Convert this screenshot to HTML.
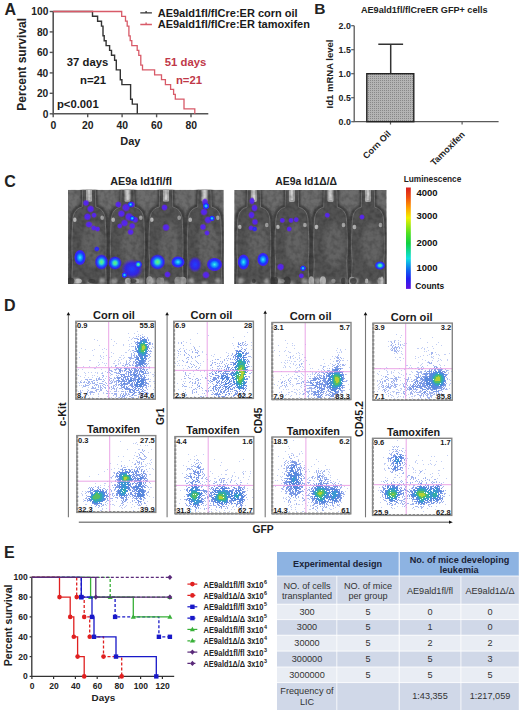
<!DOCTYPE html>
<html><head><meta charset="utf-8"><style>
html,body{margin:0;padding:0;background:#fff;width:520px;height:711px;overflow:hidden}
svg{display:block}
text{font-family:"Liberation Sans", sans-serif}
</style></head><body>
<svg width="520" height="711" viewBox="0 0 520 711">
<text x="4.40" y="14.80" font-size="16" fill="#222" text-anchor="start" style="font-weight:bold;" >A</text>
<path d="M53.2 11.46V113.8H208.3" stroke="#555" stroke-width="1.6" fill="none"/>
<path d="M49.7 113.8H53.2" stroke="#555" stroke-width="1.4"/>
<text x="48.30" y="117.50" font-size="10.2" fill="#222" text-anchor="end" style="font-weight:bold;" >0</text>
<path d="M49.7 93.3H53.2" stroke="#555" stroke-width="1.4"/>
<text x="48.30" y="97.03" font-size="10.2" fill="#222" text-anchor="end" style="font-weight:bold;" >20</text>
<path d="M49.7 72.9H53.2" stroke="#555" stroke-width="1.4"/>
<text x="48.30" y="76.56" font-size="10.2" fill="#222" text-anchor="end" style="font-weight:bold;" >40</text>
<path d="M49.7 52.4H53.2" stroke="#555" stroke-width="1.4"/>
<text x="48.30" y="56.10" font-size="10.2" fill="#222" text-anchor="end" style="font-weight:bold;" >60</text>
<path d="M49.7 31.9H53.2" stroke="#555" stroke-width="1.4"/>
<text x="48.30" y="35.63" font-size="10.2" fill="#222" text-anchor="end" style="font-weight:bold;" >80</text>
<path d="M49.7 11.5H53.2" stroke="#555" stroke-width="1.4"/>
<text x="48.30" y="15.16" font-size="10.2" fill="#222" text-anchor="end" style="font-weight:bold;" >100</text>
<path d="M53.2 113.8V117.3" stroke="#555" stroke-width="1.4"/>
<text x="53.40" y="128.50" font-size="10.4" fill="#222" text-anchor="middle" style="font-weight:bold;" >0</text>
<path d="M87.7 113.8V117.3" stroke="#555" stroke-width="1.4"/>
<text x="87.86" y="128.50" font-size="10.4" fill="#222" text-anchor="middle" style="font-weight:bold;" >20</text>
<path d="M122.1 113.8V117.3" stroke="#555" stroke-width="1.4"/>
<text x="122.32" y="128.50" font-size="10.4" fill="#222" text-anchor="middle" style="font-weight:bold;" >40</text>
<path d="M156.6 113.8V117.3" stroke="#555" stroke-width="1.4"/>
<text x="156.78" y="128.50" font-size="10.4" fill="#222" text-anchor="middle" style="font-weight:bold;" >60</text>
<path d="M191.0 113.8V117.3" stroke="#555" stroke-width="1.4"/>
<text x="191.24" y="128.50" font-size="10.4" fill="#222" text-anchor="middle" style="font-weight:bold;" >80</text>
<text x="130.30" y="145.20" font-size="11" fill="#222" text-anchor="middle" style="font-weight:bold;" >Day</text>
<text transform="translate(26.3 64.3) rotate(-90)" font-size="12" text-anchor="middle" style="font-weight:bold" fill="#222">Percent survival</text>
<path d="M53.2 11.5H92.5V16.3H97.6V21.2H101.5V26.1H103.0V35.8H104.2V40.7H106.1V45.6H109.6V50.4H111.5V55.3H114.6V60.2H116.3V69.9H120.3V79.7H121.9V84.6H130.6V99.2H132.3V104.1H137.3V113.8" stroke="#333" stroke-width="1.4" fill="none"/>
<path d="M53.2 11.5H121.7V16.3H125.5V21.2H127.2V26.1H128.9V35.8H130.2V40.7H131.8V45.6H137.2V50.4H138.8V55.3H140.8V65.1H142.5V69.9H154.6V74.8H161.5V79.7H165.4V84.6H170.6V89.4H173.6V94.3H175.3V99.2H184.0V108.9H194.8V113.8" stroke="#d85a68" stroke-width="1.3" fill="none"/>
<text x="66.80" y="66.00" font-size="11.3" fill="#1a1a1a" text-anchor="start" style="font-weight:bold;" >37 days</text>
<text x="80.00" y="84.00" font-size="11.3" fill="#1a1a1a" text-anchor="start" style="font-weight:bold;" >n=21</text>
<text x="56.90" y="108.40" font-size="11.3" fill="#1a1a1a" text-anchor="start" style="font-weight:bold;" >p&lt;0.001</text>
<text x="164.80" y="66.00" font-size="11.3" fill="#c03848" text-anchor="start" style="font-weight:bold;" >51 days</text>
<text x="175.90" y="84.00" font-size="11.3" fill="#c03848" text-anchor="start" style="font-weight:bold;" >n=21</text>
<path d="M140.3 12.9H151.9M146.1 10.9V12.9" stroke="#333" stroke-width="1.3"/>
<path d="M140.3 24.5H151.9M146.1 22.5V24.5" stroke="#d85a68" stroke-width="1.3"/>
<text x="157.70" y="17.00" font-size="11" fill="#1a1a1a" text-anchor="start" style="font-weight:bold;" >AE9ald1fl/flCre:ER corn oil</text>
<text x="157.70" y="28.40" font-size="11" fill="#1a1a1a" text-anchor="start" style="font-weight:bold;" >AE9ald1fl/flCre:ER tamoxifen</text>
<text x="314.30" y="13.90" font-size="15.5" fill="#222" text-anchor="start" style="font-weight:bold;" >B</text>
<text x="424.30" y="12.50" font-size="9.1" fill="#222" text-anchor="middle" style="font-weight:bold;" >AE9ald1fl/flCreER GFP+ cells</text>
<defs><pattern id="dots" width="2" height="2" patternUnits="userSpaceOnUse"><rect width="2" height="2" fill="#b4b4b4"/><rect width="1" height="1" fill="#888"/></pattern></defs>
<path d="M354.2 25.7V121.7H498.6" stroke="#5a5a5a" stroke-width="1.3" fill="none"/>
<path d="M351.2 121.7H354.2" stroke="#5a5a5a" stroke-width="1.2"/>
<text x="350.80" y="124.90" font-size="8.8" fill="#222" text-anchor="end" style="font-weight:bold;" >0.0</text>
<path d="M351.2 97.7H354.2" stroke="#5a5a5a" stroke-width="1.2"/>
<text x="350.80" y="100.90" font-size="8.8" fill="#222" text-anchor="end" style="font-weight:bold;" >0.5</text>
<path d="M351.2 73.7H354.2" stroke="#5a5a5a" stroke-width="1.2"/>
<text x="350.80" y="76.90" font-size="8.8" fill="#222" text-anchor="end" style="font-weight:bold;" >1.0</text>
<path d="M351.2 49.7H354.2" stroke="#5a5a5a" stroke-width="1.2"/>
<text x="350.80" y="52.90" font-size="8.8" fill="#222" text-anchor="end" style="font-weight:bold;" >1.5</text>
<path d="M351.2 25.7H354.2" stroke="#5a5a5a" stroke-width="1.2"/>
<text x="350.80" y="28.90" font-size="8.8" fill="#222" text-anchor="end" style="font-weight:bold;" >2.0</text>
<path d="M390.5 121.7V124.5" stroke="#5a5a5a" stroke-width="1.2"/>
<path d="M462.1 121.7V124.5" stroke="#5a5a5a" stroke-width="1.2"/>
<path d="M390.7 73.7V44.2M378.3 44.2H403.1" stroke="#333" stroke-width="1.5"/>
<rect x="366.8" y="73.7" width="47" height="48.0" fill="url(#dots)" stroke="#222" stroke-width="1.4"/>
<text transform="translate(333 74) rotate(-90)" font-size="9.5" text-anchor="middle" style="font-weight:bold" fill="#222">Id1 mRNA level</text>
<text transform="translate(391.5 134.5) rotate(-45)" font-size="9" text-anchor="end" style="font-weight:bold" fill="#222">Corn Oil</text>
<text transform="translate(465.5 135) rotate(-45)" font-size="9" text-anchor="end" style="font-weight:bold" fill="#222">Tamoxifen</text>
<defs><filter id="bl03" x="-5%" y="-5%" width="110%" height="110%"><feGaussianBlur stdDeviation="0.45"/></filter></defs>
<text x="4.30" y="186.80" font-size="16" fill="#222" text-anchor="start" style="font-weight:bold;" >C</text>
<text x="141.10" y="185.00" font-size="10.8" fill="#222" text-anchor="middle" style="font-weight:bold;" >AE9a Id1fl/fl</text>
<text x="306.20" y="185.00" font-size="10.4" fill="#222" text-anchor="middle" style="font-weight:bold;" >AE9a Id1&#916;/&#916;</text>
<defs>
<filter id="bl1" x="-50%" y="-50%" width="200%" height="200%"><feGaussianBlur stdDeviation="1.2"/></filter>
<filter id="bl2" x="-50%" y="-50%" width="200%" height="200%"><feGaussianBlur stdDeviation="2.2"/></filter>
<filter id="bl05" x="-50%" y="-50%" width="200%" height="200%"><feGaussianBlur stdDeviation="0.6"/></filter>
<filter id="noise" x="0" y="0" width="100%" height="100%"><feTurbulence type="fractalNoise" baseFrequency="0.22" numOctaves="2" seed="3"/><feColorMatrix type="matrix" values="0 0 0 0 0  0 0 0 0 0  0 0 0 0 0  1.2 0 0 0 -0.45"/></filter>
<clipPath id="cp1"><rect x="68" y="189.8" width="155.8" height="94.2"/></clipPath>
<clipPath id="cp2"><rect x="234.2" y="190" width="152.5" height="94"/></clipPath>
<linearGradient id="cbar" x1="0" y1="0" x2="0" y2="1">
<stop offset="0" stop-color="#d81e1e"/><stop offset="0.1" stop-color="#f05010"/><stop offset="0.2" stop-color="#ffa000"/>
<stop offset="0.3" stop-color="#f0f000"/><stop offset="0.45" stop-color="#50e020"/><stop offset="0.55" stop-color="#10d040"/>
<stop offset="0.7" stop-color="#10e0e0"/><stop offset="0.82" stop-color="#1060f0"/><stop offset="0.9" stop-color="#2020f0"/><stop offset="1" stop-color="#6010e0"/>
</linearGradient>
<radialGradient id="gb"><stop offset="0" stop-color="#70f070"/><stop offset="0.28" stop-color="#30e0c0"/><stop offset="0.5" stop-color="#1870ff"/><stop offset="0.78" stop-color="#3020f0"/><stop offset="1" stop-color="#5020e0" stop-opacity="0"/></radialGradient>
<radialGradient id="gc"><stop offset="0" stop-color="#40f0f0"/><stop offset="0.3" stop-color="#10a0f8"/><stop offset="0.6" stop-color="#1838ff"/><stop offset="0.85" stop-color="#4020f0"/><stop offset="1" stop-color="#5020e0" stop-opacity="0"/></radialGradient>
<radialGradient id="gp"><stop offset="0" stop-color="#4c28f8"/><stop offset="0.6" stop-color="#5a22ee" stop-opacity="0.9"/><stop offset="1" stop-color="#6020e0" stop-opacity="0"/></radialGradient>
<radialGradient id="gbl"><stop offset="0" stop-color="#2040ff"/><stop offset="0.6" stop-color="#3020f0" stop-opacity="0.9"/><stop offset="1" stop-color="#5020e0" stop-opacity="0"/></radialGradient>
</defs>
<g clip-path="url(#cp1)">
<rect x="68" y="189.8" width="155.8" height="94.2" fill="#6c6c6c"/>
<path d="M82.0 187.8 L96.0 187.8 L96.5 205.8 C105.2 207.8 107.2 213.8 107.2 223.8 C108.2 239.8 108.2 251.8 107.2 261.8 L108.2 286.0 L69.8 286.0 L70.8 261.8 C69.8 251.8 69.8 239.8 70.8 223.8 C70.8 213.8 72.8 207.8 81.5 205.8Z" fill="#525252" stroke="#303030" stroke-width="1.8" filter="url(#bl1)"/>
<path d="M82.0 187.8 L96.0 187.8 L96.5 205.8 C105.2 207.8 107.2 213.8 107.2 223.8 C108.2 239.8 108.2 251.8 107.2 261.8 L108.2 286.0 L69.8 286.0 L70.8 261.8 C69.8 251.8 69.8 239.8 70.8 223.8 C70.8 213.8 72.8 207.8 81.5 205.8Z" fill="none" stroke="#8a8a8a" stroke-width="0.8" transform="translate(89.0 236.9) scale(0.9 0.96) translate(-89.0 -236.9)" filter="url(#bl05)" opacity="0.8"/>
<ellipse cx="93.0" cy="244.8" rx="10.6" ry="22" fill="#636363" filter="url(#bl2)"/>
<ellipse cx="74.8" cy="219.8" rx="1.8" ry="2.3" fill="#b8b8b8" filter="url(#bl05)"/>
<ellipse cx="102.2" cy="217.8" rx="1.8" ry="2.2" fill="#a8a8a8" filter="url(#bl05)"/>
<rect x="86.0" y="187.8" width="6" height="14" rx="1.5" fill="#a8a8a8" filter="url(#bl05)"/>
<rect x="87.8" y="187.8" width="2.4" height="12" fill="#d0d0d0" filter="url(#bl05)"/>
<ellipse cx="75.8" cy="281.0" rx="3" ry="3" fill="#9a9a9a" filter="url(#bl1)"/>
<ellipse cx="102.2" cy="281.0" rx="3" ry="3" fill="#9a9a9a" filter="url(#bl1)"/>
<ellipse cx="89.0" cy="283.0" rx="3" ry="2" fill="#8a8a8a" filter="url(#bl1)"/>
<path d="M120.5 187.8 L134.5 187.8 L135.0 205.8 C143.8 207.8 145.8 213.8 145.8 223.8 C146.8 239.8 146.8 251.8 145.8 261.8 L146.8 286.0 L108.2 286.0 L109.2 261.8 C108.2 251.8 108.2 239.8 109.2 223.8 C109.2 213.8 111.2 207.8 120.0 205.8Z" fill="#525252" stroke="#303030" stroke-width="1.8" filter="url(#bl1)"/>
<path d="M120.5 187.8 L134.5 187.8 L135.0 205.8 C143.8 207.8 145.8 213.8 145.8 223.8 C146.8 239.8 146.8 251.8 145.8 261.8 L146.8 286.0 L108.2 286.0 L109.2 261.8 C108.2 251.8 108.2 239.8 109.2 223.8 C109.2 213.8 111.2 207.8 120.0 205.8Z" fill="none" stroke="#8a8a8a" stroke-width="0.8" transform="translate(127.5 236.9) scale(0.9 0.96) translate(-127.5 -236.9)" filter="url(#bl05)" opacity="0.8"/>
<ellipse cx="131.5" cy="244.8" rx="10.6" ry="22" fill="#636363" filter="url(#bl2)"/>
<ellipse cx="113.2" cy="219.8" rx="1.8" ry="2.3" fill="#b8b8b8" filter="url(#bl05)"/>
<ellipse cx="140.8" cy="217.8" rx="1.8" ry="2.2" fill="#a8a8a8" filter="url(#bl05)"/>
<rect x="124.5" y="187.8" width="6" height="14" rx="1.5" fill="#a8a8a8" filter="url(#bl05)"/>
<rect x="126.3" y="187.8" width="2.4" height="12" fill="#d0d0d0" filter="url(#bl05)"/>
<ellipse cx="114.2" cy="281.0" rx="3" ry="3" fill="#9a9a9a" filter="url(#bl1)"/>
<ellipse cx="140.8" cy="281.0" rx="3" ry="3" fill="#9a9a9a" filter="url(#bl1)"/>
<ellipse cx="127.5" cy="283.0" rx="3" ry="2" fill="#8a8a8a" filter="url(#bl1)"/>
<path d="M159.0 187.8 L173.0 187.8 L173.5 205.8 C182.2 207.8 184.2 213.8 184.2 223.8 C185.2 239.8 185.2 251.8 184.2 261.8 L185.2 286.0 L146.8 286.0 L147.8 261.8 C146.8 251.8 146.8 239.8 147.8 223.8 C147.8 213.8 149.8 207.8 158.5 205.8Z" fill="#525252" stroke="#303030" stroke-width="1.8" filter="url(#bl1)"/>
<path d="M159.0 187.8 L173.0 187.8 L173.5 205.8 C182.2 207.8 184.2 213.8 184.2 223.8 C185.2 239.8 185.2 251.8 184.2 261.8 L185.2 286.0 L146.8 286.0 L147.8 261.8 C146.8 251.8 146.8 239.8 147.8 223.8 C147.8 213.8 149.8 207.8 158.5 205.8Z" fill="none" stroke="#8a8a8a" stroke-width="0.8" transform="translate(166.0 236.9) scale(0.9 0.96) translate(-166.0 -236.9)" filter="url(#bl05)" opacity="0.8"/>
<ellipse cx="170.0" cy="244.8" rx="10.6" ry="22" fill="#636363" filter="url(#bl2)"/>
<ellipse cx="151.8" cy="219.8" rx="1.8" ry="2.3" fill="#b8b8b8" filter="url(#bl05)"/>
<ellipse cx="179.2" cy="217.8" rx="1.8" ry="2.2" fill="#a8a8a8" filter="url(#bl05)"/>
<rect x="163.0" y="187.8" width="6" height="14" rx="1.5" fill="#a8a8a8" filter="url(#bl05)"/>
<rect x="164.8" y="187.8" width="2.4" height="12" fill="#d0d0d0" filter="url(#bl05)"/>
<ellipse cx="152.8" cy="281.0" rx="3" ry="3" fill="#9a9a9a" filter="url(#bl1)"/>
<ellipse cx="179.2" cy="281.0" rx="3" ry="3" fill="#9a9a9a" filter="url(#bl1)"/>
<ellipse cx="166.0" cy="283.0" rx="3" ry="2" fill="#8a8a8a" filter="url(#bl1)"/>
<path d="M197.5 187.8 L211.5 187.8 L212.0 205.8 C220.8 207.8 222.8 213.8 222.8 223.8 C223.8 239.8 223.8 251.8 222.8 261.8 L223.8 286.0 L185.2 286.0 L186.2 261.8 C185.2 251.8 185.2 239.8 186.2 223.8 C186.2 213.8 188.2 207.8 197.0 205.8Z" fill="#525252" stroke="#303030" stroke-width="1.8" filter="url(#bl1)"/>
<path d="M197.5 187.8 L211.5 187.8 L212.0 205.8 C220.8 207.8 222.8 213.8 222.8 223.8 C223.8 239.8 223.8 251.8 222.8 261.8 L223.8 286.0 L185.2 286.0 L186.2 261.8 C185.2 251.8 185.2 239.8 186.2 223.8 C186.2 213.8 188.2 207.8 197.0 205.8Z" fill="none" stroke="#8a8a8a" stroke-width="0.8" transform="translate(204.5 236.9) scale(0.9 0.96) translate(-204.5 -236.9)" filter="url(#bl05)" opacity="0.8"/>
<ellipse cx="208.5" cy="244.8" rx="10.6" ry="22" fill="#636363" filter="url(#bl2)"/>
<ellipse cx="190.2" cy="219.8" rx="1.8" ry="2.3" fill="#b8b8b8" filter="url(#bl05)"/>
<ellipse cx="217.8" cy="217.8" rx="1.8" ry="2.2" fill="#a8a8a8" filter="url(#bl05)"/>
<rect x="201.5" y="187.8" width="6" height="14" rx="1.5" fill="#a8a8a8" filter="url(#bl05)"/>
<rect x="203.3" y="187.8" width="2.4" height="12" fill="#d0d0d0" filter="url(#bl05)"/>
<ellipse cx="191.2" cy="281.0" rx="3" ry="3" fill="#9a9a9a" filter="url(#bl1)"/>
<ellipse cx="217.8" cy="281.0" rx="3" ry="3" fill="#9a9a9a" filter="url(#bl1)"/>
<ellipse cx="204.5" cy="283.0" rx="3" ry="2" fill="#8a8a8a" filter="url(#bl1)"/>
<ellipse cx="182.6" cy="281.0" rx="3.9" ry="4.2" fill="#b0b0b0" filter="url(#bl05)" opacity="0.8"/>
<ellipse cx="162.1" cy="281.0" rx="2.1" ry="3.4" fill="#9a9a9a" filter="url(#bl05)" opacity="0.8"/>
<ellipse cx="136.5" cy="281.0" rx="2.9" ry="2.5" fill="#b0b0b0" filter="url(#bl05)" opacity="0.8"/>
<ellipse cx="76.3" cy="281.0" rx="3.3" ry="2.3" fill="#9a9a9a" filter="url(#bl05)" opacity="0.8"/>
<ellipse cx="78.4" cy="281.0" rx="3.5" ry="2.5" fill="#c8c8c8" filter="url(#bl05)" opacity="0.8"/>
<ellipse cx="70.7" cy="281.0" rx="3.6" ry="3.3" fill="#3a3a3a" filter="url(#bl05)" opacity="0.8"/>
<ellipse cx="149.5" cy="281.0" rx="3.3" ry="4.7" fill="#b0b0b0" filter="url(#bl05)" opacity="0.8"/>
<ellipse cx="159.5" cy="281.0" rx="3.1" ry="3.8" fill="#9a9a9a" filter="url(#bl05)" opacity="0.8"/>
<ellipse cx="91.8" cy="281.0" rx="3.6" ry="2.0" fill="#3a3a3a" filter="url(#bl05)" opacity="0.8"/>
<ellipse cx="127.9" cy="281.0" rx="3.0" ry="2.9" fill="#c8c8c8" filter="url(#bl05)" opacity="0.8"/>
<ellipse cx="134.2" cy="281.0" rx="2.5" ry="2.4" fill="#9a9a9a" filter="url(#bl05)" opacity="0.8"/>
<ellipse cx="133.3" cy="281.0" rx="3.2" ry="2.1" fill="#3a3a3a" filter="url(#bl05)" opacity="0.8"/>
<ellipse cx="128.5" cy="281.0" rx="1.9" ry="2.7" fill="#9a9a9a" filter="url(#bl05)" opacity="0.8"/>
<ellipse cx="177.9" cy="281.0" rx="3.5" ry="4.3" fill="#9a9a9a" filter="url(#bl05)" opacity="0.8"/>
<rect x="68" y="189.8" width="155.8" height="94.2" filter="url(#noise)" opacity="0.35"/>
<ellipse cx="86" cy="203" rx="3.5" ry="3.5" fill="url(#gp)" filter="url(#bl05)"/>
<ellipse cx="90.6" cy="209" rx="4" ry="4" fill="url(#gp)" filter="url(#bl05)"/>
<ellipse cx="87.5" cy="216.8" rx="4" ry="4" fill="url(#gp)" filter="url(#bl05)"/>
<ellipse cx="94" cy="215.2" rx="3" ry="3" fill="url(#gp)" filter="url(#bl05)"/>
<ellipse cx="89" cy="224.5" rx="4" ry="3.5" fill="url(#gp)" filter="url(#bl05)"/>
<ellipse cx="93.7" cy="228" rx="3" ry="3" fill="url(#gp)" filter="url(#bl05)"/>
<ellipse cx="97.5" cy="229" rx="3" ry="3" fill="url(#gp)" filter="url(#bl05)"/>
<ellipse cx="96.8" cy="249" rx="3" ry="3" fill="url(#gbl)" filter="url(#bl05)"/>
<ellipse cx="80" cy="257.5" rx="6" ry="8" fill="url(#gc)" filter="url(#bl05)"/>
<ellipse cx="101.5" cy="262" rx="7" ry="8" fill="url(#gb)" filter="url(#bl05)"/>
<ellipse cx="118.3" cy="204.5" rx="3.5" ry="3.5" fill="url(#gp)" filter="url(#bl05)"/>
<ellipse cx="126" cy="207.5" rx="4.5" ry="4.5" fill="url(#gp)" filter="url(#bl05)"/>
<ellipse cx="132" cy="204.5" rx="3.5" ry="3.5" fill="url(#gp)" filter="url(#bl05)"/>
<ellipse cx="121.4" cy="213.7" rx="4" ry="4" fill="url(#gp)" filter="url(#bl05)"/>
<ellipse cx="129" cy="216.8" rx="4.5" ry="4.5" fill="url(#gp)" filter="url(#bl05)"/>
<ellipse cx="135.2" cy="219.8" rx="3.5" ry="3.5" fill="url(#gp)" filter="url(#bl05)"/>
<ellipse cx="124.5" cy="223" rx="4" ry="4" fill="url(#gp)" filter="url(#bl05)"/>
<ellipse cx="132.2" cy="226" rx="3.5" ry="3.5" fill="url(#gp)" filter="url(#bl05)"/>
<ellipse cx="119.8" cy="226" rx="3" ry="3" fill="url(#gp)" filter="url(#bl05)"/>
<ellipse cx="130.6" cy="204.5" rx="3" ry="3" fill="url(#gc)" filter="url(#bl05)"/>
<ellipse cx="132.2" cy="218.3" rx="3" ry="3" fill="url(#gc)" filter="url(#bl05)"/>
<ellipse cx="130.6" cy="232" rx="3.5" ry="3.5" fill="url(#gp)" filter="url(#bl05)"/>
<ellipse cx="115" cy="263" rx="7" ry="7" fill="url(#gb)" filter="url(#bl05)"/>
<ellipse cx="132" cy="269" rx="11" ry="10" fill="url(#gbl)" filter="url(#bl05)"/>
<ellipse cx="124.5" cy="275" rx="3" ry="3" fill="url(#gc)" filter="url(#bl05)"/>
<ellipse cx="138.3" cy="264.5" rx="4" ry="4" fill="url(#gb)" filter="url(#bl05)"/>
<ellipse cx="164.5" cy="207.5" rx="3.5" ry="3.5" fill="url(#gp)" filter="url(#bl05)"/>
<ellipse cx="166" cy="227.5" rx="4" ry="4" fill="url(#gp)" filter="url(#bl05)"/>
<ellipse cx="157.5" cy="262" rx="8" ry="8" fill="url(#gb)" filter="url(#bl05)"/>
<ellipse cx="178" cy="262" rx="7" ry="6" fill="url(#gc)" filter="url(#bl05)"/>
<ellipse cx="167.5" cy="274.5" rx="3.5" ry="3.5" fill="url(#gp)" filter="url(#bl05)"/>
<ellipse cx="205" cy="202" rx="3.5" ry="4" fill="url(#gp)" filter="url(#bl05)"/>
<ellipse cx="204" cy="212" rx="4" ry="4" fill="url(#gp)" filter="url(#bl05)"/>
<ellipse cx="208" cy="220" rx="4" ry="4" fill="url(#gp)" filter="url(#bl05)"/>
<ellipse cx="203" cy="227" rx="3.5" ry="3.5" fill="url(#gp)" filter="url(#bl05)"/>
<ellipse cx="207" cy="233" rx="3" ry="3" fill="url(#gp)" filter="url(#bl05)"/>
<ellipse cx="206" cy="206" rx="3.5" ry="3.5" fill="url(#gc)" filter="url(#bl05)"/>
<ellipse cx="212" cy="218.3" rx="3" ry="3" fill="url(#gc)" filter="url(#bl05)"/>
<ellipse cx="195" cy="264.5" rx="7" ry="8" fill="url(#gbl)" filter="url(#bl05)"/>
<ellipse cx="214.5" cy="264.5" rx="8" ry="7" fill="url(#gc)" filter="url(#bl05)"/>
<ellipse cx="206" cy="275" rx="4" ry="4" fill="url(#gp)" filter="url(#bl05)"/>
</g>
<g clip-path="url(#cp2)">
<rect x="234.2" y="190" width="152.5" height="94" fill="#6c6c6c"/>
<path d="M246.8 188 L260.8 188 L261.3 206 C269.8 208 271.8 214 271.8 224 C272.8 240 272.8 252 271.8 262 L272.8 286 L234.8 286 L235.8 262 C234.8 252 234.8 240 235.8 224 C235.8 214 237.8 208 246.3 206Z" fill="#525252" stroke="#303030" stroke-width="1.8" filter="url(#bl1)"/>
<path d="M246.8 188 L260.8 188 L261.3 206 C269.8 208 271.8 214 271.8 224 C272.8 240 272.8 252 271.8 262 L272.8 286 L234.8 286 L235.8 262 C234.8 252 234.8 240 235.8 224 C235.8 214 237.8 208 246.3 206Z" fill="none" stroke="#8a8a8a" stroke-width="0.8" transform="translate(253.8 237.0) scale(0.9 0.96) translate(-253.8 -237.0)" filter="url(#bl05)" opacity="0.8"/>
<ellipse cx="257.8" cy="245" rx="10.5" ry="22" fill="#636363" filter="url(#bl2)"/>
<ellipse cx="239.8" cy="227" rx="1.8" ry="2.3" fill="#b8b8b8" filter="url(#bl05)"/>
<ellipse cx="266.8" cy="225" rx="1.8" ry="2.2" fill="#a8a8a8" filter="url(#bl05)"/>
<rect x="250.8" y="188" width="6" height="14" rx="1.5" fill="#a8a8a8" filter="url(#bl05)"/>
<rect x="252.6" y="188" width="2.4" height="12" fill="#d0d0d0" filter="url(#bl05)"/>
<ellipse cx="240.8" cy="281" rx="3" ry="3" fill="#9a9a9a" filter="url(#bl1)"/>
<ellipse cx="266.8" cy="281" rx="3" ry="3" fill="#9a9a9a" filter="url(#bl1)"/>
<ellipse cx="253.8" cy="283" rx="3" ry="2" fill="#8a8a8a" filter="url(#bl1)"/>
<path d="M284.9 188 L298.9 188 L299.4 206 C307.9 208 309.9 214 309.9 224 C310.9 240 310.9 252 309.9 262 L310.9 286 L272.9 286 L273.9 262 C272.9 252 272.9 240 273.9 224 C273.9 214 275.9 208 284.4 206Z" fill="#525252" stroke="#303030" stroke-width="1.8" filter="url(#bl1)"/>
<path d="M284.9 188 L298.9 188 L299.4 206 C307.9 208 309.9 214 309.9 224 C310.9 240 310.9 252 309.9 262 L310.9 286 L272.9 286 L273.9 262 C272.9 252 272.9 240 273.9 224 C273.9 214 275.9 208 284.4 206Z" fill="none" stroke="#8a8a8a" stroke-width="0.8" transform="translate(291.9 237.0) scale(0.9 0.96) translate(-291.9 -237.0)" filter="url(#bl05)" opacity="0.8"/>
<ellipse cx="295.9" cy="245" rx="10.5" ry="22" fill="#636363" filter="url(#bl2)"/>
<ellipse cx="277.9" cy="227" rx="1.8" ry="2.3" fill="#b8b8b8" filter="url(#bl05)"/>
<ellipse cx="304.9" cy="225" rx="1.8" ry="2.2" fill="#a8a8a8" filter="url(#bl05)"/>
<rect x="288.9" y="188" width="6" height="14" rx="1.5" fill="#a8a8a8" filter="url(#bl05)"/>
<rect x="290.7" y="188" width="2.4" height="12" fill="#d0d0d0" filter="url(#bl05)"/>
<ellipse cx="278.9" cy="281" rx="3" ry="3" fill="#9a9a9a" filter="url(#bl1)"/>
<ellipse cx="304.9" cy="281" rx="3" ry="3" fill="#9a9a9a" filter="url(#bl1)"/>
<ellipse cx="291.9" cy="283" rx="3" ry="2" fill="#8a8a8a" filter="url(#bl1)"/>
<path d="M323.5 188 L337.5 188 L338.0 206 C346.5 208 348.5 214 348.5 224 C349.5 240 349.5 252 348.5 262 L349.5 286 L311.5 286 L312.5 262 C311.5 252 311.5 240 312.5 224 C312.5 214 314.5 208 323.0 206Z" fill="#525252" stroke="#303030" stroke-width="1.8" filter="url(#bl1)"/>
<path d="M323.5 188 L337.5 188 L338.0 206 C346.5 208 348.5 214 348.5 224 C349.5 240 349.5 252 348.5 262 L349.5 286 L311.5 286 L312.5 262 C311.5 252 311.5 240 312.5 224 C312.5 214 314.5 208 323.0 206Z" fill="none" stroke="#8a8a8a" stroke-width="0.8" transform="translate(330.5 237.0) scale(0.9 0.96) translate(-330.5 -237.0)" filter="url(#bl05)" opacity="0.8"/>
<ellipse cx="334.5" cy="245" rx="10.5" ry="22" fill="#636363" filter="url(#bl2)"/>
<ellipse cx="316.5" cy="227" rx="1.8" ry="2.3" fill="#b8b8b8" filter="url(#bl05)"/>
<ellipse cx="343.5" cy="225" rx="1.8" ry="2.2" fill="#a8a8a8" filter="url(#bl05)"/>
<rect x="327.5" y="188" width="6" height="14" rx="1.5" fill="#a8a8a8" filter="url(#bl05)"/>
<rect x="329.3" y="188" width="2.4" height="12" fill="#d0d0d0" filter="url(#bl05)"/>
<ellipse cx="317.5" cy="281" rx="3" ry="3" fill="#9a9a9a" filter="url(#bl1)"/>
<ellipse cx="343.5" cy="281" rx="3" ry="3" fill="#9a9a9a" filter="url(#bl1)"/>
<ellipse cx="330.5" cy="283" rx="3" ry="2" fill="#8a8a8a" filter="url(#bl1)"/>
<path d="M361.0 188 L375.0 188 L375.5 206 C383.5 208 385.5 214 385.5 224 C386.5 240 386.5 252 385.5 262 L386.5 286 L349.5 286 L350.5 262 C349.5 252 349.5 240 350.5 224 C350.5 214 352.5 208 360.5 206Z" fill="#525252" stroke="#303030" stroke-width="1.8" filter="url(#bl1)"/>
<path d="M361.0 188 L375.0 188 L375.5 206 C383.5 208 385.5 214 385.5 224 C386.5 240 386.5 252 385.5 262 L386.5 286 L349.5 286 L350.5 262 C349.5 252 349.5 240 350.5 224 C350.5 214 352.5 208 360.5 206Z" fill="none" stroke="#8a8a8a" stroke-width="0.8" transform="translate(368.0 237.0) scale(0.9 0.96) translate(-368.0 -237.0)" filter="url(#bl05)" opacity="0.8"/>
<ellipse cx="372.0" cy="245" rx="10.2" ry="22" fill="#636363" filter="url(#bl2)"/>
<ellipse cx="354.5" cy="227" rx="1.8" ry="2.3" fill="#b8b8b8" filter="url(#bl05)"/>
<ellipse cx="380.5" cy="225" rx="1.8" ry="2.2" fill="#a8a8a8" filter="url(#bl05)"/>
<rect x="365.0" y="188" width="6" height="14" rx="1.5" fill="#a8a8a8" filter="url(#bl05)"/>
<rect x="366.8" y="188" width="2.4" height="12" fill="#d0d0d0" filter="url(#bl05)"/>
<ellipse cx="355.5" cy="281" rx="3" ry="3" fill="#9a9a9a" filter="url(#bl1)"/>
<ellipse cx="380.5" cy="281" rx="3" ry="3" fill="#9a9a9a" filter="url(#bl1)"/>
<ellipse cx="368.0" cy="283" rx="3" ry="2" fill="#8a8a8a" filter="url(#bl1)"/>
<ellipse cx="287.0" cy="281.0" rx="3.7" ry="4.6" fill="#3a3a3a" filter="url(#bl05)" opacity="0.8"/>
<ellipse cx="311.3" cy="281.0" rx="2.7" ry="4.7" fill="#c8c8c8" filter="url(#bl05)" opacity="0.8"/>
<ellipse cx="380.0" cy="281.0" rx="2.4" ry="3.5" fill="#b0b0b0" filter="url(#bl05)" opacity="0.8"/>
<ellipse cx="275.5" cy="281.0" rx="2.5" ry="4.1" fill="#3a3a3a" filter="url(#bl05)" opacity="0.8"/>
<ellipse cx="351.8" cy="281.0" rx="3.2" ry="4.2" fill="#b0b0b0" filter="url(#bl05)" opacity="0.8"/>
<ellipse cx="333.4" cy="281.0" rx="2.2" ry="2.3" fill="#9a9a9a" filter="url(#bl05)" opacity="0.8"/>
<ellipse cx="272.6" cy="281.0" rx="2.1" ry="4.6" fill="#3a3a3a" filter="url(#bl05)" opacity="0.8"/>
<ellipse cx="382.0" cy="281.0" rx="1.5" ry="4.5" fill="#c8c8c8" filter="url(#bl05)" opacity="0.8"/>
<ellipse cx="322.9" cy="281.0" rx="3.1" ry="4.7" fill="#c8c8c8" filter="url(#bl05)" opacity="0.8"/>
<ellipse cx="281.7" cy="281.0" rx="3.0" ry="2.0" fill="#9a9a9a" filter="url(#bl05)" opacity="0.8"/>
<ellipse cx="366.6" cy="281.0" rx="1.7" ry="2.4" fill="#c8c8c8" filter="url(#bl05)" opacity="0.8"/>
<ellipse cx="343.3" cy="281.0" rx="2.3" ry="3.5" fill="#3a3a3a" filter="url(#bl05)" opacity="0.8"/>
<ellipse cx="253.8" cy="281.0" rx="1.9" ry="2.2" fill="#3a3a3a" filter="url(#bl05)" opacity="0.8"/>
<ellipse cx="353.4" cy="281.0" rx="3.4" ry="3.1" fill="#3a3a3a" filter="url(#bl05)" opacity="0.8"/>
<rect x="234.2" y="190" width="152.5" height="94" filter="url(#noise)" opacity="0.35"/>
<ellipse cx="252" cy="201" rx="3" ry="4" fill="url(#gp)" filter="url(#bl05)"/>
<ellipse cx="254.5" cy="208" rx="3.5" ry="4" fill="url(#gp)" filter="url(#bl05)"/>
<ellipse cx="251.5" cy="215" rx="3.5" ry="4" fill="url(#gp)" filter="url(#bl05)"/>
<ellipse cx="255" cy="222" rx="3.5" ry="3.5" fill="url(#gp)" filter="url(#bl05)"/>
<ellipse cx="251" cy="228" rx="3" ry="3" fill="url(#gp)" filter="url(#bl05)"/>
<ellipse cx="254.6" cy="229" rx="3" ry="3" fill="url(#gbl)" filter="url(#bl05)"/>
<ellipse cx="243.5" cy="262" rx="6" ry="8" fill="url(#gc)" filter="url(#bl05)"/>
<ellipse cx="263" cy="259.5" rx="6" ry="7" fill="url(#gc)" filter="url(#bl05)"/>
<ellipse cx="282.3" cy="220.4" rx="3" ry="3" fill="url(#gp)" filter="url(#bl05)"/>
<ellipse cx="291" cy="220.4" rx="3" ry="3" fill="url(#gp)" filter="url(#bl05)"/>
<ellipse cx="296.2" cy="219.7" rx="3" ry="3" fill="url(#gp)" filter="url(#bl05)"/>
<ellipse cx="289.2" cy="229" rx="3" ry="3" fill="url(#gp)" filter="url(#bl05)"/>
<ellipse cx="303" cy="268.2" rx="3" ry="3" fill="url(#gc)" filter="url(#bl05)"/>
<ellipse cx="280.6" cy="267" rx="4" ry="4" fill="url(#gp)" filter="url(#bl05)"/>
<ellipse cx="301.3" cy="275.8" rx="3" ry="3" fill="url(#gp)" filter="url(#bl05)"/>
<ellipse cx="327.3" cy="215.2" rx="3" ry="3" fill="url(#gp)" filter="url(#bl05)"/>
<ellipse cx="362" cy="217" rx="3" ry="3" fill="url(#gp)" filter="url(#bl05)"/>
<ellipse cx="380" cy="265.5" rx="5.5" ry="4.5" fill="url(#gb)" filter="url(#bl05)"/>
</g>
<rect x="406" y="187.5" width="4.8" height="101.4" fill="url(#cbar)"/>
<text x="432.50" y="182.00" font-size="8.3" fill="#222" text-anchor="middle" style="font-weight:bold;" >Luminescence</text>
<text x="416.50" y="196.30" font-size="9.5" fill="#111" text-anchor="start" style="font-weight:bold;" >4000</text>
<text x="416.50" y="219.10" font-size="9.5" fill="#111" text-anchor="start" style="font-weight:bold;" >3000</text>
<text x="416.50" y="245.90" font-size="9.5" fill="#111" text-anchor="start" style="font-weight:bold;" >2000</text>
<text x="416.50" y="271.30" font-size="9.5" fill="#111" text-anchor="start" style="font-weight:bold;" >1000</text>
<text x="415.30" y="288.90" font-size="8.4" fill="#111" text-anchor="start" style="font-weight:bold;" >Counts</text>
<text x="4.00" y="311.30" font-size="16" fill="#222" text-anchor="start" style="font-weight:bold;" >D</text>
<g filter="url(#bl03)">
<path d="M78.5 369.5h0M78.5 375.5h0M78.5 382.5h0M78.5 391.5h0M79.5 352.5h0M79.5 357.5h0M79.5 383.5h0M79.5 385.5h0M79.5 396.5h0M80.5 376.5h0M80.5 396.5h0M81.5 348.5h0M81.5 380.5h0M81.5 385.5h0M81.5 396.5h0M82.5 369.5h0M82.5 387.5h0M82.5 390.5h0M83.5 366.5h0M83.5 396.5h0M84.5 372.5h0M84.5 377.5h0M84.5 394.5h0M85.5 349.5h0M85.5 373.5h0M85.5 375.5h0M86.5 393.5h0M87.5 389.5h0M87.5 394.5h0M87.5 398.5h0M88.5 372.5h0M88.5 377.5h0M88.5 387.5h0M88.5 395.5h0M88.5 398.5h0M89.5 360.5h0M89.5 366.5h0M89.5 397.5h0M90.5 360.5h0M91.5 372.5h0M92.5 350.5h0M92.5 375.5h0M92.5 377.5h0M92.5 397.5h0M93.5 355.5h0M93.5 394.5h0M94.5 339.5h0M94.5 349.5h0M94.5 368.5h0M94.5 375.5h0M95.5 368.5h0M95.5 372.5h0M96.5 366.5h0M97.5 340.5h0M97.5 372.5h0M97.5 373.5h0M97.5 376.5h0M98.5 362.5h0M98.5 365.5h0M98.5 393.5h0M98.5 394.5h0M98.5 396.5h0M98.5 398.5h0M99.5 345.5h0M99.5 364.5h0M100.5 355.5h0M100.5 356.5h0M100.5 359.5h0M101.5 357.5h0M101.5 369.5h0M101.5 373.5h0M101.5 398.5h0M102.5 349.5h0M102.5 362.5h0M102.5 372.5h0M103.5 352.5h0M103.5 356.5h0M103.5 358.5h0M103.5 392.5h0M103.5 393.5h0M104.5 348.5h0M104.5 363.5h0M105.5 365.5h0M105.5 371.5h0M105.5 378.5h0M106.5 349.5h0M106.5 355.5h0M106.5 363.5h0M106.5 376.5h0M107.5 396.5h0M108.5 359.5h0M108.5 376.5h0M108.5 395.5h0M109.5 357.5h0M109.5 393.5h0M109.5 397.5h0M110.5 375.5h0M110.5 391.5h0M111.5 339.5h0M111.5 352.5h0M111.5 356.5h0M111.5 366.5h0M111.5 393.5h0M111.5 397.5h0M112.5 374.5h0M113.5 345.5h0M113.5 353.5h0M113.5 363.5h0M114.5 341.5h0M114.5 361.5h0M114.5 363.5h0M115.5 360.5h0M115.5 397.5h0M116.5 343.5h0M118.5 359.5h0M118.5 361.5h0M118.5 363.5h0M118.5 364.5h0M118.5 391.5h0M118.5 397.5h0M119.5 357.5h0M119.5 360.5h0M120.5 357.5h0M120.5 362.5h0M120.5 363.5h0M121.5 355.5h0M121.5 359.5h0M123.5 344.5h0M123.5 345.5h0M123.5 355.5h0M123.5 358.5h0M123.5 363.5h0M124.5 357.5h0M125.5 352.5h0M126.5 352.5h0M126.5 360.5h0M128.5 333.5h0M128.5 340.5h0M128.5 350.5h0M129.5 337.5h0M129.5 344.5h0M129.5 346.5h0M129.5 349.5h0M130.5 351.5h0M130.5 398.5h0M131.5 339.5h0M131.5 343.5h0M131.5 346.5h0M132.5 338.5h0M132.5 346.5h0M133.5 337.5h0M134.5 333.5h0M137.5 331.5h0M138.5 334.5h0M142.5 334.5h0M148.5 375.5h0M148.5 397.5h0M149.5 360.5h0M149.5 366.5h0M149.5 368.5h0M150.5 360.5h0M150.5 372.5h0M150.5 379.5h0M150.5 381.5h0M150.5 385.5h0M150.5 386.5h0M152.5 346.5h0M152.5 374.5h0M152.5 393.5h0M152.5 395.5h0M152.5 396.5h0M153.5 347.5h0M153.5 374.5h0M153.5 376.5h0M153.5 381.5h0M153.5 389.5h0M154.5 372.5h0M154.5 375.5h0M154.5 381.5h0M154.5 383.5h0M154.5 387.5h0" stroke="#c2cef4" stroke-width="1" stroke-linecap="square"/>
<path d="M80.5 381.5h0M80.5 382.5h0M80.5 390.5h0M80.5 391.5h0M80.5 392.5h0M81.5 382.5h0M81.5 392.5h0M83.5 382.5h0M83.5 385.5h0M83.5 386.5h0M84.5 381.5h0M84.5 382.5h0M84.5 386.5h0M85.5 379.5h0M85.5 384.5h0M85.5 385.5h0M85.5 386.5h0M86.5 379.5h0M86.5 382.5h0M86.5 385.5h0M87.5 379.5h0M87.5 380.5h0M87.5 383.5h0M87.5 385.5h0M87.5 391.5h0M87.5 392.5h0M88.5 381.5h0M88.5 382.5h0M88.5 383.5h0M88.5 385.5h0M88.5 390.5h0M89.5 379.5h0M89.5 381.5h0M89.5 382.5h0M89.5 384.5h0M89.5 392.5h0M90.5 379.5h0M90.5 383.5h0M90.5 391.5h0M90.5 392.5h0M90.5 393.5h0M90.5 394.5h0M91.5 379.5h0M91.5 381.5h0M91.5 388.5h0M91.5 391.5h0M91.5 392.5h0M92.5 381.5h0M92.5 382.5h0M92.5 383.5h0M92.5 386.5h0M92.5 387.5h0M92.5 388.5h0M92.5 391.5h0M92.5 392.5h0M93.5 380.5h0M93.5 383.5h0M93.5 387.5h0M93.5 388.5h0M93.5 392.5h0M94.5 380.5h0M94.5 382.5h0M94.5 383.5h0M94.5 385.5h0M94.5 388.5h0M94.5 392.5h0M95.5 384.5h0M95.5 387.5h0M95.5 388.5h0M95.5 390.5h0M96.5 378.5h0M96.5 379.5h0M96.5 380.5h0M96.5 384.5h0M96.5 385.5h0M96.5 389.5h0M96.5 390.5h0M96.5 391.5h0M97.5 380.5h0M97.5 382.5h0M97.5 384.5h0M97.5 389.5h0M98.5 378.5h0M98.5 379.5h0M98.5 385.5h0M98.5 386.5h0M98.5 387.5h0M98.5 389.5h0M99.5 377.5h0M99.5 378.5h0M99.5 379.5h0M99.5 383.5h0M99.5 391.5h0M100.5 379.5h0M100.5 383.5h0M100.5 385.5h0M100.5 386.5h0M100.5 387.5h0M100.5 388.5h0M100.5 389.5h0M100.5 390.5h0M101.5 379.5h0M101.5 383.5h0M101.5 387.5h0M101.5 389.5h0M101.5 390.5h0M102.5 373.5h0M102.5 375.5h0M102.5 377.5h0M102.5 381.5h0M102.5 383.5h0M102.5 385.5h0M102.5 388.5h0M103.5 375.5h0M103.5 376.5h0M103.5 379.5h0M103.5 381.5h0M103.5 384.5h0M103.5 386.5h0M104.5 380.5h0M104.5 384.5h0M104.5 387.5h0M105.5 382.5h0M105.5 385.5h0M105.5 387.5h0M105.5 388.5h0M106.5 383.5h0M106.5 390.5h0M106.5 393.5h0M107.5 372.5h0M107.5 385.5h0M107.5 391.5h0M107.5 393.5h0M108.5 371.5h0M108.5 381.5h0M108.5 382.5h0M108.5 386.5h0M108.5 391.5h0M109.5 368.5h0M109.5 369.5h0M109.5 370.5h0M109.5 372.5h0M109.5 377.5h0M109.5 379.5h0M109.5 380.5h0M109.5 383.5h0M109.5 387.5h0M109.5 388.5h0M110.5 370.5h0M110.5 373.5h0M110.5 378.5h0M110.5 381.5h0M110.5 383.5h0M111.5 370.5h0M111.5 371.5h0M111.5 374.5h0M111.5 378.5h0M111.5 380.5h0M111.5 382.5h0M111.5 383.5h0M111.5 386.5h0M111.5 387.5h0M111.5 389.5h0M112.5 371.5h0M112.5 381.5h0M112.5 382.5h0M112.5 388.5h0M112.5 393.5h0M113.5 379.5h0M113.5 380.5h0M113.5 385.5h0M113.5 386.5h0M113.5 387.5h0M113.5 388.5h0M113.5 395.5h0M114.5 369.5h0M114.5 372.5h0M114.5 377.5h0M114.5 378.5h0M114.5 381.5h0M114.5 382.5h0M114.5 385.5h0M114.5 388.5h0M114.5 389.5h0M114.5 391.5h0M114.5 393.5h0M114.5 394.5h0M115.5 365.5h0M115.5 366.5h0M115.5 369.5h0M115.5 370.5h0M115.5 372.5h0M115.5 378.5h0M115.5 381.5h0M115.5 384.5h0M115.5 386.5h0M115.5 391.5h0M115.5 393.5h0M115.5 394.5h0M116.5 365.5h0M116.5 367.5h0M116.5 368.5h0M116.5 369.5h0M116.5 372.5h0M116.5 373.5h0M116.5 375.5h0M116.5 377.5h0M116.5 380.5h0M116.5 381.5h0M116.5 382.5h0M116.5 383.5h0M116.5 384.5h0M116.5 385.5h0M116.5 388.5h0M116.5 389.5h0M116.5 390.5h0M116.5 391.5h0M116.5 393.5h0M116.5 394.5h0M116.5 395.5h0M116.5 396.5h0M117.5 367.5h0M117.5 368.5h0M117.5 373.5h0M117.5 376.5h0M117.5 387.5h0M118.5 368.5h0M118.5 369.5h0M118.5 372.5h0M118.5 373.5h0M118.5 375.5h0M118.5 384.5h0M118.5 385.5h0M119.5 367.5h0M119.5 388.5h0M119.5 397.5h0M120.5 368.5h0M120.5 388.5h0M120.5 394.5h0M120.5 395.5h0M120.5 396.5h0M121.5 368.5h0M121.5 370.5h0M121.5 387.5h0M121.5 388.5h0M121.5 391.5h0M121.5 393.5h0M121.5 397.5h0M122.5 365.5h0M122.5 370.5h0M122.5 371.5h0M122.5 389.5h0M122.5 391.5h0M122.5 396.5h0M122.5 397.5h0M123.5 365.5h0M123.5 391.5h0M123.5 393.5h0M123.5 398.5h0M124.5 366.5h0M124.5 371.5h0M124.5 396.5h0M124.5 397.5h0M125.5 364.5h0M125.5 365.5h0M125.5 373.5h0M125.5 391.5h0M125.5 392.5h0M125.5 393.5h0M125.5 394.5h0M125.5 395.5h0M126.5 361.5h0M126.5 362.5h0M126.5 363.5h0M126.5 364.5h0M126.5 371.5h0M126.5 372.5h0M126.5 373.5h0M126.5 374.5h0M126.5 393.5h0M126.5 394.5h0M126.5 397.5h0M127.5 364.5h0M127.5 366.5h0M127.5 368.5h0M127.5 371.5h0M127.5 391.5h0M127.5 395.5h0M128.5 357.5h0M128.5 363.5h0M128.5 368.5h0M128.5 369.5h0M128.5 386.5h0M128.5 393.5h0M128.5 394.5h0M129.5 357.5h0M129.5 358.5h0M129.5 360.5h0M129.5 362.5h0M129.5 364.5h0M129.5 365.5h0M129.5 368.5h0M129.5 385.5h0M129.5 392.5h0M129.5 394.5h0M129.5 396.5h0M130.5 357.5h0M130.5 358.5h0M130.5 359.5h0M130.5 361.5h0M130.5 365.5h0M130.5 396.5h0M131.5 353.5h0M131.5 354.5h0M131.5 355.5h0M131.5 356.5h0M131.5 357.5h0M131.5 358.5h0M131.5 368.5h0M131.5 395.5h0M131.5 397.5h0M132.5 350.5h0M132.5 358.5h0M132.5 364.5h0M132.5 365.5h0M132.5 368.5h0M132.5 397.5h0M133.5 346.5h0M133.5 350.5h0M133.5 352.5h0M133.5 355.5h0M133.5 358.5h0M133.5 361.5h0M133.5 362.5h0M133.5 363.5h0M133.5 365.5h0M133.5 367.5h0M133.5 397.5h0M134.5 338.5h0M134.5 341.5h0M134.5 351.5h0M134.5 353.5h0M134.5 354.5h0M134.5 355.5h0M134.5 356.5h0M134.5 357.5h0M134.5 361.5h0M134.5 395.5h0M135.5 338.5h0M135.5 342.5h0M135.5 343.5h0M135.5 395.5h0M136.5 336.5h0M136.5 338.5h0M136.5 392.5h0M136.5 395.5h0M137.5 338.5h0M137.5 339.5h0M138.5 336.5h0M138.5 394.5h0M138.5 396.5h0M138.5 397.5h0M139.5 394.5h0M140.5 335.5h0M140.5 337.5h0M140.5 395.5h0M140.5 396.5h0M140.5 397.5h0M141.5 395.5h0M141.5 396.5h0M142.5 336.5h0M142.5 395.5h0M144.5 336.5h0M144.5 390.5h0M144.5 394.5h0M145.5 387.5h0M145.5 390.5h0M145.5 392.5h0M146.5 366.5h0M146.5 369.5h0M146.5 370.5h0M146.5 373.5h0M146.5 375.5h0M146.5 386.5h0M146.5 387.5h0M146.5 388.5h0M146.5 392.5h0M146.5 393.5h0M146.5 394.5h0M147.5 337.5h0M147.5 338.5h0M147.5 364.5h0M147.5 369.5h0M147.5 371.5h0M147.5 373.5h0M147.5 379.5h0M147.5 389.5h0M147.5 392.5h0M147.5 393.5h0M147.5 394.5h0M148.5 339.5h0M148.5 358.5h0M148.5 361.5h0M148.5 363.5h0M148.5 367.5h0M148.5 372.5h0M148.5 373.5h0M148.5 378.5h0M148.5 379.5h0M148.5 383.5h0M148.5 384.5h0M148.5 386.5h0M148.5 393.5h0M149.5 351.5h0M149.5 354.5h0M149.5 355.5h0M149.5 357.5h0M149.5 367.5h0M149.5 381.5h0M150.5 342.5h0M150.5 343.5h0M150.5 344.5h0M150.5 350.5h0M150.5 351.5h0M150.5 353.5h0M150.5 356.5h0M151.5 348.5h0M151.5 351.5h0M152.5 343.5h0M152.5 344.5h0" stroke="#a2b4ee" stroke-width="1" stroke-linecap="square"/>
<path d="M117.5 377.5h0M117.5 378.5h0M117.5 380.5h0M118.5 377.5h0M118.5 378.5h0M118.5 379.5h0M118.5 380.5h0M118.5 381.5h0M118.5 382.5h0M119.5 369.5h0M119.5 370.5h0M119.5 371.5h0M119.5 373.5h0M119.5 377.5h0M119.5 378.5h0M119.5 380.5h0M119.5 381.5h0M119.5 384.5h0M120.5 369.5h0M120.5 370.5h0M120.5 371.5h0M120.5 372.5h0M120.5 374.5h0M120.5 377.5h0M120.5 381.5h0M120.5 383.5h0M120.5 385.5h0M121.5 374.5h0M121.5 375.5h0M121.5 376.5h0M121.5 378.5h0M121.5 379.5h0M121.5 381.5h0M121.5 382.5h0M121.5 383.5h0M121.5 384.5h0M121.5 385.5h0M121.5 386.5h0M122.5 374.5h0M122.5 376.5h0M122.5 379.5h0M122.5 380.5h0M122.5 381.5h0M122.5 384.5h0M122.5 385.5h0M122.5 387.5h0M122.5 395.5h0M123.5 374.5h0M123.5 375.5h0M123.5 377.5h0M123.5 378.5h0M123.5 379.5h0M123.5 380.5h0M123.5 381.5h0M123.5 384.5h0M123.5 386.5h0M123.5 387.5h0M123.5 394.5h0M123.5 396.5h0M124.5 368.5h0M124.5 370.5h0M124.5 374.5h0M124.5 375.5h0M124.5 376.5h0M124.5 377.5h0M124.5 380.5h0M124.5 381.5h0M124.5 382.5h0M124.5 384.5h0M124.5 385.5h0M124.5 386.5h0M124.5 387.5h0M124.5 388.5h0M124.5 395.5h0M125.5 368.5h0M125.5 369.5h0M125.5 370.5h0M125.5 376.5h0M125.5 377.5h0M125.5 378.5h0M125.5 379.5h0M125.5 381.5h0M125.5 383.5h0M125.5 384.5h0M125.5 388.5h0M125.5 389.5h0M126.5 368.5h0M126.5 369.5h0M126.5 376.5h0M126.5 379.5h0M126.5 380.5h0M126.5 381.5h0M126.5 383.5h0M126.5 384.5h0M126.5 386.5h0M126.5 387.5h0M126.5 388.5h0M126.5 389.5h0M127.5 376.5h0M127.5 377.5h0M127.5 378.5h0M127.5 379.5h0M127.5 382.5h0M127.5 383.5h0M127.5 384.5h0M127.5 387.5h0M127.5 388.5h0M127.5 389.5h0M128.5 371.5h0M128.5 372.5h0M128.5 373.5h0M128.5 374.5h0M128.5 375.5h0M128.5 376.5h0M128.5 378.5h0M128.5 379.5h0M128.5 380.5h0M128.5 381.5h0M128.5 382.5h0M128.5 383.5h0M128.5 388.5h0M128.5 389.5h0M129.5 369.5h0M129.5 370.5h0M129.5 372.5h0M129.5 376.5h0M129.5 382.5h0M129.5 383.5h0M129.5 388.5h0M129.5 389.5h0M129.5 390.5h0M129.5 391.5h0M130.5 370.5h0M130.5 371.5h0M130.5 372.5h0M130.5 373.5h0M130.5 374.5h0M130.5 375.5h0M130.5 377.5h0M130.5 378.5h0M130.5 384.5h0M130.5 385.5h0M130.5 389.5h0M130.5 390.5h0M130.5 391.5h0M130.5 392.5h0M131.5 369.5h0M131.5 371.5h0M131.5 372.5h0M131.5 374.5h0M131.5 375.5h0M131.5 377.5h0M131.5 378.5h0M131.5 383.5h0M131.5 384.5h0M131.5 385.5h0M131.5 386.5h0M131.5 389.5h0M131.5 392.5h0M132.5 370.5h0M132.5 374.5h0M132.5 376.5h0M132.5 378.5h0M132.5 382.5h0M132.5 383.5h0M132.5 384.5h0M132.5 385.5h0M132.5 386.5h0M132.5 387.5h0M132.5 389.5h0M132.5 390.5h0M132.5 392.5h0M132.5 394.5h0M132.5 395.5h0M133.5 368.5h0M133.5 372.5h0M133.5 373.5h0M133.5 374.5h0M133.5 375.5h0M133.5 378.5h0M133.5 379.5h0M133.5 380.5h0M133.5 381.5h0M133.5 386.5h0M133.5 388.5h0M133.5 390.5h0M133.5 391.5h0M133.5 393.5h0M133.5 394.5h0M134.5 368.5h0M134.5 369.5h0M134.5 370.5h0M134.5 371.5h0M134.5 372.5h0M134.5 373.5h0M134.5 376.5h0M134.5 377.5h0M134.5 378.5h0M134.5 379.5h0M134.5 380.5h0M134.5 382.5h0M134.5 383.5h0M134.5 384.5h0M134.5 385.5h0M134.5 387.5h0M134.5 389.5h0M134.5 390.5h0M134.5 391.5h0M134.5 392.5h0M134.5 393.5h0M135.5 346.5h0M135.5 347.5h0M135.5 348.5h0M135.5 349.5h0M135.5 351.5h0M135.5 357.5h0M135.5 359.5h0M135.5 360.5h0M135.5 362.5h0M135.5 363.5h0M135.5 365.5h0M135.5 366.5h0M135.5 368.5h0M135.5 369.5h0M135.5 370.5h0M135.5 371.5h0M135.5 372.5h0M135.5 376.5h0M135.5 377.5h0M135.5 378.5h0M135.5 379.5h0M135.5 380.5h0M135.5 381.5h0M135.5 386.5h0M135.5 387.5h0M135.5 388.5h0M135.5 389.5h0M135.5 392.5h0M136.5 342.5h0M136.5 344.5h0M136.5 348.5h0M136.5 349.5h0M136.5 350.5h0M136.5 351.5h0M136.5 355.5h0M136.5 356.5h0M136.5 357.5h0M136.5 358.5h0M136.5 359.5h0M136.5 361.5h0M136.5 362.5h0M136.5 363.5h0M136.5 364.5h0M136.5 365.5h0M136.5 366.5h0M136.5 367.5h0M136.5 369.5h0M136.5 370.5h0M136.5 371.5h0M136.5 373.5h0M136.5 374.5h0M136.5 375.5h0M136.5 376.5h0M136.5 377.5h0M136.5 379.5h0M136.5 388.5h0M136.5 390.5h0M137.5 341.5h0M137.5 342.5h0M137.5 343.5h0M137.5 344.5h0M137.5 345.5h0M137.5 356.5h0M137.5 357.5h0M137.5 361.5h0M137.5 362.5h0M137.5 364.5h0M137.5 365.5h0M137.5 366.5h0M137.5 367.5h0M137.5 368.5h0M137.5 370.5h0M137.5 371.5h0M137.5 372.5h0M137.5 373.5h0M137.5 375.5h0M137.5 376.5h0M137.5 387.5h0M137.5 390.5h0M138.5 339.5h0M138.5 342.5h0M138.5 355.5h0M138.5 362.5h0M138.5 363.5h0M138.5 364.5h0M138.5 365.5h0M138.5 369.5h0M138.5 370.5h0M138.5 374.5h0M138.5 375.5h0M138.5 376.5h0M138.5 377.5h0M138.5 388.5h0M138.5 389.5h0M138.5 390.5h0M138.5 392.5h0M139.5 365.5h0M139.5 367.5h0M139.5 368.5h0M139.5 371.5h0M139.5 372.5h0M139.5 373.5h0M139.5 374.5h0M139.5 377.5h0M139.5 388.5h0M139.5 391.5h0M139.5 392.5h0M139.5 393.5h0M140.5 338.5h0M140.5 339.5h0M140.5 340.5h0M140.5 366.5h0M140.5 367.5h0M140.5 368.5h0M140.5 369.5h0M140.5 370.5h0M140.5 371.5h0M140.5 374.5h0M140.5 375.5h0M140.5 376.5h0M140.5 378.5h0M140.5 387.5h0M140.5 389.5h0M140.5 392.5h0M141.5 338.5h0M141.5 366.5h0M141.5 367.5h0M141.5 368.5h0M141.5 370.5h0M141.5 371.5h0M141.5 372.5h0M141.5 375.5h0M141.5 376.5h0M141.5 377.5h0M141.5 378.5h0M141.5 389.5h0M141.5 391.5h0M141.5 393.5h0M141.5 394.5h0M142.5 337.5h0M142.5 365.5h0M142.5 367.5h0M142.5 369.5h0M142.5 372.5h0M142.5 374.5h0M142.5 376.5h0M142.5 378.5h0M142.5 386.5h0M142.5 387.5h0M142.5 388.5h0M142.5 390.5h0M142.5 391.5h0M142.5 393.5h0M143.5 337.5h0M143.5 365.5h0M143.5 366.5h0M143.5 367.5h0M143.5 368.5h0M143.5 369.5h0M143.5 371.5h0M143.5 372.5h0M143.5 373.5h0M143.5 374.5h0M143.5 377.5h0M143.5 378.5h0M143.5 384.5h0M143.5 385.5h0M143.5 386.5h0M143.5 389.5h0M143.5 391.5h0M143.5 393.5h0M144.5 338.5h0M144.5 361.5h0M144.5 362.5h0M144.5 363.5h0M144.5 364.5h0M144.5 366.5h0M144.5 367.5h0M144.5 369.5h0M144.5 370.5h0M144.5 373.5h0M144.5 375.5h0M144.5 376.5h0M144.5 377.5h0M144.5 378.5h0M144.5 379.5h0M144.5 380.5h0M144.5 382.5h0M144.5 384.5h0M144.5 385.5h0M144.5 392.5h0M145.5 358.5h0M145.5 359.5h0M145.5 360.5h0M145.5 361.5h0M145.5 363.5h0M145.5 364.5h0M145.5 367.5h0M145.5 371.5h0M145.5 372.5h0M145.5 373.5h0M145.5 377.5h0M145.5 379.5h0M145.5 380.5h0M145.5 381.5h0M145.5 382.5h0M145.5 383.5h0M145.5 384.5h0M145.5 385.5h0M146.5 339.5h0M146.5 356.5h0M146.5 358.5h0M146.5 359.5h0M146.5 363.5h0M146.5 365.5h0M146.5 379.5h0M146.5 382.5h0M146.5 383.5h0M146.5 385.5h0M147.5 353.5h0M147.5 355.5h0M147.5 356.5h0M147.5 383.5h0M148.5 340.5h0M148.5 343.5h0M148.5 345.5h0M148.5 346.5h0M148.5 347.5h0M148.5 350.5h0M148.5 354.5h0M149.5 342.5h0M149.5 343.5h0M149.5 344.5h0M149.5 348.5h0" stroke="#7c9ae6" stroke-width="1" stroke-linecap="square"/>
<path d="M123.5 383.5h0M124.5 383.5h0M129.5 380.5h0M129.5 381.5h0M130.5 379.5h0M130.5 380.5h0M130.5 381.5h0M131.5 379.5h0M131.5 380.5h0M131.5 381.5h0M132.5 380.5h0M134.5 374.5h0M134.5 375.5h0M135.5 374.5h0M135.5 375.5h0M135.5 384.5h0M135.5 385.5h0M136.5 382.5h0M136.5 383.5h0M136.5 384.5h0M136.5 385.5h0M136.5 386.5h0M137.5 346.5h0M137.5 347.5h0M137.5 350.5h0M137.5 351.5h0M137.5 352.5h0M137.5 358.5h0M137.5 359.5h0M137.5 379.5h0M137.5 380.5h0M137.5 381.5h0M137.5 382.5h0M137.5 383.5h0M137.5 384.5h0M137.5 385.5h0M137.5 386.5h0M138.5 343.5h0M138.5 345.5h0M138.5 346.5h0M138.5 352.5h0M138.5 353.5h0M138.5 354.5h0M138.5 357.5h0M138.5 358.5h0M138.5 359.5h0M138.5 360.5h0M138.5 378.5h0M138.5 379.5h0M138.5 380.5h0M138.5 381.5h0M138.5 382.5h0M138.5 384.5h0M138.5 386.5h0M139.5 342.5h0M139.5 354.5h0M139.5 355.5h0M139.5 356.5h0M139.5 360.5h0M139.5 361.5h0M139.5 362.5h0M139.5 363.5h0M139.5 364.5h0M139.5 378.5h0M139.5 379.5h0M139.5 381.5h0M139.5 382.5h0M139.5 384.5h0M139.5 385.5h0M139.5 386.5h0M140.5 341.5h0M140.5 354.5h0M140.5 355.5h0M140.5 356.5h0M140.5 357.5h0M140.5 358.5h0M140.5 360.5h0M140.5 361.5h0M140.5 362.5h0M140.5 363.5h0M140.5 364.5h0M140.5 365.5h0M140.5 380.5h0M140.5 381.5h0M140.5 383.5h0M140.5 384.5h0M140.5 385.5h0M140.5 386.5h0M141.5 340.5h0M141.5 355.5h0M141.5 356.5h0M141.5 357.5h0M141.5 359.5h0M141.5 360.5h0M141.5 361.5h0M141.5 362.5h0M141.5 363.5h0M141.5 364.5h0M141.5 379.5h0M141.5 380.5h0M141.5 381.5h0M141.5 382.5h0M141.5 383.5h0M141.5 384.5h0M141.5 385.5h0M141.5 386.5h0M142.5 339.5h0M142.5 340.5h0M142.5 356.5h0M142.5 360.5h0M142.5 361.5h0M142.5 362.5h0M142.5 363.5h0M142.5 364.5h0M142.5 371.5h0M142.5 379.5h0M142.5 380.5h0M142.5 381.5h0M142.5 382.5h0M142.5 383.5h0M142.5 384.5h0M143.5 339.5h0M143.5 358.5h0M143.5 359.5h0M143.5 360.5h0M143.5 361.5h0M143.5 362.5h0M143.5 363.5h0M143.5 379.5h0M143.5 380.5h0M143.5 381.5h0M143.5 382.5h0M143.5 383.5h0M144.5 339.5h0M144.5 340.5h0M144.5 356.5h0M144.5 357.5h0M144.5 358.5h0M144.5 360.5h0M145.5 339.5h0M145.5 340.5h0M145.5 354.5h0M145.5 355.5h0M145.5 356.5h0M145.5 357.5h0M146.5 340.5h0M146.5 341.5h0M146.5 342.5h0M146.5 352.5h0M146.5 353.5h0M146.5 355.5h0M147.5 342.5h0M147.5 344.5h0M147.5 346.5h0M147.5 347.5h0M147.5 348.5h0M147.5 349.5h0M147.5 351.5h0" stroke="#5888de" stroke-width="1" stroke-linecap="square"/>
<path d="M138.5 347.5h0M138.5 348.5h0M138.5 349.5h0M138.5 350.5h0M138.5 351.5h0M139.5 343.5h0M139.5 344.5h0M139.5 345.5h0M139.5 346.5h0M139.5 347.5h0M139.5 352.5h0M139.5 353.5h0M140.5 342.5h0M140.5 343.5h0M140.5 353.5h0M141.5 341.5h0M141.5 342.5h0M141.5 353.5h0M141.5 354.5h0M141.5 358.5h0M142.5 341.5h0M142.5 354.5h0M142.5 355.5h0M142.5 357.5h0M142.5 358.5h0M142.5 359.5h0M143.5 340.5h0M143.5 341.5h0M143.5 354.5h0M143.5 355.5h0M144.5 341.5h0M144.5 342.5h0M144.5 353.5h0M144.5 354.5h0M144.5 355.5h0M145.5 341.5h0M145.5 342.5h0M145.5 351.5h0M145.5 352.5h0M145.5 353.5h0M146.5 344.5h0M146.5 345.5h0M146.5 349.5h0M146.5 350.5h0M146.5 351.5h0" stroke="#3a98d2" stroke-width="1" stroke-linecap="square"/>
<path d="M139.5 348.5h0M139.5 349.5h0M139.5 350.5h0M139.5 351.5h0M140.5 344.5h0M140.5 345.5h0M140.5 346.5h0M140.5 347.5h0M140.5 348.5h0M140.5 350.5h0M140.5 351.5h0M140.5 352.5h0M141.5 343.5h0M141.5 352.5h0M142.5 343.5h0M142.5 352.5h0M142.5 353.5h0M143.5 342.5h0M143.5 343.5h0M143.5 352.5h0M143.5 353.5h0M144.5 343.5h0M144.5 352.5h0M145.5 344.5h0M145.5 345.5h0M145.5 349.5h0M145.5 350.5h0M146.5 346.5h0M146.5 347.5h0M146.5 348.5h0" stroke="#32aca6" stroke-width="1" stroke-linecap="square"/>
<path d="M140.5 349.5h0M141.5 344.5h0M141.5 345.5h0M141.5 346.5h0M141.5 347.5h0M141.5 348.5h0M141.5 349.5h0M141.5 350.5h0M141.5 351.5h0M142.5 344.5h0M142.5 345.5h0M142.5 350.5h0M142.5 351.5h0M143.5 344.5h0M143.5 350.5h0M143.5 351.5h0M144.5 344.5h0M144.5 345.5h0M144.5 349.5h0M144.5 350.5h0M145.5 346.5h0M145.5 347.5h0M145.5 348.5h0" stroke="#56be62" stroke-width="1" stroke-linecap="square"/>
<path d="M142.5 346.5h0M142.5 347.5h0M142.5 348.5h0M142.5 349.5h0M143.5 345.5h0M143.5 346.5h0M143.5 347.5h0M143.5 348.5h0M143.5 349.5h0M144.5 346.5h0M144.5 347.5h0M144.5 348.5h0" stroke="#b4d034" stroke-width="1" stroke-linecap="square"/>
</g>
<path d="M108.7 321.3V399.2M75.9 367.7H155.3" stroke="#e89ce4" stroke-width="0.9" fill="none"/>
<rect x="75.9" y="321.3" width="79.4" height="77.9" fill="none" stroke="#858585" stroke-width="1.4"/>
<path d="M76.2 321.3V399.2M75.9 398.9H155.3" stroke="#8a8a8a" stroke-width="2" stroke-dasharray="2.5 1.5"/>
<text x="77.10" y="328.30" font-size="7.5" fill="#1a1a1a" text-anchor="start" style="font-weight:bold;" >0.9</text>
<text x="154.20" y="328.30" font-size="7.5" fill="#1a1a1a" text-anchor="end" style="font-weight:bold;" >55.8</text>
<text x="77.10" y="398.30" font-size="7.5" fill="#1a1a1a" text-anchor="start" style="font-weight:bold;" >8.7</text>
<text x="154.20" y="398.30" font-size="7.5" fill="#1a1a1a" text-anchor="end" style="font-weight:bold;" >34.6</text>
<text x="114.00" y="319.00" font-size="11.1" fill="#1a1a1a" text-anchor="middle" style="font-weight:bold;" >Corn oil</text>
<g filter="url(#bl03)">
<path d="M175.5 363.5h0M176.5 396.5h0M177.5 350.5h0M177.5 357.5h0M177.5 361.5h0M177.5 365.5h0M177.5 383.5h0M178.5 342.5h0M178.5 343.5h0M178.5 355.5h0M178.5 363.5h0M178.5 389.5h0M179.5 360.5h0M179.5 365.5h0M179.5 396.5h0M180.5 348.5h0M180.5 354.5h0M180.5 394.5h0M181.5 379.5h0M182.5 365.5h0M183.5 341.5h0M183.5 348.5h0M183.5 368.5h0M183.5 371.5h0M183.5 381.5h0M183.5 391.5h0M185.5 365.5h0M185.5 381.5h0M185.5 389.5h0M186.5 342.5h0M186.5 349.5h0M187.5 368.5h0M188.5 397.5h0M189.5 350.5h0M189.5 373.5h0M189.5 387.5h0M190.5 339.5h0M190.5 343.5h0M190.5 373.5h0M190.5 397.5h0M191.5 349.5h0M191.5 361.5h0M193.5 346.5h0M193.5 371.5h0M193.5 376.5h0M194.5 374.5h0M194.5 396.5h0M195.5 360.5h0M197.5 333.5h0M198.5 394.5h0M199.5 346.5h0M200.5 363.5h0M200.5 365.5h0M200.5 371.5h0M201.5 375.5h0M202.5 351.5h0M202.5 352.5h0M202.5 377.5h0M202.5 390.5h0M202.5 393.5h0M203.5 361.5h0M204.5 370.5h0M204.5 371.5h0M205.5 395.5h0M206.5 354.5h0M207.5 359.5h0M207.5 385.5h0M208.5 335.5h0M208.5 397.5h0M210.5 361.5h0M210.5 368.5h0M211.5 355.5h0M212.5 397.5h0M213.5 356.5h0M214.5 354.5h0M220.5 357.5h0M226.5 352.5h0M228.5 353.5h0M232.5 343.5h0M233.5 337.5h0M233.5 345.5h0M234.5 348.5h0M244.5 336.5h0M246.5 397.5h0M247.5 332.5h0M249.5 390.5h0M251.5 342.5h0M251.5 345.5h0M251.5 349.5h0M251.5 357.5h0M251.5 366.5h0M251.5 370.5h0M251.5 382.5h0" stroke="#c2cef4" stroke-width="1" stroke-linecap="square"/>
<path d="M178.5 351.5h0M178.5 353.5h0M179.5 349.5h0M180.5 351.5h0M181.5 342.5h0M181.5 343.5h0M182.5 360.5h0M182.5 384.5h0M182.5 386.5h0M183.5 345.5h0M183.5 361.5h0M183.5 385.5h0M184.5 350.5h0M184.5 351.5h0M184.5 354.5h0M184.5 355.5h0M184.5 376.5h0M184.5 378.5h0M184.5 383.5h0M184.5 386.5h0M185.5 352.5h0M185.5 372.5h0M185.5 373.5h0M185.5 374.5h0M185.5 378.5h0M185.5 386.5h0M185.5 392.5h0M186.5 353.5h0M186.5 358.5h0M186.5 362.5h0M186.5 375.5h0M186.5 386.5h0M186.5 394.5h0M186.5 395.5h0M187.5 357.5h0M187.5 361.5h0M187.5 362.5h0M188.5 354.5h0M188.5 357.5h0M188.5 359.5h0M188.5 366.5h0M188.5 375.5h0M188.5 377.5h0M189.5 355.5h0M189.5 367.5h0M189.5 378.5h0M189.5 382.5h0M190.5 363.5h0M190.5 378.5h0M190.5 381.5h0M191.5 356.5h0M191.5 357.5h0M191.5 364.5h0M191.5 367.5h0M191.5 387.5h0M192.5 351.5h0M192.5 352.5h0M192.5 358.5h0M192.5 366.5h0M192.5 379.5h0M192.5 382.5h0M192.5 383.5h0M192.5 385.5h0M192.5 390.5h0M192.5 391.5h0M192.5 392.5h0M192.5 393.5h0M193.5 364.5h0M193.5 389.5h0M194.5 347.5h0M194.5 348.5h0M194.5 365.5h0M194.5 383.5h0M194.5 389.5h0M194.5 392.5h0M195.5 349.5h0M195.5 350.5h0M195.5 352.5h0M195.5 356.5h0M195.5 357.5h0M195.5 367.5h0M195.5 379.5h0M195.5 381.5h0M195.5 382.5h0M195.5 383.5h0M195.5 388.5h0M196.5 352.5h0M196.5 361.5h0M196.5 366.5h0M196.5 369.5h0M196.5 378.5h0M196.5 389.5h0M196.5 391.5h0M196.5 392.5h0M197.5 350.5h0M197.5 352.5h0M197.5 353.5h0M197.5 356.5h0M197.5 362.5h0M197.5 370.5h0M197.5 378.5h0M197.5 380.5h0M197.5 384.5h0M197.5 385.5h0M197.5 387.5h0M198.5 351.5h0M198.5 355.5h0M198.5 363.5h0M198.5 368.5h0M198.5 370.5h0M198.5 379.5h0M198.5 380.5h0M198.5 382.5h0M198.5 383.5h0M198.5 386.5h0M199.5 355.5h0M199.5 367.5h0M199.5 385.5h0M199.5 388.5h0M199.5 397.5h0M200.5 379.5h0M200.5 383.5h0M200.5 396.5h0M201.5 387.5h0M201.5 396.5h0M201.5 397.5h0M202.5 388.5h0M203.5 396.5h0M204.5 393.5h0M205.5 377.5h0M205.5 378.5h0M205.5 390.5h0M206.5 378.5h0M206.5 390.5h0M206.5 391.5h0M207.5 374.5h0M207.5 376.5h0M207.5 380.5h0M207.5 392.5h0M208.5 380.5h0M208.5 383.5h0M208.5 388.5h0M208.5 390.5h0M208.5 391.5h0M209.5 373.5h0M209.5 375.5h0M209.5 381.5h0M209.5 387.5h0M210.5 365.5h0M210.5 373.5h0M210.5 376.5h0M210.5 378.5h0M210.5 382.5h0M210.5 386.5h0M210.5 390.5h0M211.5 364.5h0M211.5 365.5h0M211.5 372.5h0M211.5 376.5h0M211.5 390.5h0M211.5 394.5h0M212.5 360.5h0M212.5 362.5h0M212.5 363.5h0M212.5 367.5h0M212.5 369.5h0M212.5 371.5h0M212.5 383.5h0M212.5 392.5h0M212.5 394.5h0M213.5 370.5h0M213.5 384.5h0M213.5 393.5h0M214.5 362.5h0M214.5 371.5h0M214.5 396.5h0M215.5 359.5h0M215.5 362.5h0M215.5 364.5h0M216.5 370.5h0M217.5 359.5h0M217.5 363.5h0M217.5 366.5h0M217.5 368.5h0M218.5 359.5h0M218.5 366.5h0M218.5 369.5h0M219.5 363.5h0M219.5 365.5h0M219.5 368.5h0M220.5 361.5h0M220.5 366.5h0M221.5 363.5h0M221.5 368.5h0M221.5 370.5h0M221.5 396.5h0M222.5 361.5h0M222.5 362.5h0M222.5 366.5h0M223.5 397.5h0M224.5 359.5h0M224.5 360.5h0M224.5 364.5h0M224.5 367.5h0M224.5 397.5h0M225.5 365.5h0M225.5 397.5h0M226.5 358.5h0M226.5 363.5h0M227.5 356.5h0M227.5 360.5h0M228.5 355.5h0M228.5 358.5h0M228.5 364.5h0M228.5 395.5h0M230.5 358.5h0M230.5 359.5h0M230.5 362.5h0M230.5 364.5h0M231.5 355.5h0M231.5 362.5h0M231.5 393.5h0M231.5 396.5h0M231.5 397.5h0M232.5 353.5h0M232.5 354.5h0M232.5 359.5h0M232.5 391.5h0M233.5 396.5h0M234.5 397.5h0M235.5 350.5h0M237.5 346.5h0M238.5 342.5h0M238.5 346.5h0M238.5 347.5h0M240.5 395.5h0M240.5 396.5h0M241.5 345.5h0M241.5 347.5h0M242.5 342.5h0M242.5 343.5h0M242.5 344.5h0M242.5 348.5h0M242.5 396.5h0M242.5 397.5h0M243.5 342.5h0M243.5 345.5h0M243.5 393.5h0M243.5 394.5h0M244.5 344.5h0M244.5 394.5h0M245.5 341.5h0M245.5 343.5h0M245.5 345.5h0M245.5 349.5h0M245.5 396.5h0M246.5 345.5h0M246.5 348.5h0M247.5 344.5h0M248.5 352.5h0M248.5 353.5h0M248.5 356.5h0M248.5 376.5h0M249.5 356.5h0M249.5 361.5h0M249.5 362.5h0M249.5 366.5h0M249.5 373.5h0M249.5 376.5h0M249.5 377.5h0M250.5 356.5h0M250.5 373.5h0M251.5 372.5h0" stroke="#a2b4ee" stroke-width="1" stroke-linecap="square"/>
<path d="M199.5 386.5h0M210.5 380.5h0M211.5 381.5h0M212.5 373.5h0M212.5 374.5h0M212.5 379.5h0M212.5 381.5h0M212.5 388.5h0M213.5 374.5h0M213.5 377.5h0M213.5 378.5h0M213.5 379.5h0M213.5 380.5h0M213.5 386.5h0M213.5 387.5h0M213.5 388.5h0M213.5 389.5h0M213.5 390.5h0M214.5 377.5h0M214.5 378.5h0M214.5 379.5h0M214.5 380.5h0M214.5 386.5h0M214.5 391.5h0M214.5 394.5h0M215.5 372.5h0M215.5 373.5h0M215.5 375.5h0M215.5 377.5h0M215.5 378.5h0M215.5 379.5h0M215.5 385.5h0M215.5 386.5h0M215.5 387.5h0M215.5 388.5h0M215.5 389.5h0M215.5 393.5h0M215.5 394.5h0M216.5 371.5h0M216.5 373.5h0M216.5 375.5h0M216.5 378.5h0M216.5 379.5h0M216.5 381.5h0M216.5 382.5h0M216.5 384.5h0M216.5 385.5h0M216.5 387.5h0M216.5 389.5h0M216.5 390.5h0M216.5 393.5h0M216.5 394.5h0M216.5 395.5h0M217.5 375.5h0M217.5 377.5h0M217.5 380.5h0M217.5 382.5h0M217.5 383.5h0M217.5 385.5h0M217.5 388.5h0M217.5 392.5h0M217.5 393.5h0M217.5 394.5h0M218.5 371.5h0M218.5 372.5h0M218.5 375.5h0M218.5 376.5h0M218.5 377.5h0M218.5 378.5h0M218.5 381.5h0M218.5 382.5h0M218.5 387.5h0M218.5 389.5h0M218.5 390.5h0M218.5 391.5h0M218.5 394.5h0M218.5 395.5h0M218.5 396.5h0M219.5 371.5h0M219.5 376.5h0M219.5 380.5h0M219.5 381.5h0M219.5 383.5h0M219.5 385.5h0M219.5 387.5h0M219.5 388.5h0M219.5 393.5h0M219.5 394.5h0M219.5 396.5h0M220.5 371.5h0M220.5 373.5h0M220.5 378.5h0M220.5 384.5h0M220.5 386.5h0M220.5 387.5h0M220.5 390.5h0M220.5 391.5h0M220.5 392.5h0M220.5 394.5h0M221.5 371.5h0M221.5 374.5h0M221.5 375.5h0M221.5 381.5h0M221.5 382.5h0M221.5 383.5h0M221.5 385.5h0M221.5 389.5h0M221.5 391.5h0M221.5 392.5h0M222.5 373.5h0M222.5 382.5h0M222.5 385.5h0M222.5 387.5h0M222.5 389.5h0M222.5 393.5h0M222.5 396.5h0M223.5 370.5h0M223.5 372.5h0M223.5 373.5h0M223.5 374.5h0M223.5 382.5h0M223.5 384.5h0M223.5 386.5h0M223.5 388.5h0M223.5 391.5h0M223.5 392.5h0M223.5 396.5h0M224.5 369.5h0M224.5 371.5h0M224.5 373.5h0M224.5 384.5h0M224.5 385.5h0M224.5 386.5h0M224.5 390.5h0M224.5 391.5h0M224.5 392.5h0M224.5 396.5h0M225.5 366.5h0M225.5 370.5h0M225.5 371.5h0M225.5 372.5h0M225.5 373.5h0M225.5 388.5h0M225.5 389.5h0M225.5 390.5h0M225.5 394.5h0M225.5 395.5h0M226.5 368.5h0M226.5 369.5h0M226.5 370.5h0M226.5 371.5h0M226.5 373.5h0M226.5 389.5h0M226.5 392.5h0M226.5 394.5h0M227.5 365.5h0M227.5 366.5h0M227.5 367.5h0M227.5 371.5h0M227.5 373.5h0M227.5 374.5h0M227.5 375.5h0M227.5 391.5h0M228.5 367.5h0M228.5 368.5h0M228.5 369.5h0M228.5 371.5h0M228.5 373.5h0M228.5 389.5h0M228.5 390.5h0M228.5 391.5h0M228.5 393.5h0M229.5 367.5h0M229.5 371.5h0M229.5 374.5h0M229.5 377.5h0M229.5 384.5h0M229.5 393.5h0M229.5 394.5h0M230.5 369.5h0M230.5 370.5h0M230.5 373.5h0M230.5 374.5h0M230.5 379.5h0M230.5 381.5h0M230.5 383.5h0M230.5 384.5h0M230.5 386.5h0M230.5 388.5h0M230.5 389.5h0M230.5 391.5h0M231.5 364.5h0M231.5 368.5h0M231.5 372.5h0M231.5 378.5h0M231.5 380.5h0M231.5 381.5h0M231.5 383.5h0M231.5 385.5h0M231.5 386.5h0M231.5 389.5h0M232.5 362.5h0M232.5 367.5h0M232.5 369.5h0M232.5 371.5h0M232.5 384.5h0M232.5 385.5h0M232.5 388.5h0M232.5 389.5h0M233.5 356.5h0M233.5 357.5h0M233.5 362.5h0M233.5 363.5h0M233.5 364.5h0M233.5 365.5h0M233.5 384.5h0M233.5 387.5h0M233.5 395.5h0M234.5 355.5h0M234.5 359.5h0M234.5 387.5h0M234.5 388.5h0M234.5 390.5h0M234.5 394.5h0M234.5 395.5h0M235.5 354.5h0M235.5 355.5h0M235.5 356.5h0M235.5 357.5h0M235.5 358.5h0M235.5 360.5h0M235.5 386.5h0M235.5 390.5h0M235.5 392.5h0M235.5 393.5h0M235.5 394.5h0M236.5 350.5h0M236.5 351.5h0M236.5 352.5h0M236.5 387.5h0M236.5 390.5h0M236.5 391.5h0M236.5 393.5h0M236.5 394.5h0M237.5 350.5h0M237.5 391.5h0M237.5 392.5h0M237.5 393.5h0M237.5 395.5h0M238.5 343.5h0M238.5 344.5h0M239.5 344.5h0M239.5 350.5h0M239.5 391.5h0M239.5 393.5h0M239.5 394.5h0M240.5 343.5h0M240.5 345.5h0M240.5 350.5h0M240.5 390.5h0M240.5 394.5h0M241.5 349.5h0M242.5 391.5h0M243.5 352.5h0M243.5 392.5h0M244.5 349.5h0M244.5 351.5h0M244.5 391.5h0M245.5 350.5h0M245.5 353.5h0M245.5 354.5h0M245.5 355.5h0M245.5 357.5h0M245.5 387.5h0M245.5 389.5h0M245.5 390.5h0M246.5 352.5h0M246.5 353.5h0M246.5 354.5h0M246.5 357.5h0M246.5 360.5h0M246.5 376.5h0M246.5 378.5h0M246.5 379.5h0M246.5 381.5h0M246.5 382.5h0M246.5 385.5h0M246.5 386.5h0M246.5 388.5h0M247.5 353.5h0M247.5 359.5h0M247.5 361.5h0M247.5 362.5h0M247.5 363.5h0M247.5 366.5h0M247.5 367.5h0M247.5 369.5h0M247.5 371.5h0M247.5 378.5h0M247.5 379.5h0M248.5 360.5h0M248.5 361.5h0M248.5 364.5h0M248.5 366.5h0M248.5 370.5h0" stroke="#7c9ae6" stroke-width="1" stroke-linecap="square"/>
<path d="M221.5 376.5h0M221.5 377.5h0M221.5 378.5h0M222.5 375.5h0M222.5 376.5h0M222.5 377.5h0M222.5 378.5h0M222.5 379.5h0M222.5 380.5h0M223.5 375.5h0M223.5 376.5h0M223.5 378.5h0M223.5 379.5h0M224.5 375.5h0M224.5 377.5h0M224.5 378.5h0M224.5 381.5h0M225.5 375.5h0M225.5 376.5h0M225.5 377.5h0M225.5 380.5h0M225.5 382.5h0M225.5 383.5h0M225.5 384.5h0M225.5 386.5h0M225.5 387.5h0M226.5 374.5h0M226.5 376.5h0M226.5 377.5h0M226.5 378.5h0M226.5 379.5h0M226.5 381.5h0M226.5 383.5h0M226.5 384.5h0M226.5 386.5h0M226.5 387.5h0M227.5 376.5h0M227.5 377.5h0M227.5 378.5h0M227.5 379.5h0M227.5 380.5h0M227.5 383.5h0M227.5 386.5h0M227.5 388.5h0M228.5 377.5h0M228.5 378.5h0M228.5 379.5h0M228.5 382.5h0M228.5 383.5h0M228.5 385.5h0M228.5 387.5h0M228.5 388.5h0M229.5 380.5h0M229.5 381.5h0M229.5 382.5h0M229.5 386.5h0M229.5 387.5h0M231.5 373.5h0M231.5 374.5h0M231.5 375.5h0M232.5 372.5h0M232.5 373.5h0M232.5 375.5h0M232.5 376.5h0M232.5 377.5h0M232.5 378.5h0M233.5 369.5h0M233.5 370.5h0M233.5 372.5h0M233.5 373.5h0M233.5 377.5h0M233.5 378.5h0M233.5 379.5h0M233.5 380.5h0M233.5 381.5h0M233.5 382.5h0M234.5 363.5h0M234.5 364.5h0M234.5 367.5h0M234.5 370.5h0M234.5 371.5h0M234.5 379.5h0M234.5 382.5h0M234.5 383.5h0M234.5 384.5h0M235.5 362.5h0M235.5 363.5h0M235.5 364.5h0M235.5 366.5h0M235.5 367.5h0M235.5 383.5h0M236.5 353.5h0M236.5 354.5h0M236.5 356.5h0M236.5 359.5h0M236.5 361.5h0M236.5 384.5h0M236.5 385.5h0M237.5 351.5h0M237.5 353.5h0M237.5 356.5h0M237.5 357.5h0M237.5 358.5h0M237.5 359.5h0M237.5 386.5h0M237.5 387.5h0M238.5 351.5h0M238.5 352.5h0M238.5 357.5h0M238.5 358.5h0M238.5 388.5h0M239.5 351.5h0M239.5 358.5h0M239.5 389.5h0M240.5 351.5h0M240.5 357.5h0M240.5 388.5h0M241.5 351.5h0M241.5 356.5h0M241.5 358.5h0M241.5 388.5h0M242.5 352.5h0M242.5 353.5h0M242.5 357.5h0M242.5 387.5h0M242.5 388.5h0M243.5 353.5h0M243.5 355.5h0M243.5 356.5h0M243.5 357.5h0M243.5 358.5h0M243.5 386.5h0M243.5 387.5h0M243.5 388.5h0M243.5 389.5h0M244.5 355.5h0M244.5 357.5h0M244.5 359.5h0M244.5 384.5h0M244.5 385.5h0M244.5 388.5h0M245.5 359.5h0M245.5 361.5h0M245.5 376.5h0M245.5 379.5h0M245.5 382.5h0M245.5 383.5h0M245.5 385.5h0M246.5 365.5h0M246.5 367.5h0M246.5 369.5h0M246.5 370.5h0M246.5 372.5h0" stroke="#5888de" stroke-width="1" stroke-linecap="square"/>
<path d="M233.5 374.5h0M233.5 375.5h0M234.5 373.5h0M234.5 374.5h0M234.5 375.5h0M234.5 377.5h0M234.5 381.5h0M235.5 368.5h0M235.5 369.5h0M235.5 370.5h0M235.5 372.5h0M235.5 373.5h0M235.5 374.5h0M235.5 378.5h0M235.5 379.5h0M236.5 362.5h0M236.5 365.5h0M236.5 366.5h0M236.5 367.5h0M236.5 369.5h0M236.5 381.5h0M236.5 382.5h0M236.5 383.5h0M237.5 355.5h0M237.5 360.5h0M237.5 361.5h0M237.5 363.5h0M237.5 364.5h0M237.5 365.5h0M237.5 366.5h0M237.5 383.5h0M237.5 384.5h0M237.5 385.5h0M238.5 353.5h0M238.5 354.5h0M238.5 355.5h0M238.5 356.5h0M238.5 360.5h0M238.5 384.5h0M238.5 386.5h0M238.5 387.5h0M239.5 353.5h0M239.5 354.5h0M239.5 355.5h0M239.5 356.5h0M239.5 359.5h0M239.5 386.5h0M239.5 387.5h0M239.5 388.5h0M240.5 353.5h0M240.5 354.5h0M240.5 355.5h0M240.5 356.5h0M240.5 359.5h0M240.5 386.5h0M240.5 387.5h0M241.5 354.5h0M241.5 355.5h0M241.5 359.5h0M241.5 385.5h0M241.5 386.5h0M241.5 387.5h0M242.5 385.5h0M243.5 359.5h0M243.5 360.5h0M243.5 361.5h0M243.5 381.5h0M243.5 382.5h0M243.5 383.5h0M243.5 384.5h0M243.5 385.5h0M244.5 360.5h0M244.5 361.5h0M244.5 362.5h0M244.5 377.5h0M244.5 378.5h0M244.5 379.5h0M244.5 381.5h0M244.5 382.5h0M244.5 383.5h0M245.5 362.5h0M245.5 363.5h0M245.5 367.5h0M245.5 368.5h0M245.5 369.5h0M245.5 370.5h0M245.5 371.5h0M245.5 372.5h0M245.5 374.5h0" stroke="#3a98d2" stroke-width="1" stroke-linecap="square"/>
<path d="M235.5 376.5h0M236.5 370.5h0M236.5 371.5h0M236.5 372.5h0M236.5 373.5h0M236.5 374.5h0M236.5 375.5h0M236.5 376.5h0M236.5 377.5h0M236.5 378.5h0M236.5 379.5h0M236.5 380.5h0M237.5 368.5h0M237.5 369.5h0M237.5 370.5h0M237.5 371.5h0M237.5 372.5h0M237.5 373.5h0M237.5 381.5h0M237.5 382.5h0M238.5 361.5h0M238.5 362.5h0M238.5 363.5h0M238.5 364.5h0M238.5 365.5h0M238.5 366.5h0M238.5 367.5h0M238.5 372.5h0M238.5 373.5h0M238.5 374.5h0M238.5 382.5h0M238.5 383.5h0M239.5 360.5h0M239.5 361.5h0M239.5 362.5h0M239.5 363.5h0M239.5 364.5h0M239.5 365.5h0M239.5 383.5h0M239.5 384.5h0M239.5 385.5h0M240.5 360.5h0M240.5 361.5h0M240.5 363.5h0M240.5 364.5h0M240.5 384.5h0M241.5 360.5h0M241.5 361.5h0M241.5 362.5h0M241.5 363.5h0M241.5 364.5h0M241.5 382.5h0M241.5 383.5h0M241.5 384.5h0M242.5 361.5h0M242.5 362.5h0M242.5 363.5h0M242.5 364.5h0M242.5 380.5h0M242.5 381.5h0M242.5 383.5h0M243.5 362.5h0M243.5 363.5h0M243.5 364.5h0M243.5 365.5h0M243.5 378.5h0M243.5 379.5h0M243.5 380.5h0M244.5 363.5h0M244.5 364.5h0M244.5 365.5h0M244.5 366.5h0M244.5 367.5h0M244.5 368.5h0M244.5 369.5h0M244.5 370.5h0M244.5 374.5h0" stroke="#32aca6" stroke-width="1" stroke-linecap="square"/>
<path d="M237.5 375.5h0M237.5 376.5h0M237.5 377.5h0M237.5 378.5h0M238.5 368.5h0M238.5 369.5h0M238.5 370.5h0M238.5 375.5h0M238.5 376.5h0M238.5 377.5h0M238.5 378.5h0M238.5 379.5h0M238.5 380.5h0M238.5 381.5h0M239.5 366.5h0M239.5 367.5h0M239.5 368.5h0M239.5 370.5h0M239.5 371.5h0M239.5 372.5h0M239.5 374.5h0M239.5 376.5h0M239.5 380.5h0M239.5 381.5h0M239.5 382.5h0M240.5 362.5h0M240.5 365.5h0M240.5 366.5h0M240.5 367.5h0M240.5 372.5h0M240.5 374.5h0M240.5 375.5h0M240.5 380.5h0M240.5 381.5h0M240.5 382.5h0M240.5 383.5h0M241.5 365.5h0M241.5 366.5h0M241.5 379.5h0M241.5 380.5h0M241.5 381.5h0M242.5 365.5h0M242.5 366.5h0M242.5 367.5h0M242.5 368.5h0M242.5 369.5h0M242.5 378.5h0M242.5 379.5h0M243.5 366.5h0M243.5 367.5h0M243.5 368.5h0M243.5 369.5h0M243.5 370.5h0M243.5 371.5h0M243.5 374.5h0M243.5 375.5h0M243.5 376.5h0M243.5 377.5h0M244.5 371.5h0M244.5 372.5h0M244.5 373.5h0" stroke="#56be62" stroke-width="1" stroke-linecap="square"/>
<path d="M239.5 369.5h0M239.5 377.5h0M239.5 378.5h0M239.5 379.5h0M240.5 368.5h0M240.5 369.5h0M240.5 370.5h0M240.5 371.5h0M240.5 376.5h0M240.5 377.5h0M240.5 378.5h0M240.5 379.5h0M241.5 367.5h0M241.5 368.5h0M241.5 369.5h0M241.5 370.5h0M241.5 371.5h0M241.5 372.5h0M241.5 373.5h0M241.5 374.5h0M241.5 375.5h0M241.5 376.5h0M241.5 377.5h0M241.5 378.5h0M242.5 371.5h0M242.5 372.5h0M242.5 373.5h0M242.5 374.5h0M242.5 375.5h0M242.5 376.5h0M242.5 377.5h0M243.5 372.5h0M243.5 373.5h0" stroke="#b4d034" stroke-width="1" stroke-linecap="square"/>
</g>
<path d="M207.2 321.3V398.4M173.8 370.4H253.4" stroke="#e89ce4" stroke-width="0.9" fill="none"/>
<rect x="173.8" y="321.3" width="79.6" height="77.1" fill="none" stroke="#858585" stroke-width="1.4"/>
<path d="M174.1 321.3V398.4M173.8 398.1H253.4" stroke="#8a8a8a" stroke-width="2" stroke-dasharray="2.5 1.5"/>
<text x="175.00" y="328.30" font-size="7.5" fill="#1a1a1a" text-anchor="start" style="font-weight:bold;" >6.9</text>
<text x="252.30" y="328.30" font-size="7.5" fill="#1a1a1a" text-anchor="end" style="font-weight:bold;" >28</text>
<text x="175.00" y="397.50" font-size="7.5" fill="#1a1a1a" text-anchor="start" style="font-weight:bold;" >2.9</text>
<text x="252.30" y="397.50" font-size="7.5" fill="#1a1a1a" text-anchor="end" style="font-weight:bold;" >62.2</text>
<text x="211.50" y="319.00" font-size="11.1" fill="#1a1a1a" text-anchor="middle" style="font-weight:bold;" >Corn oil</text>
<g filter="url(#bl03)">
<path d="M273.5 377.5h0M274.5 350.5h0M274.5 384.5h0M277.5 385.5h0M277.5 395.5h0M278.5 345.5h0M278.5 381.5h0M278.5 397.5h0M279.5 351.5h0M279.5 355.5h0M279.5 387.5h0M279.5 388.5h0M279.5 392.5h0M280.5 379.5h0M280.5 386.5h0M281.5 362.5h0M281.5 371.5h0M281.5 375.5h0M281.5 386.5h0M281.5 391.5h0M281.5 392.5h0M283.5 367.5h0M283.5 377.5h0M283.5 389.5h0M284.5 351.5h0M284.5 362.5h0M284.5 365.5h0M285.5 340.5h0M285.5 350.5h0M285.5 360.5h0M285.5 363.5h0M285.5 366.5h0M285.5 367.5h0M285.5 380.5h0M285.5 387.5h0M285.5 395.5h0M286.5 347.5h0M286.5 355.5h0M286.5 375.5h0M286.5 389.5h0M286.5 394.5h0M287.5 343.5h0M287.5 360.5h0M287.5 362.5h0M287.5 386.5h0M288.5 351.5h0M288.5 357.5h0M288.5 374.5h0M288.5 389.5h0M288.5 392.5h0M288.5 394.5h0M289.5 352.5h0M289.5 360.5h0M289.5 366.5h0M289.5 378.5h0M289.5 383.5h0M289.5 392.5h0M290.5 352.5h0M290.5 358.5h0M290.5 363.5h0M290.5 367.5h0M290.5 377.5h0M290.5 384.5h0M290.5 396.5h0M291.5 361.5h0M291.5 378.5h0M291.5 391.5h0M291.5 395.5h0M292.5 343.5h0M292.5 345.5h0M292.5 356.5h0M292.5 376.5h0M292.5 384.5h0M292.5 386.5h0M292.5 391.5h0M292.5 398.5h0M293.5 355.5h0M293.5 358.5h0M293.5 363.5h0M293.5 364.5h0M293.5 385.5h0M294.5 345.5h0M294.5 348.5h0M294.5 361.5h0M294.5 371.5h0M294.5 374.5h0M294.5 378.5h0M294.5 389.5h0M294.5 392.5h0M295.5 357.5h0M295.5 361.5h0M295.5 365.5h0M295.5 370.5h0M295.5 372.5h0M295.5 378.5h0M295.5 392.5h0M296.5 353.5h0M296.5 364.5h0M296.5 368.5h0M296.5 372.5h0M296.5 379.5h0M296.5 383.5h0M296.5 384.5h0M296.5 389.5h0M296.5 393.5h0M296.5 394.5h0M297.5 359.5h0M297.5 367.5h0M297.5 372.5h0M297.5 375.5h0M297.5 381.5h0M297.5 390.5h0M297.5 398.5h0M298.5 352.5h0M298.5 370.5h0M298.5 380.5h0M299.5 353.5h0M299.5 355.5h0M299.5 357.5h0M299.5 358.5h0M299.5 361.5h0M299.5 367.5h0M299.5 370.5h0M299.5 371.5h0M299.5 378.5h0M299.5 389.5h0M299.5 392.5h0M299.5 394.5h0M299.5 397.5h0M300.5 360.5h0M300.5 386.5h0M300.5 393.5h0M301.5 359.5h0M301.5 373.5h0M301.5 377.5h0M301.5 379.5h0M301.5 385.5h0M301.5 387.5h0M301.5 398.5h0M302.5 354.5h0M302.5 363.5h0M302.5 366.5h0M302.5 369.5h0M302.5 374.5h0M302.5 378.5h0M302.5 391.5h0M302.5 394.5h0M303.5 361.5h0M303.5 367.5h0M303.5 375.5h0M304.5 357.5h0M304.5 369.5h0M304.5 380.5h0M304.5 398.5h0M305.5 344.5h0M305.5 357.5h0M306.5 360.5h0M307.5 374.5h0M307.5 396.5h0M308.5 376.5h0M308.5 397.5h0M309.5 364.5h0M310.5 368.5h0M310.5 371.5h0M310.5 374.5h0M310.5 376.5h0M310.5 398.5h0M311.5 397.5h0M312.5 368.5h0M312.5 372.5h0M312.5 373.5h0M312.5 374.5h0M315.5 372.5h0M315.5 398.5h0M318.5 369.5h0M318.5 371.5h0M320.5 365.5h0M321.5 365.5h0M321.5 370.5h0M322.5 368.5h0M323.5 359.5h0M324.5 363.5h0M324.5 366.5h0M325.5 366.5h0M327.5 368.5h0M328.5 365.5h0M330.5 359.5h0M330.5 363.5h0M332.5 356.5h0M333.5 361.5h0M334.5 358.5h0M335.5 356.5h0M336.5 350.5h0M337.5 348.5h0M337.5 352.5h0M338.5 354.5h0M339.5 352.5h0M340.5 349.5h0M340.5 350.5h0M340.5 398.5h0M341.5 351.5h0M341.5 352.5h0M341.5 395.5h0M341.5 396.5h0M342.5 360.5h0M343.5 358.5h0M343.5 360.5h0M345.5 349.5h0M345.5 364.5h0M346.5 374.5h0M346.5 393.5h0M347.5 360.5h0M347.5 380.5h0M348.5 384.5h0M349.5 367.5h0M349.5 389.5h0" stroke="#c2cef4" stroke-width="1" stroke-linecap="square"/>
<path d="M281.5 382.5h0M281.5 383.5h0M282.5 381.5h0M282.5 382.5h0M282.5 385.5h0M284.5 381.5h0M284.5 383.5h0M284.5 385.5h0M285.5 386.5h0M286.5 382.5h0M286.5 384.5h0M286.5 385.5h0M288.5 379.5h0M288.5 380.5h0M289.5 381.5h0M290.5 356.5h0M290.5 357.5h0M290.5 380.5h0M290.5 382.5h0M296.5 378.5h0M297.5 383.5h0M298.5 376.5h0M298.5 383.5h0M299.5 364.5h0M299.5 365.5h0M299.5 376.5h0M299.5 383.5h0M300.5 366.5h0M301.5 363.5h0M301.5 364.5h0M301.5 382.5h0M301.5 383.5h0M302.5 381.5h0M303.5 381.5h0M303.5 382.5h0M303.5 393.5h0M303.5 394.5h0M304.5 384.5h0M304.5 386.5h0M304.5 389.5h0M304.5 390.5h0M304.5 393.5h0M305.5 384.5h0M305.5 386.5h0M305.5 388.5h0M305.5 389.5h0M305.5 390.5h0M305.5 392.5h0M305.5 394.5h0M306.5 382.5h0M306.5 385.5h0M306.5 391.5h0M307.5 380.5h0M307.5 382.5h0M307.5 385.5h0M307.5 388.5h0M307.5 391.5h0M307.5 392.5h0M308.5 381.5h0M308.5 382.5h0M308.5 385.5h0M308.5 388.5h0M308.5 391.5h0M308.5 392.5h0M308.5 393.5h0M308.5 395.5h0M308.5 396.5h0M309.5 378.5h0M309.5 382.5h0M309.5 385.5h0M309.5 387.5h0M309.5 388.5h0M309.5 390.5h0M309.5 391.5h0M309.5 394.5h0M310.5 378.5h0M310.5 380.5h0M310.5 385.5h0M310.5 387.5h0M310.5 388.5h0M311.5 387.5h0M311.5 388.5h0M311.5 389.5h0M311.5 390.5h0M311.5 391.5h0M311.5 393.5h0M311.5 394.5h0M312.5 378.5h0M312.5 388.5h0M312.5 391.5h0M312.5 393.5h0M313.5 388.5h0M313.5 391.5h0M313.5 394.5h0M313.5 395.5h0M314.5 374.5h0M314.5 376.5h0M314.5 377.5h0M314.5 388.5h0M314.5 395.5h0M314.5 397.5h0M315.5 373.5h0M315.5 389.5h0M316.5 372.5h0M316.5 376.5h0M317.5 374.5h0M317.5 375.5h0M317.5 397.5h0M318.5 373.5h0M318.5 375.5h0M319.5 372.5h0M319.5 374.5h0M319.5 375.5h0M319.5 376.5h0M320.5 375.5h0M321.5 372.5h0M321.5 375.5h0M321.5 376.5h0M321.5 397.5h0M321.5 398.5h0M322.5 372.5h0M322.5 396.5h0M323.5 366.5h0M323.5 367.5h0M323.5 369.5h0M323.5 372.5h0M323.5 373.5h0M323.5 392.5h0M323.5 393.5h0M324.5 370.5h0M324.5 391.5h0M324.5 397.5h0M325.5 372.5h0M325.5 393.5h0M325.5 395.5h0M326.5 391.5h0M326.5 392.5h0M326.5 394.5h0M326.5 395.5h0M327.5 370.5h0M327.5 390.5h0M327.5 394.5h0M328.5 370.5h0M328.5 391.5h0M328.5 394.5h0M328.5 395.5h0M328.5 398.5h0M329.5 368.5h0M329.5 370.5h0M329.5 397.5h0M329.5 398.5h0M330.5 398.5h0M331.5 398.5h0M332.5 364.5h0M332.5 366.5h0M332.5 368.5h0M333.5 365.5h0M334.5 365.5h0M334.5 397.5h0M334.5 398.5h0M335.5 364.5h0M335.5 396.5h0M335.5 397.5h0M336.5 357.5h0M336.5 360.5h0M336.5 361.5h0M336.5 395.5h0M336.5 397.5h0M337.5 356.5h0M337.5 357.5h0M337.5 358.5h0M337.5 360.5h0M337.5 361.5h0M337.5 363.5h0M337.5 395.5h0M338.5 355.5h0M338.5 357.5h0M338.5 358.5h0M338.5 360.5h0M338.5 363.5h0M338.5 364.5h0M338.5 394.5h0M339.5 359.5h0M339.5 361.5h0M339.5 362.5h0M339.5 365.5h0M340.5 357.5h0M340.5 360.5h0M340.5 364.5h0M340.5 366.5h0M340.5 393.5h0M341.5 358.5h0M341.5 368.5h0M341.5 391.5h0M341.5 392.5h0M342.5 364.5h0M342.5 365.5h0M342.5 368.5h0M342.5 371.5h0M342.5 390.5h0M342.5 391.5h0M342.5 392.5h0M343.5 364.5h0M343.5 365.5h0M343.5 371.5h0M343.5 387.5h0M343.5 390.5h0M344.5 365.5h0M344.5 381.5h0M344.5 385.5h0M344.5 387.5h0M344.5 390.5h0M345.5 374.5h0M345.5 381.5h0M346.5 380.5h0M346.5 381.5h0" stroke="#a2b4ee" stroke-width="1" stroke-linecap="square"/>
<path d="M310.5 381.5h0M310.5 382.5h0M310.5 383.5h0M311.5 380.5h0M311.5 382.5h0M311.5 383.5h0M311.5 385.5h0M312.5 380.5h0M312.5 383.5h0M312.5 384.5h0M312.5 385.5h0M313.5 378.5h0M313.5 379.5h0M313.5 380.5h0M313.5 382.5h0M313.5 384.5h0M313.5 385.5h0M313.5 392.5h0M314.5 378.5h0M314.5 379.5h0M314.5 380.5h0M314.5 385.5h0M314.5 387.5h0M314.5 391.5h0M314.5 392.5h0M314.5 393.5h0M314.5 394.5h0M315.5 377.5h0M315.5 378.5h0M315.5 379.5h0M315.5 380.5h0M315.5 382.5h0M315.5 385.5h0M315.5 386.5h0M315.5 387.5h0M315.5 391.5h0M315.5 392.5h0M315.5 393.5h0M315.5 394.5h0M316.5 378.5h0M316.5 379.5h0M316.5 382.5h0M316.5 383.5h0M316.5 384.5h0M316.5 385.5h0M316.5 386.5h0M316.5 392.5h0M316.5 394.5h0M316.5 395.5h0M317.5 377.5h0M317.5 378.5h0M317.5 381.5h0M317.5 382.5h0M317.5 383.5h0M317.5 384.5h0M317.5 386.5h0M317.5 387.5h0M317.5 388.5h0M317.5 390.5h0M317.5 391.5h0M317.5 392.5h0M317.5 394.5h0M317.5 396.5h0M318.5 378.5h0M318.5 379.5h0M318.5 382.5h0M318.5 384.5h0M318.5 387.5h0M318.5 390.5h0M318.5 391.5h0M318.5 392.5h0M318.5 393.5h0M318.5 394.5h0M318.5 395.5h0M318.5 396.5h0M318.5 397.5h0M319.5 377.5h0M319.5 379.5h0M319.5 381.5h0M319.5 382.5h0M319.5 383.5h0M319.5 384.5h0M319.5 385.5h0M319.5 386.5h0M319.5 387.5h0M319.5 388.5h0M319.5 389.5h0M319.5 391.5h0M319.5 394.5h0M319.5 396.5h0M319.5 397.5h0M320.5 377.5h0M320.5 378.5h0M320.5 380.5h0M320.5 381.5h0M320.5 383.5h0M320.5 384.5h0M320.5 387.5h0M320.5 388.5h0M320.5 390.5h0M320.5 392.5h0M320.5 393.5h0M320.5 395.5h0M320.5 396.5h0M320.5 397.5h0M321.5 378.5h0M321.5 383.5h0M321.5 384.5h0M321.5 385.5h0M321.5 386.5h0M321.5 387.5h0M321.5 388.5h0M321.5 389.5h0M321.5 390.5h0M321.5 391.5h0M321.5 392.5h0M321.5 394.5h0M321.5 395.5h0M322.5 378.5h0M322.5 380.5h0M322.5 382.5h0M322.5 383.5h0M322.5 384.5h0M322.5 388.5h0M322.5 389.5h0M322.5 390.5h0M322.5 392.5h0M322.5 394.5h0M323.5 375.5h0M323.5 376.5h0M323.5 377.5h0M323.5 378.5h0M323.5 379.5h0M323.5 380.5h0M323.5 381.5h0M323.5 384.5h0M323.5 385.5h0M323.5 386.5h0M323.5 388.5h0M323.5 389.5h0M323.5 391.5h0M324.5 373.5h0M324.5 374.5h0M324.5 376.5h0M324.5 377.5h0M324.5 378.5h0M324.5 379.5h0M324.5 380.5h0M324.5 381.5h0M324.5 382.5h0M324.5 384.5h0M324.5 385.5h0M324.5 386.5h0M324.5 387.5h0M324.5 388.5h0M324.5 389.5h0M325.5 378.5h0M325.5 379.5h0M325.5 380.5h0M325.5 381.5h0M325.5 382.5h0M325.5 383.5h0M325.5 384.5h0M325.5 385.5h0M325.5 386.5h0M326.5 372.5h0M326.5 374.5h0M326.5 375.5h0M326.5 376.5h0M326.5 377.5h0M326.5 378.5h0M326.5 381.5h0M326.5 382.5h0M326.5 383.5h0M326.5 384.5h0M326.5 387.5h0M327.5 372.5h0M327.5 373.5h0M327.5 375.5h0M327.5 376.5h0M327.5 380.5h0M327.5 381.5h0M327.5 385.5h0M327.5 386.5h0M327.5 387.5h0M327.5 388.5h0M328.5 371.5h0M328.5 373.5h0M328.5 374.5h0M328.5 386.5h0M328.5 387.5h0M328.5 389.5h0M328.5 390.5h0M329.5 372.5h0M329.5 373.5h0M329.5 387.5h0M329.5 388.5h0M329.5 391.5h0M329.5 393.5h0M329.5 395.5h0M330.5 371.5h0M330.5 372.5h0M330.5 389.5h0M330.5 391.5h0M330.5 392.5h0M330.5 394.5h0M330.5 396.5h0M331.5 371.5h0M331.5 372.5h0M331.5 392.5h0M331.5 395.5h0M331.5 396.5h0M332.5 369.5h0M332.5 370.5h0M332.5 371.5h0M332.5 392.5h0M332.5 393.5h0M332.5 394.5h0M332.5 395.5h0M332.5 396.5h0M333.5 369.5h0M333.5 370.5h0M333.5 393.5h0M333.5 394.5h0M333.5 395.5h0M333.5 396.5h0M334.5 367.5h0M334.5 369.5h0M334.5 393.5h0M334.5 394.5h0M335.5 367.5h0M335.5 368.5h0M335.5 393.5h0M335.5 394.5h0M336.5 366.5h0M336.5 367.5h0M336.5 368.5h0M336.5 391.5h0M336.5 392.5h0M336.5 393.5h0M337.5 365.5h0M337.5 366.5h0M337.5 367.5h0M337.5 368.5h0M337.5 391.5h0M337.5 392.5h0M337.5 393.5h0M338.5 366.5h0M338.5 368.5h0M338.5 369.5h0M338.5 390.5h0M338.5 391.5h0M338.5 392.5h0M339.5 368.5h0M339.5 370.5h0M339.5 389.5h0M340.5 368.5h0M340.5 369.5h0M340.5 371.5h0M340.5 388.5h0M340.5 389.5h0M340.5 390.5h0M341.5 371.5h0M341.5 372.5h0M341.5 387.5h0M341.5 390.5h0M342.5 372.5h0M342.5 373.5h0M342.5 374.5h0M342.5 383.5h0M342.5 385.5h0M342.5 386.5h0M342.5 387.5h0M342.5 388.5h0M343.5 374.5h0M343.5 375.5h0M343.5 376.5h0M343.5 377.5h0M343.5 378.5h0M343.5 379.5h0M343.5 381.5h0M343.5 385.5h0M344.5 378.5h0" stroke="#7c9ae6" stroke-width="1" stroke-linecap="square"/>
<path d="M327.5 382.5h0M327.5 383.5h0M327.5 384.5h0M328.5 375.5h0M328.5 376.5h0M328.5 378.5h0M328.5 379.5h0M328.5 380.5h0M328.5 381.5h0M328.5 383.5h0M328.5 384.5h0M329.5 374.5h0M329.5 375.5h0M329.5 376.5h0M329.5 377.5h0M329.5 378.5h0M329.5 379.5h0M329.5 380.5h0M329.5 382.5h0M329.5 383.5h0M329.5 385.5h0M329.5 386.5h0M330.5 373.5h0M330.5 374.5h0M330.5 376.5h0M330.5 382.5h0M330.5 383.5h0M330.5 384.5h0M330.5 385.5h0M330.5 386.5h0M330.5 387.5h0M330.5 388.5h0M331.5 373.5h0M331.5 387.5h0M331.5 389.5h0M331.5 390.5h0M332.5 372.5h0M332.5 373.5h0M332.5 388.5h0M332.5 389.5h0M332.5 390.5h0M333.5 371.5h0M333.5 388.5h0M333.5 389.5h0M333.5 390.5h0M334.5 370.5h0M334.5 371.5h0M334.5 372.5h0M334.5 388.5h0M334.5 389.5h0M334.5 390.5h0M334.5 391.5h0M335.5 369.5h0M335.5 370.5h0M335.5 371.5h0M335.5 388.5h0M335.5 389.5h0M335.5 390.5h0M335.5 391.5h0M335.5 392.5h0M336.5 369.5h0M336.5 370.5h0M336.5 371.5h0M336.5 388.5h0M336.5 389.5h0M337.5 369.5h0M337.5 370.5h0M337.5 371.5h0M337.5 387.5h0M337.5 388.5h0M338.5 371.5h0M338.5 388.5h0M339.5 371.5h0M339.5 372.5h0M339.5 387.5h0M339.5 388.5h0M340.5 372.5h0M340.5 386.5h0M341.5 374.5h0M341.5 375.5h0M341.5 384.5h0M341.5 385.5h0M342.5 375.5h0M342.5 377.5h0M342.5 378.5h0M342.5 379.5h0M342.5 380.5h0M342.5 381.5h0" stroke="#5888de" stroke-width="1" stroke-linecap="square"/>
<path d="M330.5 377.5h0M330.5 378.5h0M330.5 379.5h0M330.5 380.5h0M330.5 381.5h0M331.5 375.5h0M331.5 376.5h0M331.5 377.5h0M331.5 379.5h0M331.5 381.5h0M331.5 382.5h0M331.5 383.5h0M331.5 384.5h0M331.5 385.5h0M332.5 374.5h0M332.5 375.5h0M332.5 376.5h0M332.5 377.5h0M332.5 378.5h0M332.5 379.5h0M332.5 380.5h0M332.5 381.5h0M332.5 382.5h0M332.5 383.5h0M332.5 385.5h0M332.5 386.5h0M332.5 387.5h0M333.5 373.5h0M333.5 385.5h0M333.5 386.5h0M333.5 387.5h0M334.5 373.5h0M334.5 386.5h0M334.5 387.5h0M335.5 372.5h0M335.5 373.5h0M335.5 387.5h0M336.5 372.5h0M336.5 373.5h0M336.5 386.5h0M336.5 387.5h0M337.5 372.5h0M337.5 373.5h0M337.5 386.5h0M338.5 372.5h0M338.5 373.5h0M338.5 386.5h0M339.5 373.5h0M339.5 374.5h0M339.5 385.5h0M339.5 386.5h0M340.5 374.5h0M340.5 375.5h0M340.5 376.5h0M340.5 384.5h0M340.5 385.5h0M341.5 376.5h0M341.5 377.5h0M341.5 378.5h0M341.5 379.5h0M341.5 380.5h0M341.5 382.5h0M341.5 383.5h0" stroke="#3a98d2" stroke-width="1" stroke-linecap="square"/>
<path d="M333.5 375.5h0M333.5 376.5h0M333.5 377.5h0M333.5 378.5h0M333.5 379.5h0M333.5 380.5h0M333.5 381.5h0M333.5 382.5h0M333.5 383.5h0M333.5 384.5h0M334.5 374.5h0M334.5 375.5h0M334.5 383.5h0M334.5 384.5h0M334.5 385.5h0M335.5 374.5h0M335.5 385.5h0M335.5 386.5h0M336.5 374.5h0M336.5 385.5h0M337.5 374.5h0M337.5 375.5h0M337.5 385.5h0M338.5 374.5h0M338.5 375.5h0M338.5 384.5h0M338.5 385.5h0M339.5 375.5h0M339.5 376.5h0M339.5 383.5h0M339.5 384.5h0M340.5 378.5h0M340.5 379.5h0M340.5 380.5h0M340.5 381.5h0M340.5 382.5h0M340.5 383.5h0" stroke="#32aca6" stroke-width="1" stroke-linecap="square"/>
<path d="M334.5 376.5h0M334.5 377.5h0M334.5 378.5h0M334.5 379.5h0M334.5 380.5h0M334.5 381.5h0M334.5 382.5h0M335.5 375.5h0M335.5 376.5h0M335.5 381.5h0M335.5 382.5h0M335.5 383.5h0M335.5 384.5h0M336.5 375.5h0M336.5 376.5h0M336.5 383.5h0M336.5 384.5h0M337.5 376.5h0M337.5 383.5h0M337.5 384.5h0M338.5 376.5h0M338.5 377.5h0M338.5 382.5h0M338.5 383.5h0M339.5 377.5h0M339.5 378.5h0M339.5 379.5h0M339.5 380.5h0M339.5 381.5h0M339.5 382.5h0" stroke="#56be62" stroke-width="1" stroke-linecap="square"/>
<path d="M335.5 377.5h0M335.5 378.5h0M335.5 379.5h0M335.5 380.5h0M336.5 377.5h0M336.5 378.5h0M336.5 379.5h0M336.5 380.5h0M336.5 381.5h0M336.5 382.5h0M337.5 377.5h0M337.5 378.5h0M337.5 379.5h0M337.5 380.5h0M337.5 381.5h0M337.5 382.5h0M338.5 378.5h0M338.5 379.5h0M338.5 380.5h0M338.5 381.5h0" stroke="#b4d034" stroke-width="1" stroke-linecap="square"/>
</g>
<path d="M305.2 322.5V399.5M272 371.7H351" stroke="#e89ce4" stroke-width="0.9" fill="none"/>
<rect x="272" y="322.5" width="79.0" height="77.0" fill="none" stroke="#858585" stroke-width="1.4"/>
<path d="M272.3 322.5V399.5M272 399.2H351" stroke="#8a8a8a" stroke-width="2" stroke-dasharray="2.5 1.5"/>
<text x="273.20" y="329.50" font-size="7.5" fill="#1a1a1a" text-anchor="start" style="font-weight:bold;" >3.1</text>
<text x="349.90" y="329.50" font-size="7.5" fill="#1a1a1a" text-anchor="end" style="font-weight:bold;" >5.7</text>
<text x="273.20" y="398.60" font-size="7.5" fill="#1a1a1a" text-anchor="start" style="font-weight:bold;" >7.9</text>
<text x="349.90" y="398.60" font-size="7.5" fill="#1a1a1a" text-anchor="end" style="font-weight:bold;" >83.3</text>
<text x="310.60" y="320.20" font-size="11.1" fill="#1a1a1a" text-anchor="middle" style="font-weight:bold;" >Corn oil</text>
<g filter="url(#bl03)">
<path d="M374.5 391.5h0M377.5 373.5h0M377.5 380.5h0M377.5 381.5h0M377.5 385.5h0M377.5 391.5h0M378.5 374.5h0M378.5 384.5h0M378.5 387.5h0M378.5 389.5h0M379.5 371.5h0M379.5 380.5h0M379.5 383.5h0M379.5 386.5h0M379.5 388.5h0M380.5 368.5h0M381.5 375.5h0M382.5 378.5h0M382.5 390.5h0M383.5 376.5h0M384.5 369.5h0M386.5 367.5h0M386.5 370.5h0M386.5 394.5h0M387.5 368.5h0M387.5 371.5h0M387.5 372.5h0M388.5 341.5h0M388.5 346.5h0M388.5 374.5h0M388.5 395.5h0M388.5 396.5h0M390.5 341.5h0M390.5 345.5h0M390.5 349.5h0M390.5 378.5h0M390.5 392.5h0M391.5 341.5h0M391.5 371.5h0M391.5 372.5h0M391.5 373.5h0M391.5 395.5h0M391.5 397.5h0M392.5 391.5h0M392.5 395.5h0M393.5 372.5h0M393.5 375.5h0M393.5 391.5h0M393.5 392.5h0M393.5 396.5h0M394.5 340.5h0M394.5 353.5h0M394.5 370.5h0M394.5 391.5h0M394.5 398.5h0M395.5 340.5h0M395.5 357.5h0M396.5 334.5h0M396.5 389.5h0M396.5 394.5h0M397.5 353.5h0M397.5 359.5h0M397.5 389.5h0M397.5 397.5h0M398.5 340.5h0M398.5 342.5h0M398.5 343.5h0M398.5 372.5h0M398.5 376.5h0M398.5 390.5h0M398.5 394.5h0M398.5 396.5h0M399.5 350.5h0M399.5 357.5h0M399.5 368.5h0M399.5 373.5h0M399.5 377.5h0M399.5 385.5h0M399.5 392.5h0M400.5 337.5h0M400.5 341.5h0M400.5 357.5h0M400.5 360.5h0M400.5 377.5h0M400.5 380.5h0M400.5 384.5h0M400.5 388.5h0M400.5 390.5h0M400.5 396.5h0M401.5 335.5h0M401.5 347.5h0M401.5 351.5h0M401.5 353.5h0M401.5 370.5h0M401.5 374.5h0M401.5 388.5h0M401.5 389.5h0M401.5 393.5h0M402.5 344.5h0M402.5 348.5h0M402.5 354.5h0M402.5 383.5h0M403.5 345.5h0M403.5 358.5h0M403.5 375.5h0M403.5 396.5h0M403.5 397.5h0M404.5 343.5h0M404.5 345.5h0M404.5 369.5h0M404.5 378.5h0M404.5 389.5h0M405.5 396.5h0M406.5 343.5h0M406.5 365.5h0M406.5 373.5h0M406.5 374.5h0M406.5 395.5h0M407.5 365.5h0M408.5 368.5h0M408.5 394.5h0M409.5 367.5h0M409.5 374.5h0M409.5 381.5h0M409.5 397.5h0M410.5 365.5h0M410.5 374.5h0M410.5 377.5h0M411.5 367.5h0M411.5 371.5h0M411.5 379.5h0M411.5 396.5h0M412.5 368.5h0M412.5 372.5h0M412.5 396.5h0M412.5 398.5h0M414.5 375.5h0M414.5 395.5h0M414.5 396.5h0M415.5 356.5h0M415.5 358.5h0M415.5 368.5h0M415.5 395.5h0M417.5 348.5h0M417.5 367.5h0M418.5 348.5h0M418.5 357.5h0M418.5 362.5h0M418.5 367.5h0M418.5 398.5h0M420.5 338.5h0M420.5 356.5h0M420.5 365.5h0M421.5 348.5h0M421.5 364.5h0M421.5 398.5h0M422.5 347.5h0M422.5 359.5h0M422.5 363.5h0M423.5 355.5h0M423.5 367.5h0M424.5 348.5h0M424.5 349.5h0M424.5 351.5h0M425.5 360.5h0M425.5 398.5h0M426.5 351.5h0M427.5 342.5h0M427.5 347.5h0M427.5 355.5h0M427.5 362.5h0M427.5 365.5h0M428.5 350.5h0M428.5 361.5h0M429.5 354.5h0M431.5 356.5h0M431.5 357.5h0M431.5 399.5h0M432.5 337.5h0M432.5 346.5h0M432.5 357.5h0M432.5 360.5h0M433.5 348.5h0M433.5 356.5h0M433.5 358.5h0M434.5 399.5h0M435.5 352.5h0M435.5 397.5h0M436.5 344.5h0M436.5 354.5h0M436.5 398.5h0M437.5 361.5h0M438.5 342.5h0M438.5 354.5h0M438.5 358.5h0M438.5 360.5h0M438.5 397.5h0M439.5 355.5h0M439.5 364.5h0M440.5 359.5h0M440.5 365.5h0M441.5 345.5h0M441.5 360.5h0M441.5 394.5h0M444.5 354.5h0M444.5 365.5h0M445.5 354.5h0M447.5 359.5h0M447.5 360.5h0M447.5 389.5h0M448.5 370.5h0M448.5 372.5h0M448.5 373.5h0M449.5 353.5h0M449.5 379.5h0M449.5 384.5h0M449.5 385.5h0M449.5 388.5h0M450.5 380.5h0M450.5 383.5h0M451.5 371.5h0" stroke="#c2cef4" stroke-width="1" stroke-linecap="square"/>
<path d="M380.5 381.5h0M380.5 382.5h0M381.5 379.5h0M381.5 384.5h0M381.5 386.5h0M382.5 381.5h0M382.5 382.5h0M382.5 383.5h0M382.5 385.5h0M382.5 387.5h0M383.5 385.5h0M383.5 386.5h0M383.5 387.5h0M383.5 389.5h0M384.5 380.5h0M384.5 381.5h0M384.5 389.5h0M384.5 390.5h0M384.5 391.5h0M385.5 376.5h0M385.5 377.5h0M385.5 380.5h0M385.5 381.5h0M385.5 386.5h0M385.5 388.5h0M385.5 390.5h0M385.5 392.5h0M386.5 376.5h0M386.5 379.5h0M386.5 383.5h0M386.5 385.5h0M386.5 387.5h0M386.5 389.5h0M387.5 374.5h0M387.5 377.5h0M387.5 379.5h0M387.5 386.5h0M387.5 387.5h0M387.5 391.5h0M388.5 378.5h0M388.5 380.5h0M388.5 383.5h0M388.5 384.5h0M388.5 385.5h0M388.5 387.5h0M388.5 390.5h0M388.5 393.5h0M389.5 387.5h0M389.5 388.5h0M390.5 384.5h0M390.5 386.5h0M390.5 387.5h0M390.5 388.5h0M390.5 394.5h0M391.5 342.5h0M391.5 344.5h0M391.5 345.5h0M391.5 348.5h0M391.5 350.5h0M391.5 378.5h0M391.5 381.5h0M391.5 382.5h0M391.5 385.5h0M391.5 386.5h0M392.5 343.5h0M392.5 346.5h0M392.5 347.5h0M392.5 349.5h0M392.5 350.5h0M392.5 378.5h0M392.5 381.5h0M392.5 383.5h0M392.5 385.5h0M393.5 345.5h0M393.5 348.5h0M393.5 379.5h0M393.5 380.5h0M393.5 382.5h0M393.5 386.5h0M394.5 341.5h0M394.5 342.5h0M394.5 347.5h0M394.5 348.5h0M394.5 349.5h0M394.5 350.5h0M394.5 351.5h0M394.5 376.5h0M394.5 378.5h0M394.5 380.5h0M394.5 381.5h0M394.5 383.5h0M394.5 384.5h0M394.5 385.5h0M394.5 387.5h0M395.5 344.5h0M395.5 346.5h0M395.5 347.5h0M395.5 350.5h0M395.5 351.5h0M395.5 377.5h0M395.5 378.5h0M395.5 379.5h0M395.5 384.5h0M395.5 385.5h0M395.5 386.5h0M395.5 387.5h0M396.5 347.5h0M396.5 348.5h0M396.5 349.5h0M396.5 351.5h0M396.5 352.5h0M396.5 377.5h0M396.5 378.5h0M396.5 379.5h0M396.5 380.5h0M396.5 381.5h0M396.5 384.5h0M396.5 386.5h0M396.5 392.5h0M396.5 393.5h0M397.5 347.5h0M397.5 350.5h0M397.5 379.5h0M397.5 384.5h0M397.5 392.5h0M398.5 344.5h0M398.5 346.5h0M398.5 351.5h0M398.5 377.5h0M398.5 392.5h0M399.5 347.5h0M399.5 348.5h0M400.5 344.5h0M400.5 345.5h0M403.5 384.5h0M403.5 385.5h0M403.5 386.5h0M403.5 391.5h0M403.5 392.5h0M403.5 393.5h0M404.5 383.5h0M404.5 386.5h0M404.5 387.5h0M404.5 391.5h0M404.5 393.5h0M404.5 394.5h0M405.5 379.5h0M405.5 380.5h0M405.5 381.5h0M405.5 384.5h0M405.5 386.5h0M405.5 392.5h0M406.5 379.5h0M406.5 382.5h0M406.5 383.5h0M406.5 384.5h0M406.5 387.5h0M406.5 390.5h0M407.5 379.5h0M407.5 380.5h0M407.5 381.5h0M407.5 385.5h0M407.5 388.5h0M407.5 389.5h0M408.5 377.5h0M408.5 378.5h0M408.5 379.5h0M408.5 387.5h0M408.5 389.5h0M409.5 386.5h0M409.5 387.5h0M409.5 389.5h0M409.5 390.5h0M410.5 384.5h0M410.5 385.5h0M410.5 392.5h0M410.5 393.5h0M410.5 394.5h0M411.5 381.5h0M411.5 391.5h0M411.5 392.5h0M411.5 393.5h0M412.5 381.5h0M412.5 390.5h0M412.5 393.5h0M412.5 394.5h0M413.5 380.5h0M413.5 383.5h0M413.5 389.5h0M413.5 391.5h0M414.5 379.5h0M414.5 380.5h0M414.5 389.5h0M414.5 392.5h0M415.5 376.5h0M415.5 379.5h0M415.5 389.5h0M415.5 391.5h0M416.5 371.5h0M416.5 374.5h0M416.5 376.5h0M416.5 377.5h0M416.5 378.5h0M416.5 389.5h0M416.5 390.5h0M416.5 392.5h0M417.5 371.5h0M417.5 372.5h0M417.5 374.5h0M417.5 389.5h0M417.5 392.5h0M417.5 394.5h0M418.5 369.5h0M418.5 372.5h0M418.5 373.5h0M418.5 374.5h0M418.5 375.5h0M418.5 381.5h0M418.5 392.5h0M418.5 394.5h0M419.5 369.5h0M419.5 372.5h0M419.5 380.5h0M419.5 391.5h0M419.5 392.5h0M419.5 395.5h0M420.5 371.5h0M420.5 372.5h0M420.5 375.5h0M420.5 376.5h0M420.5 379.5h0M420.5 380.5h0M420.5 390.5h0M420.5 391.5h0M420.5 392.5h0M420.5 395.5h0M420.5 396.5h0M420.5 397.5h0M421.5 367.5h0M421.5 369.5h0M421.5 371.5h0M421.5 372.5h0M421.5 373.5h0M421.5 391.5h0M421.5 393.5h0M421.5 394.5h0M421.5 395.5h0M422.5 366.5h0M422.5 369.5h0M422.5 374.5h0M423.5 368.5h0M423.5 373.5h0M423.5 374.5h0M423.5 394.5h0M423.5 395.5h0M423.5 396.5h0M424.5 371.5h0M425.5 370.5h0M425.5 371.5h0M425.5 394.5h0M426.5 393.5h0M426.5 395.5h0M427.5 393.5h0M427.5 394.5h0M427.5 395.5h0M427.5 396.5h0M427.5 397.5h0M428.5 362.5h0M428.5 394.5h0M428.5 397.5h0M428.5 398.5h0M429.5 362.5h0M429.5 363.5h0M429.5 369.5h0M429.5 391.5h0M429.5 392.5h0M429.5 393.5h0M429.5 397.5h0M429.5 398.5h0M430.5 363.5h0M430.5 368.5h0M430.5 392.5h0M430.5 393.5h0M430.5 394.5h0M430.5 395.5h0M430.5 396.5h0M431.5 352.5h0M431.5 353.5h0M431.5 354.5h0M431.5 362.5h0M431.5 363.5h0M431.5 369.5h0M431.5 392.5h0M431.5 393.5h0M431.5 395.5h0M431.5 396.5h0M431.5 397.5h0M432.5 352.5h0M432.5 353.5h0M432.5 369.5h0M432.5 392.5h0M432.5 393.5h0M432.5 395.5h0M433.5 365.5h0M433.5 368.5h0M433.5 392.5h0M433.5 394.5h0M434.5 366.5h0M434.5 393.5h0M434.5 394.5h0M435.5 366.5h0M436.5 366.5h0M436.5 392.5h0M436.5 393.5h0M436.5 394.5h0M436.5 395.5h0M437.5 367.5h0M438.5 392.5h0M438.5 393.5h0M438.5 394.5h0M439.5 390.5h0M439.5 393.5h0M440.5 367.5h0M440.5 390.5h0M440.5 394.5h0M441.5 368.5h0M441.5 390.5h0M441.5 393.5h0M442.5 369.5h0M442.5 389.5h0M442.5 391.5h0M443.5 389.5h0M444.5 387.5h0M444.5 388.5h0M445.5 369.5h0M445.5 386.5h0M445.5 389.5h0M446.5 370.5h0M446.5 371.5h0M446.5 377.5h0M446.5 383.5h0M446.5 388.5h0M446.5 389.5h0M447.5 370.5h0M447.5 374.5h0M447.5 378.5h0M447.5 379.5h0" stroke="#a2b4ee" stroke-width="1" stroke-linecap="square"/>
<path d="M388.5 386.5h0M409.5 388.5h0M410.5 387.5h0M410.5 388.5h0M410.5 389.5h0M411.5 386.5h0M411.5 388.5h0M411.5 389.5h0M412.5 385.5h0M412.5 386.5h0M412.5 387.5h0M413.5 384.5h0M413.5 385.5h0M413.5 386.5h0M413.5 387.5h0M413.5 388.5h0M414.5 382.5h0M414.5 384.5h0M414.5 386.5h0M415.5 381.5h0M415.5 382.5h0M415.5 383.5h0M415.5 385.5h0M415.5 386.5h0M415.5 388.5h0M416.5 379.5h0M416.5 380.5h0M416.5 381.5h0M416.5 384.5h0M416.5 386.5h0M416.5 387.5h0M417.5 377.5h0M417.5 378.5h0M417.5 380.5h0M417.5 381.5h0M417.5 382.5h0M417.5 383.5h0M417.5 385.5h0M417.5 386.5h0M417.5 387.5h0M418.5 376.5h0M418.5 377.5h0M418.5 384.5h0M418.5 385.5h0M418.5 387.5h0M419.5 377.5h0M419.5 382.5h0M419.5 383.5h0M419.5 385.5h0M419.5 386.5h0M419.5 387.5h0M420.5 378.5h0M420.5 382.5h0M420.5 383.5h0M420.5 384.5h0M420.5 385.5h0M420.5 386.5h0M420.5 387.5h0M420.5 388.5h0M421.5 377.5h0M421.5 378.5h0M421.5 379.5h0M421.5 381.5h0M421.5 382.5h0M421.5 383.5h0M421.5 386.5h0M421.5 387.5h0M421.5 388.5h0M422.5 376.5h0M422.5 378.5h0M422.5 379.5h0M422.5 380.5h0M422.5 381.5h0M422.5 383.5h0M422.5 384.5h0M422.5 385.5h0M422.5 386.5h0M422.5 388.5h0M422.5 389.5h0M422.5 390.5h0M422.5 393.5h0M423.5 376.5h0M423.5 377.5h0M423.5 379.5h0M423.5 380.5h0M423.5 382.5h0M423.5 383.5h0M423.5 384.5h0M423.5 385.5h0M423.5 386.5h0M423.5 389.5h0M423.5 392.5h0M424.5 373.5h0M424.5 374.5h0M424.5 376.5h0M424.5 377.5h0M424.5 378.5h0M424.5 379.5h0M424.5 380.5h0M424.5 381.5h0M424.5 382.5h0M424.5 383.5h0M424.5 384.5h0M424.5 385.5h0M424.5 386.5h0M424.5 387.5h0M424.5 389.5h0M424.5 391.5h0M424.5 392.5h0M424.5 393.5h0M425.5 373.5h0M425.5 374.5h0M425.5 375.5h0M425.5 376.5h0M425.5 381.5h0M425.5 383.5h0M425.5 385.5h0M425.5 386.5h0M425.5 387.5h0M425.5 389.5h0M425.5 391.5h0M425.5 392.5h0M426.5 372.5h0M426.5 373.5h0M426.5 374.5h0M426.5 375.5h0M426.5 376.5h0M426.5 385.5h0M426.5 387.5h0M426.5 388.5h0M426.5 390.5h0M427.5 371.5h0M427.5 373.5h0M427.5 374.5h0M427.5 376.5h0M427.5 386.5h0M427.5 388.5h0M427.5 389.5h0M427.5 391.5h0M428.5 371.5h0M428.5 373.5h0M428.5 376.5h0M428.5 386.5h0M428.5 387.5h0M428.5 388.5h0M428.5 389.5h0M429.5 370.5h0M429.5 371.5h0M429.5 372.5h0M429.5 373.5h0M429.5 374.5h0M429.5 375.5h0M429.5 386.5h0M429.5 387.5h0M429.5 388.5h0M430.5 371.5h0M430.5 373.5h0M430.5 387.5h0M430.5 388.5h0M430.5 389.5h0M431.5 370.5h0M431.5 371.5h0M431.5 372.5h0M431.5 387.5h0M431.5 389.5h0M431.5 390.5h0M432.5 388.5h0M432.5 389.5h0M432.5 390.5h0M433.5 371.5h0M433.5 389.5h0M433.5 391.5h0M434.5 367.5h0M434.5 369.5h0M434.5 370.5h0M434.5 391.5h0M435.5 368.5h0M435.5 369.5h0M435.5 370.5h0M435.5 389.5h0M435.5 391.5h0M436.5 367.5h0M436.5 368.5h0M436.5 389.5h0M436.5 390.5h0M436.5 391.5h0M437.5 369.5h0M437.5 388.5h0M437.5 391.5h0M438.5 369.5h0M438.5 370.5h0M438.5 387.5h0M438.5 388.5h0M438.5 390.5h0M438.5 391.5h0M439.5 369.5h0M439.5 370.5h0M439.5 387.5h0M439.5 388.5h0M440.5 369.5h0M440.5 370.5h0M440.5 387.5h0M440.5 388.5h0M441.5 369.5h0M441.5 370.5h0M441.5 386.5h0M441.5 387.5h0M441.5 388.5h0M441.5 389.5h0M442.5 371.5h0M442.5 372.5h0M442.5 387.5h0M443.5 371.5h0M443.5 385.5h0M443.5 386.5h0M443.5 388.5h0M444.5 371.5h0M444.5 372.5h0M444.5 383.5h0M444.5 384.5h0M444.5 385.5h0M445.5 372.5h0M445.5 374.5h0M445.5 375.5h0M445.5 376.5h0M445.5 380.5h0M445.5 381.5h0M445.5 382.5h0M445.5 384.5h0M445.5 385.5h0M446.5 374.5h0M446.5 375.5h0" stroke="#7c9ae6" stroke-width="1" stroke-linecap="square"/>
<path d="M425.5 377.5h0M425.5 378.5h0M425.5 379.5h0M425.5 380.5h0M426.5 377.5h0M426.5 378.5h0M426.5 379.5h0M426.5 380.5h0M426.5 381.5h0M426.5 382.5h0M426.5 383.5h0M426.5 384.5h0M427.5 377.5h0M427.5 378.5h0M427.5 379.5h0M427.5 380.5h0M427.5 381.5h0M427.5 382.5h0M427.5 383.5h0M427.5 384.5h0M427.5 385.5h0M428.5 378.5h0M428.5 379.5h0M428.5 380.5h0M428.5 382.5h0M428.5 383.5h0M428.5 384.5h0M429.5 376.5h0M429.5 377.5h0M429.5 378.5h0M429.5 379.5h0M429.5 380.5h0M429.5 381.5h0M429.5 382.5h0M429.5 383.5h0M429.5 384.5h0M429.5 385.5h0M430.5 374.5h0M430.5 375.5h0M430.5 376.5h0M430.5 377.5h0M430.5 378.5h0M430.5 379.5h0M430.5 380.5h0M430.5 381.5h0M430.5 383.5h0M430.5 384.5h0M430.5 385.5h0M431.5 373.5h0M431.5 374.5h0M431.5 375.5h0M431.5 376.5h0M431.5 377.5h0M431.5 378.5h0M431.5 379.5h0M431.5 380.5h0M431.5 381.5h0M431.5 382.5h0M431.5 383.5h0M431.5 385.5h0M431.5 386.5h0M432.5 373.5h0M432.5 374.5h0M432.5 375.5h0M432.5 383.5h0M432.5 384.5h0M432.5 385.5h0M432.5 386.5h0M432.5 387.5h0M433.5 372.5h0M433.5 373.5h0M433.5 384.5h0M433.5 385.5h0M433.5 386.5h0M433.5 387.5h0M433.5 388.5h0M434.5 372.5h0M434.5 373.5h0M434.5 385.5h0M434.5 386.5h0M434.5 387.5h0M434.5 388.5h0M434.5 389.5h0M435.5 371.5h0M435.5 372.5h0M435.5 386.5h0M435.5 387.5h0M435.5 388.5h0M436.5 371.5h0M436.5 372.5h0M436.5 386.5h0M436.5 387.5h0M436.5 388.5h0M437.5 386.5h0M437.5 387.5h0M438.5 371.5h0M438.5 386.5h0M439.5 371.5h0M439.5 372.5h0M439.5 386.5h0M440.5 371.5h0M440.5 372.5h0M440.5 385.5h0M440.5 386.5h0M441.5 372.5h0M441.5 373.5h0M441.5 385.5h0M442.5 373.5h0M442.5 384.5h0M442.5 385.5h0M443.5 373.5h0M443.5 374.5h0M443.5 375.5h0M443.5 382.5h0M443.5 383.5h0M443.5 384.5h0M444.5 374.5h0M444.5 376.5h0M444.5 377.5h0M444.5 378.5h0M444.5 379.5h0M444.5 380.5h0M444.5 381.5h0" stroke="#5888de" stroke-width="1" stroke-linecap="square"/>
<path d="M432.5 376.5h0M432.5 377.5h0M432.5 378.5h0M432.5 379.5h0M432.5 380.5h0M432.5 381.5h0M432.5 382.5h0M433.5 374.5h0M433.5 375.5h0M433.5 376.5h0M433.5 382.5h0M433.5 383.5h0M434.5 374.5h0M434.5 375.5h0M434.5 383.5h0M434.5 384.5h0M435.5 373.5h0M435.5 374.5h0M435.5 384.5h0M435.5 385.5h0M436.5 373.5h0M436.5 384.5h0M436.5 385.5h0M437.5 372.5h0M437.5 373.5h0M437.5 385.5h0M438.5 372.5h0M438.5 385.5h0M439.5 373.5h0M439.5 384.5h0M440.5 373.5h0M440.5 374.5h0M440.5 384.5h0M441.5 374.5h0M441.5 383.5h0M441.5 384.5h0M442.5 374.5h0M442.5 375.5h0M442.5 376.5h0M442.5 381.5h0M442.5 382.5h0M442.5 383.5h0M443.5 376.5h0M443.5 377.5h0M443.5 378.5h0M443.5 379.5h0M443.5 380.5h0M443.5 381.5h0" stroke="#3a98d2" stroke-width="1" stroke-linecap="square"/>
<path d="M433.5 377.5h0M433.5 378.5h0M433.5 380.5h0M433.5 381.5h0M434.5 376.5h0M434.5 377.5h0M434.5 382.5h0M435.5 375.5h0M435.5 383.5h0M436.5 374.5h0M436.5 375.5h0M436.5 383.5h0M437.5 374.5h0M437.5 383.5h0M437.5 384.5h0M438.5 374.5h0M438.5 383.5h0M438.5 384.5h0M439.5 374.5h0M439.5 383.5h0M440.5 375.5h0M440.5 382.5h0M441.5 375.5h0M441.5 376.5h0M441.5 377.5h0M441.5 378.5h0M441.5 379.5h0M441.5 380.5h0M441.5 381.5h0M441.5 382.5h0M442.5 377.5h0M442.5 378.5h0M442.5 379.5h0M442.5 380.5h0" stroke="#32aca6" stroke-width="1" stroke-linecap="square"/>
<path d="M434.5 378.5h0M434.5 379.5h0M434.5 380.5h0M434.5 381.5h0M435.5 376.5h0M435.5 377.5h0M435.5 378.5h0M435.5 381.5h0M435.5 382.5h0M436.5 376.5h0M436.5 381.5h0M436.5 382.5h0M437.5 375.5h0M437.5 376.5h0M437.5 381.5h0M437.5 382.5h0M438.5 375.5h0M438.5 381.5h0M438.5 382.5h0M439.5 375.5h0M439.5 376.5h0M439.5 381.5h0M439.5 382.5h0M440.5 376.5h0M440.5 377.5h0M440.5 378.5h0M440.5 379.5h0M440.5 380.5h0M440.5 381.5h0" stroke="#56be62" stroke-width="1" stroke-linecap="square"/>
<path d="M435.5 379.5h0M435.5 380.5h0M436.5 377.5h0M436.5 378.5h0M436.5 379.5h0M436.5 380.5h0M437.5 377.5h0M437.5 378.5h0M437.5 379.5h0M437.5 380.5h0M438.5 376.5h0M438.5 377.5h0M438.5 378.5h0M438.5 379.5h0M438.5 380.5h0M439.5 377.5h0M439.5 378.5h0M439.5 379.5h0M439.5 380.5h0" stroke="#b4d034" stroke-width="1" stroke-linecap="square"/>
</g>
<path d="M405.7 323.1V400.2M373 368.7H452.3" stroke="#e89ce4" stroke-width="0.9" fill="none"/>
<rect x="373" y="323.1" width="79.3" height="77.1" fill="none" stroke="#858585" stroke-width="1.4"/>
<path d="M373.3 323.1V400.2M373 399.9H452.3" stroke="#8a8a8a" stroke-width="2" stroke-dasharray="2.5 1.5"/>
<text x="374.20" y="330.10" font-size="7.5" fill="#1a1a1a" text-anchor="start" style="font-weight:bold;" >3.9</text>
<text x="451.20" y="330.10" font-size="7.5" fill="#1a1a1a" text-anchor="end" style="font-weight:bold;" >3.2</text>
<text x="374.20" y="399.30" font-size="7.5" fill="#1a1a1a" text-anchor="start" style="font-weight:bold;" >7.1</text>
<text x="451.20" y="399.30" font-size="7.5" fill="#1a1a1a" text-anchor="end" style="font-weight:bold;" >85.8</text>
<text x="411.60" y="320.80" font-size="11.1" fill="#1a1a1a" text-anchor="middle" style="font-weight:bold;" >Corn oil</text>
<g filter="url(#bl03)">
<path d="M78.5 496.5h0M81.5 493.5h0M82.5 491.5h0M82.5 494.5h0M82.5 495.5h0M83.5 499.5h0M83.5 501.5h0M83.5 509.5h0M85.5 491.5h0M85.5 504.5h0M86.5 504.5h0M89.5 476.5h0M90.5 510.5h0M91.5 507.5h0M91.5 508.5h0M95.5 483.5h0M98.5 474.5h0M100.5 485.5h0M100.5 510.5h0M101.5 510.5h0M102.5 508.5h0M102.5 509.5h0M104.5 471.5h0M104.5 483.5h0M104.5 485.5h0M105.5 483.5h0M106.5 505.5h0M106.5 508.5h0M106.5 511.5h0M107.5 469.5h0M107.5 481.5h0M107.5 503.5h0M108.5 486.5h0M109.5 485.5h0M109.5 487.5h0M109.5 509.5h0M110.5 463.5h0M110.5 477.5h0M110.5 501.5h0M110.5 504.5h0M111.5 469.5h0M111.5 478.5h0M111.5 482.5h0M112.5 500.5h0M112.5 504.5h0M113.5 472.5h0M113.5 504.5h0M114.5 468.5h0M114.5 505.5h0M116.5 501.5h0M117.5 464.5h0M118.5 456.5h0M118.5 468.5h0M119.5 506.5h0M120.5 441.5h0M121.5 461.5h0M121.5 507.5h0M122.5 508.5h0M123.5 456.5h0M124.5 465.5h0M124.5 507.5h0M125.5 506.5h0M126.5 505.5h0M127.5 449.5h0M127.5 466.5h0M127.5 502.5h0M129.5 460.5h0M130.5 502.5h0M131.5 466.5h0M131.5 507.5h0M132.5 462.5h0M132.5 504.5h0M133.5 443.5h0M133.5 458.5h0M133.5 510.5h0M134.5 455.5h0M134.5 506.5h0M135.5 443.5h0M135.5 452.5h0M136.5 442.5h0M136.5 456.5h0M137.5 444.5h0M138.5 449.5h0M138.5 453.5h0M138.5 508.5h0M139.5 449.5h0M140.5 445.5h0M144.5 507.5h0M145.5 445.5h0M145.5 464.5h0M145.5 466.5h0M146.5 465.5h0M146.5 505.5h0M147.5 445.5h0M147.5 463.5h0M147.5 471.5h0M147.5 501.5h0M148.5 452.5h0M148.5 511.5h0M149.5 463.5h0M149.5 468.5h0M149.5 474.5h0M149.5 489.5h0M149.5 496.5h0M150.5 460.5h0M150.5 464.5h0M150.5 474.5h0M150.5 483.5h0M150.5 487.5h0M151.5 449.5h0M151.5 459.5h0M151.5 462.5h0M151.5 487.5h0M152.5 468.5h0M153.5 469.5h0M153.5 497.5h0M155.5 482.5h0" stroke="#c2cef4" stroke-width="1" stroke-linecap="square"/>
<path d="M84.5 500.5h0M85.5 493.5h0M85.5 498.5h0M85.5 500.5h0M86.5 492.5h0M86.5 495.5h0M86.5 497.5h0M86.5 498.5h0M87.5 491.5h0M87.5 496.5h0M87.5 500.5h0M87.5 501.5h0M88.5 488.5h0M88.5 491.5h0M88.5 492.5h0M89.5 487.5h0M91.5 505.5h0M93.5 487.5h0M95.5 486.5h0M95.5 506.5h0M97.5 487.5h0M98.5 486.5h0M98.5 487.5h0M98.5 507.5h0M99.5 505.5h0M99.5 506.5h0M100.5 487.5h0M101.5 506.5h0M102.5 505.5h0M103.5 488.5h0M103.5 504.5h0M103.5 505.5h0M104.5 488.5h0M105.5 489.5h0M105.5 502.5h0M105.5 504.5h0M106.5 501.5h0M107.5 489.5h0M107.5 499.5h0M107.5 500.5h0M108.5 493.5h0M108.5 500.5h0M109.5 494.5h0M109.5 495.5h0M109.5 497.5h0M110.5 489.5h0M110.5 494.5h0M110.5 498.5h0M111.5 477.5h0M111.5 490.5h0M111.5 491.5h0M111.5 498.5h0M112.5 476.5h0M112.5 485.5h0M112.5 493.5h0M112.5 494.5h0M112.5 495.5h0M112.5 498.5h0M113.5 475.5h0M113.5 487.5h0M113.5 493.5h0M113.5 496.5h0M114.5 472.5h0M114.5 473.5h0M114.5 484.5h0M114.5 485.5h0M114.5 489.5h0M114.5 490.5h0M114.5 495.5h0M115.5 476.5h0M115.5 477.5h0M115.5 480.5h0M115.5 481.5h0M115.5 484.5h0M115.5 489.5h0M115.5 497.5h0M116.5 479.5h0M116.5 497.5h0M117.5 497.5h0M117.5 498.5h0M118.5 471.5h0M120.5 469.5h0M120.5 505.5h0M121.5 465.5h0M121.5 466.5h0M121.5 469.5h0M121.5 500.5h0M121.5 503.5h0M122.5 468.5h0M122.5 502.5h0M122.5 503.5h0M122.5 505.5h0M123.5 467.5h0M123.5 502.5h0M123.5 504.5h0M124.5 467.5h0M125.5 467.5h0M125.5 501.5h0M126.5 500.5h0M127.5 499.5h0M128.5 497.5h0M129.5 495.5h0M130.5 496.5h0M131.5 469.5h0M132.5 469.5h0M132.5 496.5h0M132.5 498.5h0M132.5 500.5h0M132.5 501.5h0M134.5 464.5h0M134.5 469.5h0M134.5 498.5h0M134.5 500.5h0M135.5 463.5h0M135.5 464.5h0M135.5 467.5h0M135.5 502.5h0M136.5 460.5h0M136.5 466.5h0M136.5 467.5h0M136.5 502.5h0M137.5 456.5h0M137.5 461.5h0M137.5 462.5h0M137.5 504.5h0M138.5 458.5h0M138.5 462.5h0M138.5 464.5h0M138.5 467.5h0M138.5 503.5h0M138.5 505.5h0M139.5 454.5h0M139.5 455.5h0M139.5 457.5h0M139.5 461.5h0M139.5 462.5h0M139.5 463.5h0M139.5 466.5h0M139.5 469.5h0M139.5 504.5h0M139.5 505.5h0M140.5 452.5h0M140.5 457.5h0M140.5 458.5h0M140.5 467.5h0M140.5 505.5h0M141.5 452.5h0M141.5 458.5h0M141.5 459.5h0M141.5 462.5h0M141.5 463.5h0M141.5 464.5h0M141.5 466.5h0M141.5 469.5h0M141.5 501.5h0M141.5 503.5h0M141.5 504.5h0M142.5 449.5h0M142.5 450.5h0M142.5 453.5h0M142.5 459.5h0M142.5 466.5h0M142.5 469.5h0M143.5 451.5h0M143.5 454.5h0M143.5 459.5h0M143.5 461.5h0M143.5 466.5h0M143.5 499.5h0M143.5 500.5h0M144.5 450.5h0M144.5 455.5h0M144.5 456.5h0M144.5 459.5h0M144.5 470.5h0M144.5 471.5h0M144.5 498.5h0M144.5 502.5h0M144.5 503.5h0M145.5 456.5h0M145.5 458.5h0M145.5 473.5h0M145.5 483.5h0M145.5 498.5h0M145.5 503.5h0M146.5 457.5h0M146.5 469.5h0M146.5 474.5h0M146.5 475.5h0M146.5 476.5h0M146.5 485.5h0M146.5 493.5h0M146.5 494.5h0M147.5 479.5h0M147.5 480.5h0M147.5 481.5h0M147.5 486.5h0M147.5 492.5h0M147.5 495.5h0M148.5 487.5h0M148.5 491.5h0M148.5 492.5h0M149.5 482.5h0" stroke="#a2b4ee" stroke-width="1" stroke-linecap="square"/>
<path d="M87.5 499.5h0M88.5 496.5h0M88.5 498.5h0M88.5 500.5h0M89.5 491.5h0M89.5 496.5h0M89.5 500.5h0M90.5 488.5h0M90.5 489.5h0M90.5 490.5h0M90.5 491.5h0M90.5 492.5h0M90.5 493.5h0M90.5 501.5h0M91.5 487.5h0M91.5 490.5h0M91.5 492.5h0M91.5 493.5h0M92.5 488.5h0M92.5 489.5h0M92.5 490.5h0M92.5 492.5h0M92.5 503.5h0M93.5 489.5h0M93.5 491.5h0M93.5 503.5h0M94.5 490.5h0M94.5 504.5h0M95.5 504.5h0M96.5 504.5h0M96.5 505.5h0M97.5 489.5h0M97.5 504.5h0M98.5 488.5h0M98.5 505.5h0M99.5 489.5h0M99.5 503.5h0M100.5 489.5h0M100.5 503.5h0M101.5 503.5h0M101.5 504.5h0M102.5 489.5h0M102.5 490.5h0M103.5 490.5h0M104.5 500.5h0M105.5 491.5h0M105.5 492.5h0M105.5 498.5h0M105.5 499.5h0M106.5 490.5h0M106.5 491.5h0M106.5 492.5h0M106.5 493.5h0M106.5 495.5h0M106.5 496.5h0M106.5 497.5h0M107.5 494.5h0M107.5 495.5h0M107.5 496.5h0M107.5 498.5h0M108.5 496.5h0M115.5 485.5h0M115.5 487.5h0M115.5 488.5h0M116.5 473.5h0M116.5 474.5h0M116.5 475.5h0M116.5 476.5h0M116.5 486.5h0M116.5 487.5h0M116.5 491.5h0M116.5 493.5h0M116.5 494.5h0M116.5 495.5h0M117.5 472.5h0M117.5 473.5h0M117.5 475.5h0M117.5 476.5h0M117.5 477.5h0M117.5 479.5h0M117.5 480.5h0M117.5 482.5h0M117.5 484.5h0M117.5 485.5h0M117.5 486.5h0M117.5 487.5h0M117.5 490.5h0M117.5 491.5h0M117.5 492.5h0M117.5 493.5h0M117.5 494.5h0M117.5 495.5h0M118.5 473.5h0M118.5 478.5h0M118.5 479.5h0M118.5 480.5h0M118.5 481.5h0M118.5 482.5h0M118.5 483.5h0M118.5 485.5h0M118.5 486.5h0M118.5 487.5h0M119.5 471.5h0M119.5 472.5h0M119.5 495.5h0M119.5 496.5h0M120.5 497.5h0M121.5 497.5h0M121.5 498.5h0M122.5 469.5h0M122.5 470.5h0M122.5 471.5h0M122.5 497.5h0M122.5 498.5h0M122.5 501.5h0M123.5 470.5h0M123.5 497.5h0M123.5 498.5h0M123.5 499.5h0M123.5 500.5h0M124.5 469.5h0M124.5 501.5h0M125.5 469.5h0M125.5 470.5h0M125.5 497.5h0M125.5 499.5h0M125.5 500.5h0M126.5 469.5h0M126.5 495.5h0M126.5 496.5h0M126.5 497.5h0M126.5 498.5h0M126.5 499.5h0M127.5 495.5h0M128.5 469.5h0M128.5 493.5h0M128.5 494.5h0M129.5 469.5h0M129.5 470.5h0M129.5 471.5h0M129.5 489.5h0M129.5 490.5h0M130.5 470.5h0M130.5 471.5h0M130.5 483.5h0M130.5 484.5h0M130.5 485.5h0M130.5 486.5h0M130.5 489.5h0M130.5 490.5h0M130.5 492.5h0M130.5 493.5h0M130.5 494.5h0M131.5 472.5h0M131.5 475.5h0M131.5 481.5h0M131.5 486.5h0M131.5 487.5h0M131.5 492.5h0M131.5 493.5h0M131.5 494.5h0M132.5 471.5h0M132.5 472.5h0M132.5 474.5h0M132.5 476.5h0M132.5 477.5h0M132.5 480.5h0M132.5 483.5h0M132.5 484.5h0M132.5 487.5h0M132.5 488.5h0M132.5 490.5h0M132.5 491.5h0M132.5 494.5h0M132.5 495.5h0M133.5 472.5h0M133.5 473.5h0M133.5 474.5h0M133.5 475.5h0M133.5 476.5h0M133.5 478.5h0M133.5 479.5h0M133.5 483.5h0M133.5 486.5h0M133.5 488.5h0M133.5 489.5h0M133.5 491.5h0M133.5 495.5h0M133.5 497.5h0M134.5 470.5h0M134.5 471.5h0M134.5 474.5h0M134.5 476.5h0M134.5 477.5h0M134.5 478.5h0M134.5 480.5h0M134.5 481.5h0M134.5 482.5h0M134.5 486.5h0M134.5 488.5h0M134.5 489.5h0M134.5 490.5h0M134.5 491.5h0M134.5 493.5h0M134.5 495.5h0M134.5 496.5h0M135.5 471.5h0M135.5 472.5h0M135.5 473.5h0M135.5 475.5h0M135.5 477.5h0M135.5 478.5h0M135.5 479.5h0M135.5 480.5h0M135.5 481.5h0M135.5 483.5h0M135.5 485.5h0M135.5 489.5h0M135.5 490.5h0M135.5 492.5h0M135.5 493.5h0M135.5 494.5h0M135.5 495.5h0M135.5 496.5h0M135.5 498.5h0M136.5 470.5h0M136.5 471.5h0M136.5 472.5h0M136.5 473.5h0M136.5 474.5h0M136.5 475.5h0M136.5 476.5h0M136.5 478.5h0M136.5 480.5h0M136.5 481.5h0M136.5 483.5h0M136.5 484.5h0M136.5 485.5h0M136.5 491.5h0M136.5 493.5h0M136.5 496.5h0M136.5 497.5h0M136.5 498.5h0M136.5 499.5h0M137.5 468.5h0M137.5 469.5h0M137.5 470.5h0M137.5 471.5h0M137.5 474.5h0M137.5 475.5h0M137.5 477.5h0M137.5 478.5h0M137.5 482.5h0M137.5 483.5h0M137.5 498.5h0M137.5 500.5h0M138.5 471.5h0M138.5 472.5h0M138.5 474.5h0M138.5 475.5h0M138.5 482.5h0M138.5 497.5h0M138.5 500.5h0M138.5 501.5h0M138.5 502.5h0M139.5 468.5h0M139.5 474.5h0M139.5 475.5h0M139.5 476.5h0M139.5 498.5h0M139.5 501.5h0M140.5 474.5h0M140.5 476.5h0M140.5 498.5h0M140.5 499.5h0M140.5 501.5h0M140.5 502.5h0M141.5 470.5h0M141.5 471.5h0M141.5 473.5h0M141.5 475.5h0M141.5 479.5h0M141.5 481.5h0M141.5 498.5h0M141.5 499.5h0M142.5 474.5h0M142.5 475.5h0M142.5 476.5h0M142.5 478.5h0M142.5 485.5h0M142.5 486.5h0M142.5 487.5h0M142.5 488.5h0M143.5 471.5h0M143.5 472.5h0M143.5 473.5h0M143.5 476.5h0M143.5 477.5h0M143.5 478.5h0M143.5 480.5h0M143.5 482.5h0M143.5 483.5h0M143.5 485.5h0M143.5 486.5h0M143.5 489.5h0M143.5 496.5h0M143.5 497.5h0M144.5 473.5h0M144.5 475.5h0M144.5 476.5h0M144.5 478.5h0M144.5 479.5h0M144.5 484.5h0M144.5 486.5h0M144.5 487.5h0M144.5 490.5h0M144.5 491.5h0M144.5 492.5h0M144.5 494.5h0M144.5 495.5h0M144.5 497.5h0M145.5 474.5h0M145.5 477.5h0M145.5 478.5h0M145.5 480.5h0M145.5 482.5h0M145.5 485.5h0M145.5 487.5h0M145.5 490.5h0M145.5 491.5h0M146.5 478.5h0M146.5 480.5h0M146.5 481.5h0" stroke="#7c9ae6" stroke-width="1" stroke-linecap="square"/>
<path d="M89.5 498.5h0M89.5 499.5h0M90.5 496.5h0M90.5 499.5h0M90.5 500.5h0M91.5 494.5h0M91.5 500.5h0M92.5 493.5h0M92.5 501.5h0M92.5 502.5h0M93.5 502.5h0M94.5 491.5h0M94.5 503.5h0M95.5 490.5h0M95.5 503.5h0M96.5 490.5h0M96.5 503.5h0M97.5 490.5h0M97.5 503.5h0M98.5 490.5h0M98.5 503.5h0M99.5 491.5h0M99.5 502.5h0M100.5 490.5h0M100.5 491.5h0M101.5 491.5h0M101.5 501.5h0M102.5 491.5h0M102.5 500.5h0M102.5 501.5h0M103.5 491.5h0M103.5 492.5h0M103.5 493.5h0M103.5 499.5h0M103.5 500.5h0M104.5 492.5h0M104.5 493.5h0M104.5 494.5h0M104.5 495.5h0M104.5 496.5h0M104.5 498.5h0M104.5 499.5h0M105.5 495.5h0M118.5 476.5h0M118.5 489.5h0M118.5 490.5h0M118.5 491.5h0M118.5 492.5h0M118.5 493.5h0M119.5 474.5h0M119.5 475.5h0M119.5 476.5h0M119.5 477.5h0M119.5 478.5h0M119.5 479.5h0M119.5 480.5h0M119.5 481.5h0M119.5 482.5h0M119.5 483.5h0M119.5 484.5h0M119.5 485.5h0M119.5 486.5h0M119.5 487.5h0M119.5 488.5h0M119.5 490.5h0M119.5 491.5h0M119.5 492.5h0M119.5 493.5h0M119.5 494.5h0M120.5 472.5h0M120.5 473.5h0M120.5 479.5h0M120.5 480.5h0M120.5 484.5h0M120.5 486.5h0M120.5 487.5h0M120.5 494.5h0M120.5 495.5h0M121.5 472.5h0M121.5 473.5h0M121.5 485.5h0M121.5 486.5h0M121.5 487.5h0M121.5 495.5h0M121.5 496.5h0M122.5 472.5h0M123.5 472.5h0M123.5 495.5h0M124.5 472.5h0M124.5 495.5h0M124.5 496.5h0M125.5 471.5h0M125.5 472.5h0M125.5 495.5h0M126.5 471.5h0M126.5 472.5h0M126.5 494.5h0M127.5 471.5h0M127.5 472.5h0M127.5 484.5h0M127.5 486.5h0M127.5 487.5h0M127.5 488.5h0M127.5 490.5h0M127.5 491.5h0M128.5 472.5h0M128.5 473.5h0M128.5 483.5h0M128.5 484.5h0M128.5 485.5h0M128.5 486.5h0M128.5 487.5h0M128.5 488.5h0M128.5 489.5h0M129.5 472.5h0M129.5 474.5h0M129.5 482.5h0M129.5 484.5h0M129.5 485.5h0M129.5 487.5h0M129.5 488.5h0M130.5 475.5h0M130.5 476.5h0M131.5 478.5h0M131.5 479.5h0M131.5 480.5h0M132.5 479.5h0M133.5 487.5h0M134.5 487.5h0M135.5 486.5h0M135.5 487.5h0M136.5 486.5h0M136.5 487.5h0M136.5 488.5h0M136.5 489.5h0M136.5 490.5h0M137.5 479.5h0M137.5 480.5h0M137.5 486.5h0M137.5 487.5h0M137.5 488.5h0M137.5 489.5h0M137.5 491.5h0M137.5 493.5h0M137.5 494.5h0M137.5 495.5h0M137.5 496.5h0M138.5 478.5h0M138.5 479.5h0M138.5 480.5h0M138.5 484.5h0M138.5 485.5h0M138.5 486.5h0M138.5 487.5h0M138.5 488.5h0M138.5 490.5h0M138.5 491.5h0M138.5 492.5h0M138.5 493.5h0M138.5 494.5h0M138.5 495.5h0M138.5 496.5h0M139.5 478.5h0M139.5 480.5h0M139.5 481.5h0M139.5 482.5h0M139.5 483.5h0M139.5 484.5h0M139.5 485.5h0M139.5 486.5h0M139.5 488.5h0M139.5 489.5h0M139.5 490.5h0M139.5 491.5h0M139.5 492.5h0M139.5 493.5h0M139.5 494.5h0M139.5 495.5h0M139.5 496.5h0M140.5 477.5h0M140.5 478.5h0M140.5 479.5h0M140.5 480.5h0M140.5 481.5h0M140.5 482.5h0M140.5 483.5h0M140.5 484.5h0M140.5 485.5h0M140.5 486.5h0M140.5 488.5h0M140.5 489.5h0M140.5 490.5h0M140.5 491.5h0M140.5 493.5h0M140.5 494.5h0M140.5 495.5h0M140.5 496.5h0M140.5 497.5h0M141.5 477.5h0M141.5 478.5h0M141.5 482.5h0M141.5 483.5h0M141.5 484.5h0M141.5 486.5h0M141.5 487.5h0M141.5 489.5h0M141.5 490.5h0M141.5 491.5h0M141.5 492.5h0M141.5 494.5h0M141.5 495.5h0M141.5 496.5h0M142.5 477.5h0M142.5 489.5h0M142.5 490.5h0M142.5 491.5h0M142.5 492.5h0M142.5 493.5h0M142.5 494.5h0M142.5 495.5h0M142.5 496.5h0M143.5 490.5h0M143.5 491.5h0M143.5 492.5h0M143.5 493.5h0M143.5 494.5h0M143.5 495.5h0" stroke="#5888de" stroke-width="1" stroke-linecap="square"/>
<path d="M90.5 497.5h0M91.5 495.5h0M91.5 496.5h0M91.5 498.5h0M91.5 499.5h0M92.5 494.5h0M92.5 495.5h0M93.5 494.5h0M93.5 500.5h0M93.5 501.5h0M94.5 493.5h0M94.5 501.5h0M94.5 502.5h0M95.5 491.5h0M95.5 502.5h0M96.5 491.5h0M96.5 501.5h0M96.5 502.5h0M97.5 491.5h0M97.5 501.5h0M97.5 502.5h0M98.5 491.5h0M98.5 501.5h0M99.5 492.5h0M99.5 501.5h0M100.5 492.5h0M100.5 500.5h0M100.5 501.5h0M101.5 492.5h0M101.5 493.5h0M101.5 499.5h0M101.5 500.5h0M102.5 492.5h0M102.5 493.5h0M102.5 494.5h0M102.5 495.5h0M102.5 496.5h0M102.5 497.5h0M102.5 498.5h0M102.5 499.5h0M103.5 494.5h0M103.5 495.5h0M103.5 496.5h0M103.5 497.5h0M103.5 498.5h0M120.5 474.5h0M120.5 475.5h0M120.5 476.5h0M120.5 477.5h0M120.5 478.5h0M120.5 481.5h0M120.5 482.5h0M120.5 489.5h0M120.5 490.5h0M120.5 491.5h0M120.5 492.5h0M120.5 493.5h0M121.5 474.5h0M121.5 475.5h0M121.5 476.5h0M121.5 477.5h0M121.5 478.5h0M121.5 479.5h0M121.5 481.5h0M121.5 482.5h0M121.5 483.5h0M121.5 484.5h0M121.5 488.5h0M121.5 489.5h0M121.5 490.5h0M121.5 491.5h0M121.5 493.5h0M121.5 494.5h0M122.5 473.5h0M122.5 474.5h0M122.5 481.5h0M122.5 482.5h0M122.5 483.5h0M122.5 484.5h0M122.5 485.5h0M122.5 486.5h0M122.5 487.5h0M122.5 488.5h0M122.5 489.5h0M122.5 492.5h0M122.5 493.5h0M122.5 494.5h0M122.5 495.5h0M123.5 473.5h0M123.5 474.5h0M123.5 482.5h0M123.5 484.5h0M123.5 485.5h0M123.5 486.5h0M123.5 487.5h0M123.5 493.5h0M123.5 494.5h0M124.5 473.5h0M124.5 482.5h0M124.5 483.5h0M124.5 484.5h0M124.5 485.5h0M124.5 486.5h0M124.5 487.5h0M124.5 488.5h0M124.5 493.5h0M124.5 494.5h0M125.5 473.5h0M125.5 482.5h0M125.5 483.5h0M125.5 484.5h0M125.5 485.5h0M125.5 486.5h0M125.5 487.5h0M125.5 488.5h0M125.5 491.5h0M125.5 492.5h0M125.5 493.5h0M126.5 473.5h0M126.5 482.5h0M126.5 484.5h0M126.5 486.5h0M126.5 487.5h0M126.5 488.5h0M126.5 490.5h0M126.5 491.5h0M127.5 482.5h0M127.5 483.5h0M128.5 475.5h0M128.5 481.5h0M128.5 482.5h0M129.5 475.5h0M129.5 476.5h0M129.5 480.5h0M129.5 481.5h0M130.5 477.5h0M130.5 478.5h0M130.5 479.5h0M130.5 480.5h0" stroke="#3a98d2" stroke-width="1" stroke-linecap="square"/>
<path d="M91.5 497.5h0M92.5 496.5h0M92.5 497.5h0M92.5 498.5h0M92.5 499.5h0M93.5 495.5h0M93.5 499.5h0M94.5 494.5h0M94.5 499.5h0M94.5 500.5h0M95.5 492.5h0M95.5 493.5h0M95.5 500.5h0M95.5 501.5h0M96.5 492.5h0M96.5 499.5h0M96.5 500.5h0M97.5 492.5h0M97.5 499.5h0M97.5 500.5h0M98.5 493.5h0M98.5 499.5h0M98.5 500.5h0M99.5 493.5h0M99.5 494.5h0M99.5 498.5h0M99.5 499.5h0M99.5 500.5h0M100.5 493.5h0M100.5 494.5h0M100.5 495.5h0M100.5 496.5h0M100.5 497.5h0M100.5 498.5h0M100.5 499.5h0M101.5 494.5h0M101.5 495.5h0M101.5 496.5h0M101.5 497.5h0M101.5 498.5h0M122.5 476.5h0M122.5 477.5h0M122.5 478.5h0M122.5 479.5h0M122.5 480.5h0M122.5 491.5h0M123.5 475.5h0M123.5 480.5h0M123.5 481.5h0M123.5 489.5h0M123.5 490.5h0M123.5 492.5h0M124.5 474.5h0M124.5 475.5h0M124.5 481.5h0M124.5 489.5h0M124.5 490.5h0M124.5 491.5h0M124.5 492.5h0M125.5 474.5h0M125.5 481.5h0M125.5 489.5h0M125.5 490.5h0M126.5 474.5h0M126.5 475.5h0M127.5 475.5h0M127.5 480.5h0M127.5 481.5h0M128.5 476.5h0M128.5 479.5h0M128.5 480.5h0M129.5 477.5h0M129.5 478.5h0M129.5 479.5h0" stroke="#32aca6" stroke-width="1" stroke-linecap="square"/>
<path d="M93.5 496.5h0M93.5 497.5h0M93.5 498.5h0M94.5 495.5h0M94.5 496.5h0M94.5 497.5h0M94.5 498.5h0M95.5 494.5h0M95.5 495.5h0M95.5 496.5h0M95.5 497.5h0M95.5 498.5h0M95.5 499.5h0M96.5 493.5h0M96.5 494.5h0M96.5 495.5h0M96.5 496.5h0M96.5 497.5h0M96.5 498.5h0M97.5 493.5h0M97.5 494.5h0M97.5 495.5h0M97.5 496.5h0M97.5 497.5h0M97.5 498.5h0M98.5 494.5h0M98.5 495.5h0M98.5 496.5h0M98.5 497.5h0M98.5 498.5h0M99.5 495.5h0M99.5 496.5h0M99.5 497.5h0M123.5 476.5h0M123.5 477.5h0M123.5 478.5h0M123.5 479.5h0M124.5 476.5h0M124.5 480.5h0M125.5 475.5h0M125.5 476.5h0M125.5 480.5h0M126.5 476.5h0M126.5 479.5h0M126.5 480.5h0M127.5 476.5h0M127.5 477.5h0M127.5 478.5h0M127.5 479.5h0M128.5 477.5h0M128.5 478.5h0" stroke="#56be62" stroke-width="1" stroke-linecap="square"/>
<path d="M124.5 477.5h0M124.5 478.5h0M124.5 479.5h0M125.5 477.5h0M125.5 478.5h0M125.5 479.5h0M126.5 477.5h0M126.5 478.5h0" stroke="#b4d034" stroke-width="1" stroke-linecap="square"/>
</g>
<path d="M109.7 435.6V512.4M76.9 481.2H155.8" stroke="#e89ce4" stroke-width="0.9" fill="none"/>
<rect x="76.9" y="435.6" width="78.9" height="76.8" fill="none" stroke="#858585" stroke-width="1.4"/>
<path d="M77.2 435.6V512.4M76.9 512.1H155.8" stroke="#8a8a8a" stroke-width="2" stroke-dasharray="2.5 1.5"/>
<text x="78.10" y="442.60" font-size="7.5" fill="#1a1a1a" text-anchor="start" style="font-weight:bold;" >0.3</text>
<text x="154.70" y="442.60" font-size="7.5" fill="#1a1a1a" text-anchor="end" style="font-weight:bold;" >27.5</text>
<text x="78.10" y="511.50" font-size="7.5" fill="#1a1a1a" text-anchor="start" style="font-weight:bold;" >32.3</text>
<text x="154.70" y="511.50" font-size="7.5" fill="#1a1a1a" text-anchor="end" style="font-weight:bold;" >39.9</text>
<text x="113.50" y="433.30" font-size="10.8" fill="#1a1a1a" text-anchor="middle" style="font-weight:bold;" >Tamoxifen</text>
<g filter="url(#bl03)">
<path d="M179.5 503.5h0M180.5 490.5h0M180.5 499.5h0M182.5 473.5h0M183.5 465.5h0M184.5 489.5h0M186.5 466.5h0M186.5 470.5h0M188.5 454.5h0M188.5 461.5h0M190.5 459.5h0M191.5 464.5h0M191.5 509.5h0M194.5 456.5h0M194.5 459.5h0M195.5 511.5h0M196.5 455.5h0M198.5 511.5h0M200.5 508.5h0M202.5 481.5h0M203.5 454.5h0M204.5 482.5h0M205.5 484.5h0M206.5 486.5h0M206.5 504.5h0M208.5 512.5h0M209.5 476.5h0M209.5 484.5h0M209.5 511.5h0M210.5 471.5h0M210.5 480.5h0M211.5 509.5h0M211.5 511.5h0M212.5 473.5h0M214.5 459.5h0M214.5 478.5h0M215.5 478.5h0M215.5 509.5h0M216.5 510.5h0M218.5 476.5h0M219.5 511.5h0M220.5 465.5h0M221.5 462.5h0M221.5 474.5h0M224.5 510.5h0M225.5 470.5h0M225.5 474.5h0M225.5 512.5h0M226.5 470.5h0M226.5 474.5h0M227.5 469.5h0M227.5 479.5h0M228.5 478.5h0M229.5 511.5h0M231.5 477.5h0M231.5 509.5h0M232.5 475.5h0M232.5 476.5h0M232.5 507.5h0M234.5 472.5h0M234.5 481.5h0M234.5 509.5h0M235.5 476.5h0M235.5 480.5h0M238.5 477.5h0M238.5 478.5h0M239.5 461.5h0M239.5 510.5h0M240.5 480.5h0M242.5 472.5h0M243.5 459.5h0M243.5 471.5h0M243.5 474.5h0M243.5 477.5h0M245.5 471.5h0M245.5 505.5h0M247.5 483.5h0M247.5 488.5h0M247.5 490.5h0M247.5 499.5h0M248.5 479.5h0M249.5 476.5h0M250.5 471.5h0M250.5 473.5h0M252.5 489.5h0M252.5 497.5h0" stroke="#c2cef4" stroke-width="1" stroke-linecap="square"/>
<path d="M184.5 477.5h0M184.5 496.5h0M184.5 499.5h0M185.5 477.5h0M185.5 480.5h0M185.5 481.5h0M185.5 499.5h0M185.5 503.5h0M186.5 474.5h0M186.5 476.5h0M186.5 478.5h0M186.5 483.5h0M186.5 486.5h0M186.5 504.5h0M186.5 505.5h0M187.5 468.5h0M187.5 469.5h0M187.5 475.5h0M187.5 478.5h0M187.5 483.5h0M187.5 505.5h0M188.5 468.5h0M188.5 478.5h0M188.5 482.5h0M188.5 485.5h0M188.5 506.5h0M189.5 468.5h0M189.5 469.5h0M189.5 473.5h0M189.5 481.5h0M189.5 484.5h0M189.5 508.5h0M190.5 469.5h0M190.5 473.5h0M190.5 474.5h0M190.5 506.5h0M191.5 466.5h0M191.5 468.5h0M191.5 473.5h0M192.5 466.5h0M192.5 469.5h0M193.5 465.5h0M193.5 477.5h0M194.5 462.5h0M194.5 466.5h0M194.5 476.5h0M195.5 464.5h0M195.5 466.5h0M195.5 509.5h0M195.5 510.5h0M196.5 460.5h0M196.5 463.5h0M196.5 467.5h0M196.5 469.5h0M197.5 459.5h0M197.5 463.5h0M198.5 460.5h0M198.5 462.5h0M198.5 508.5h0M199.5 464.5h0M199.5 482.5h0M200.5 462.5h0M200.5 466.5h0M200.5 467.5h0M200.5 483.5h0M201.5 463.5h0M201.5 469.5h0M201.5 478.5h0M201.5 486.5h0M201.5 487.5h0M202.5 469.5h0M202.5 471.5h0M202.5 472.5h0M202.5 474.5h0M202.5 477.5h0M202.5 478.5h0M202.5 484.5h0M202.5 486.5h0M203.5 468.5h0M203.5 469.5h0M203.5 473.5h0M203.5 476.5h0M203.5 503.5h0M203.5 505.5h0M204.5 474.5h0M204.5 475.5h0M204.5 495.5h0M204.5 498.5h0M204.5 500.5h0M204.5 508.5h0M204.5 509.5h0M205.5 478.5h0M205.5 493.5h0M205.5 497.5h0M205.5 498.5h0M205.5 501.5h0M205.5 505.5h0M206.5 477.5h0M206.5 479.5h0M206.5 481.5h0M206.5 490.5h0M206.5 494.5h0M206.5 508.5h0M207.5 479.5h0M207.5 491.5h0M207.5 498.5h0M208.5 480.5h0M208.5 486.5h0M208.5 493.5h0M208.5 508.5h0M209.5 481.5h0M209.5 486.5h0M209.5 488.5h0M209.5 491.5h0M209.5 500.5h0M209.5 501.5h0M209.5 505.5h0M209.5 507.5h0M210.5 489.5h0M210.5 503.5h0M210.5 505.5h0M211.5 487.5h0M211.5 505.5h0M213.5 483.5h0M213.5 485.5h0M213.5 505.5h0M214.5 481.5h0M214.5 483.5h0M214.5 485.5h0M214.5 505.5h0M215.5 482.5h0M215.5 505.5h0M216.5 481.5h0M216.5 482.5h0M216.5 506.5h0M216.5 507.5h0M217.5 484.5h0M219.5 479.5h0M219.5 480.5h0M219.5 484.5h0M220.5 478.5h0M220.5 482.5h0M220.5 484.5h0M221.5 479.5h0M221.5 480.5h0M221.5 481.5h0M221.5 482.5h0M221.5 508.5h0M222.5 478.5h0M223.5 478.5h0M223.5 480.5h0M223.5 481.5h0M223.5 482.5h0M224.5 478.5h0M224.5 480.5h0M224.5 484.5h0M224.5 506.5h0M225.5 484.5h0M225.5 508.5h0M226.5 482.5h0M226.5 506.5h0M227.5 484.5h0M227.5 507.5h0M227.5 508.5h0M228.5 485.5h0M228.5 505.5h0M230.5 481.5h0M230.5 482.5h0M231.5 479.5h0M231.5 480.5h0M231.5 486.5h0M231.5 504.5h0M232.5 485.5h0M233.5 485.5h0M233.5 506.5h0M236.5 483.5h0M236.5 485.5h0M236.5 506.5h0M237.5 484.5h0M238.5 507.5h0M239.5 485.5h0M239.5 506.5h0M240.5 482.5h0M240.5 484.5h0M240.5 508.5h0M241.5 482.5h0M241.5 507.5h0M241.5 508.5h0M242.5 485.5h0M242.5 505.5h0M243.5 473.5h0M243.5 487.5h0M243.5 508.5h0M244.5 486.5h0M244.5 487.5h0M244.5 488.5h0M245.5 491.5h0M246.5 494.5h0M246.5 497.5h0" stroke="#a2b4ee" stroke-width="1" stroke-linecap="square"/>
<path d="M186.5 489.5h0M186.5 490.5h0M186.5 494.5h0M186.5 499.5h0M186.5 500.5h0M187.5 488.5h0M187.5 489.5h0M187.5 490.5h0M187.5 491.5h0M187.5 494.5h0M187.5 495.5h0M187.5 496.5h0M187.5 498.5h0M187.5 499.5h0M188.5 476.5h0M188.5 487.5h0M188.5 492.5h0M188.5 500.5h0M189.5 476.5h0M189.5 487.5h0M189.5 501.5h0M189.5 502.5h0M189.5 503.5h0M189.5 505.5h0M190.5 475.5h0M190.5 476.5h0M190.5 477.5h0M190.5 482.5h0M190.5 485.5h0M190.5 503.5h0M190.5 504.5h0M191.5 476.5h0M191.5 477.5h0M191.5 478.5h0M191.5 482.5h0M191.5 483.5h0M191.5 485.5h0M191.5 486.5h0M191.5 504.5h0M192.5 479.5h0M192.5 481.5h0M192.5 482.5h0M192.5 483.5h0M192.5 484.5h0M192.5 485.5h0M192.5 506.5h0M193.5 470.5h0M193.5 471.5h0M193.5 473.5h0M193.5 480.5h0M193.5 481.5h0M193.5 505.5h0M194.5 471.5h0M194.5 472.5h0M194.5 473.5h0M194.5 474.5h0M194.5 477.5h0M194.5 480.5h0M194.5 484.5h0M194.5 485.5h0M194.5 506.5h0M195.5 470.5h0M195.5 471.5h0M195.5 472.5h0M195.5 474.5h0M195.5 481.5h0M195.5 482.5h0M195.5 484.5h0M195.5 485.5h0M195.5 506.5h0M195.5 507.5h0M196.5 472.5h0M196.5 475.5h0M196.5 477.5h0M196.5 478.5h0M196.5 479.5h0M196.5 481.5h0M196.5 484.5h0M196.5 485.5h0M196.5 507.5h0M196.5 508.5h0M197.5 466.5h0M197.5 467.5h0M197.5 471.5h0M197.5 472.5h0M197.5 473.5h0M197.5 477.5h0M197.5 479.5h0M197.5 480.5h0M197.5 481.5h0M197.5 485.5h0M197.5 506.5h0M198.5 465.5h0M198.5 466.5h0M198.5 467.5h0M198.5 468.5h0M198.5 471.5h0M198.5 472.5h0M198.5 473.5h0M198.5 474.5h0M198.5 475.5h0M198.5 476.5h0M198.5 477.5h0M198.5 478.5h0M198.5 480.5h0M198.5 482.5h0M198.5 485.5h0M198.5 486.5h0M198.5 487.5h0M198.5 505.5h0M198.5 507.5h0M199.5 467.5h0M199.5 468.5h0M199.5 473.5h0M199.5 475.5h0M199.5 481.5h0M199.5 486.5h0M199.5 505.5h0M200.5 469.5h0M200.5 470.5h0M200.5 471.5h0M200.5 472.5h0M200.5 475.5h0M200.5 490.5h0M201.5 490.5h0M201.5 496.5h0M201.5 498.5h0M201.5 499.5h0M201.5 502.5h0M201.5 504.5h0M202.5 490.5h0M202.5 493.5h0M202.5 495.5h0M202.5 498.5h0M202.5 499.5h0M202.5 501.5h0M202.5 502.5h0M202.5 503.5h0M203.5 489.5h0M203.5 490.5h0M203.5 491.5h0M203.5 495.5h0M203.5 499.5h0M203.5 501.5h0M204.5 490.5h0M204.5 491.5h0M204.5 492.5h0M205.5 490.5h0M205.5 491.5h0M206.5 491.5h0M206.5 492.5h0M207.5 496.5h0M207.5 497.5h0M208.5 497.5h0M209.5 494.5h0M209.5 495.5h0M209.5 496.5h0M210.5 492.5h0M210.5 493.5h0M210.5 495.5h0M210.5 496.5h0M211.5 488.5h0M211.5 492.5h0M211.5 493.5h0M211.5 494.5h0M211.5 495.5h0M211.5 496.5h0M211.5 497.5h0M211.5 499.5h0M211.5 500.5h0M211.5 501.5h0M212.5 487.5h0M212.5 489.5h0M212.5 491.5h0M212.5 492.5h0M212.5 495.5h0M212.5 499.5h0M212.5 500.5h0M212.5 501.5h0M213.5 488.5h0M213.5 489.5h0M213.5 490.5h0M213.5 494.5h0M213.5 501.5h0M213.5 502.5h0M213.5 503.5h0M213.5 504.5h0M214.5 486.5h0M215.5 488.5h0M216.5 487.5h0M216.5 488.5h0M217.5 485.5h0M217.5 487.5h0M217.5 488.5h0M217.5 503.5h0M217.5 504.5h0M218.5 486.5h0M218.5 488.5h0M218.5 504.5h0M218.5 505.5h0M219.5 485.5h0M219.5 486.5h0M219.5 505.5h0M219.5 507.5h0M220.5 486.5h0M220.5 506.5h0M221.5 504.5h0M221.5 506.5h0M221.5 507.5h0M222.5 486.5h0M222.5 504.5h0M222.5 505.5h0M223.5 484.5h0M223.5 485.5h0M223.5 486.5h0M223.5 504.5h0M223.5 506.5h0M224.5 486.5h0M224.5 487.5h0M225.5 487.5h0M225.5 504.5h0M226.5 487.5h0M226.5 504.5h0M227.5 488.5h0M228.5 487.5h0M228.5 488.5h0M228.5 502.5h0M229.5 488.5h0M229.5 500.5h0M229.5 501.5h0M229.5 503.5h0M230.5 500.5h0M230.5 501.5h0M230.5 502.5h0M231.5 490.5h0M231.5 500.5h0M231.5 501.5h0M231.5 502.5h0M231.5 503.5h0M232.5 489.5h0M232.5 490.5h0M232.5 503.5h0M233.5 487.5h0M233.5 489.5h0M233.5 490.5h0M233.5 501.5h0M234.5 487.5h0M234.5 488.5h0M234.5 503.5h0M235.5 488.5h0M235.5 490.5h0M235.5 503.5h0M236.5 488.5h0M236.5 489.5h0M236.5 504.5h0M236.5 505.5h0M237.5 501.5h0M237.5 502.5h0M237.5 503.5h0M237.5 504.5h0M238.5 486.5h0M238.5 487.5h0M238.5 488.5h0M238.5 501.5h0M238.5 503.5h0M239.5 486.5h0M239.5 487.5h0M239.5 488.5h0M239.5 502.5h0M239.5 503.5h0M240.5 487.5h0M240.5 488.5h0M240.5 502.5h0M240.5 503.5h0M240.5 504.5h0M240.5 505.5h0M241.5 487.5h0M241.5 490.5h0M241.5 502.5h0M241.5 504.5h0M241.5 505.5h0M241.5 506.5h0M242.5 488.5h0M242.5 489.5h0M242.5 491.5h0M242.5 502.5h0M242.5 503.5h0M243.5 489.5h0M243.5 491.5h0M243.5 492.5h0M243.5 494.5h0M243.5 501.5h0M244.5 491.5h0M244.5 492.5h0M244.5 495.5h0M244.5 496.5h0M244.5 499.5h0M244.5 500.5h0M245.5 495.5h0" stroke="#7c9ae6" stroke-width="1" stroke-linecap="square"/>
<path d="M188.5 494.5h0M188.5 495.5h0M188.5 496.5h0M188.5 498.5h0M189.5 490.5h0M189.5 491.5h0M189.5 493.5h0M189.5 498.5h0M189.5 499.5h0M189.5 500.5h0M190.5 489.5h0M190.5 490.5h0M190.5 499.5h0M190.5 501.5h0M191.5 488.5h0M191.5 500.5h0M191.5 501.5h0M191.5 502.5h0M192.5 486.5h0M192.5 487.5h0M192.5 501.5h0M193.5 487.5h0M193.5 503.5h0M193.5 504.5h0M194.5 486.5h0M194.5 487.5h0M194.5 504.5h0M195.5 486.5h0M195.5 487.5h0M195.5 488.5h0M195.5 504.5h0M195.5 505.5h0M196.5 486.5h0M196.5 487.5h0M196.5 488.5h0M196.5 504.5h0M197.5 487.5h0M197.5 488.5h0M197.5 504.5h0M197.5 505.5h0M198.5 489.5h0M198.5 490.5h0M198.5 498.5h0M198.5 503.5h0M198.5 504.5h0M199.5 489.5h0M199.5 490.5h0M199.5 496.5h0M199.5 497.5h0M199.5 498.5h0M199.5 502.5h0M200.5 493.5h0M200.5 494.5h0M200.5 495.5h0M200.5 497.5h0M200.5 500.5h0M200.5 501.5h0M200.5 502.5h0M201.5 492.5h0M201.5 493.5h0M201.5 494.5h0M201.5 500.5h0M201.5 501.5h0M212.5 497.5h0M212.5 498.5h0M213.5 492.5h0M213.5 497.5h0M213.5 498.5h0M213.5 499.5h0M214.5 490.5h0M214.5 491.5h0M214.5 493.5h0M214.5 494.5h0M214.5 496.5h0M214.5 498.5h0M214.5 499.5h0M214.5 500.5h0M214.5 501.5h0M215.5 489.5h0M215.5 490.5h0M215.5 491.5h0M215.5 492.5h0M215.5 494.5h0M215.5 500.5h0M215.5 501.5h0M215.5 502.5h0M216.5 490.5h0M216.5 492.5h0M216.5 502.5h0M217.5 490.5h0M217.5 491.5h0M217.5 492.5h0M217.5 501.5h0M217.5 502.5h0M218.5 490.5h0M218.5 502.5h0M219.5 489.5h0M219.5 490.5h0M219.5 502.5h0M219.5 503.5h0M220.5 488.5h0M220.5 503.5h0M221.5 487.5h0M221.5 488.5h0M221.5 502.5h0M221.5 503.5h0M222.5 487.5h0M222.5 488.5h0M222.5 489.5h0M222.5 502.5h0M222.5 503.5h0M223.5 488.5h0M223.5 489.5h0M224.5 488.5h0M224.5 489.5h0M224.5 503.5h0M225.5 488.5h0M226.5 488.5h0M226.5 502.5h0M226.5 503.5h0M227.5 490.5h0M227.5 500.5h0M227.5 501.5h0M227.5 502.5h0M228.5 491.5h0M228.5 496.5h0M228.5 497.5h0M229.5 490.5h0M229.5 491.5h0M229.5 492.5h0M229.5 495.5h0M229.5 496.5h0M229.5 497.5h0M230.5 490.5h0M230.5 491.5h0M230.5 494.5h0M230.5 496.5h0M230.5 497.5h0M230.5 498.5h0M231.5 491.5h0M231.5 492.5h0M231.5 493.5h0M231.5 494.5h0M231.5 495.5h0M231.5 496.5h0M231.5 498.5h0M231.5 499.5h0M232.5 491.5h0M232.5 492.5h0M232.5 493.5h0M232.5 495.5h0M232.5 496.5h0M232.5 498.5h0M232.5 499.5h0M232.5 500.5h0M233.5 495.5h0M233.5 497.5h0M233.5 498.5h0M233.5 500.5h0M234.5 492.5h0M234.5 493.5h0M234.5 499.5h0M234.5 500.5h0M235.5 491.5h0M235.5 493.5h0M235.5 499.5h0M235.5 500.5h0M236.5 490.5h0M236.5 491.5h0M236.5 492.5h0M236.5 499.5h0M237.5 490.5h0M237.5 492.5h0M237.5 499.5h0M238.5 489.5h0M238.5 490.5h0M238.5 491.5h0M238.5 498.5h0M238.5 499.5h0M239.5 490.5h0M239.5 491.5h0M239.5 492.5h0M239.5 499.5h0M239.5 500.5h0M239.5 501.5h0M240.5 489.5h0M240.5 490.5h0M240.5 492.5h0M240.5 493.5h0M240.5 495.5h0M240.5 498.5h0M240.5 499.5h0M240.5 500.5h0M240.5 501.5h0M241.5 493.5h0M241.5 494.5h0M241.5 495.5h0M241.5 496.5h0M241.5 497.5h0M241.5 498.5h0M241.5 499.5h0M241.5 500.5h0M242.5 492.5h0M242.5 493.5h0M242.5 495.5h0M242.5 496.5h0M242.5 497.5h0M242.5 498.5h0M242.5 499.5h0M242.5 500.5h0M242.5 501.5h0M243.5 496.5h0M243.5 497.5h0M243.5 499.5h0" stroke="#5888de" stroke-width="1" stroke-linecap="square"/>
<path d="M189.5 494.5h0M189.5 495.5h0M190.5 493.5h0M190.5 494.5h0M190.5 498.5h0M191.5 489.5h0M191.5 490.5h0M191.5 491.5h0M191.5 492.5h0M191.5 499.5h0M192.5 488.5h0M192.5 489.5h0M192.5 490.5h0M192.5 499.5h0M192.5 500.5h0M193.5 488.5h0M193.5 490.5h0M193.5 500.5h0M193.5 501.5h0M194.5 490.5h0M194.5 500.5h0M194.5 501.5h0M194.5 502.5h0M194.5 503.5h0M195.5 489.5h0M195.5 490.5h0M195.5 500.5h0M195.5 502.5h0M195.5 503.5h0M196.5 489.5h0M196.5 490.5h0M196.5 491.5h0M196.5 500.5h0M196.5 501.5h0M196.5 502.5h0M196.5 503.5h0M197.5 489.5h0M197.5 490.5h0M197.5 497.5h0M197.5 499.5h0M197.5 500.5h0M197.5 501.5h0M197.5 502.5h0M197.5 503.5h0M198.5 492.5h0M198.5 496.5h0M198.5 497.5h0M198.5 499.5h0M198.5 500.5h0M198.5 501.5h0M198.5 502.5h0M199.5 492.5h0M199.5 493.5h0M199.5 494.5h0M199.5 495.5h0M199.5 500.5h0M199.5 501.5h0M215.5 496.5h0M215.5 497.5h0M215.5 498.5h0M215.5 499.5h0M216.5 494.5h0M216.5 495.5h0M216.5 496.5h0M216.5 497.5h0M216.5 498.5h0M216.5 499.5h0M216.5 500.5h0M217.5 494.5h0M217.5 500.5h0M218.5 491.5h0M218.5 492.5h0M218.5 500.5h0M218.5 501.5h0M219.5 491.5h0M219.5 501.5h0M220.5 490.5h0M220.5 491.5h0M220.5 501.5h0M221.5 491.5h0M222.5 490.5h0M222.5 491.5h0M222.5 501.5h0M223.5 490.5h0M223.5 491.5h0M223.5 501.5h0M224.5 490.5h0M224.5 491.5h0M224.5 502.5h0M225.5 490.5h0M225.5 491.5h0M225.5 492.5h0M225.5 501.5h0M225.5 502.5h0M226.5 490.5h0M226.5 491.5h0M226.5 492.5h0M226.5 493.5h0M226.5 494.5h0M226.5 497.5h0M226.5 500.5h0M226.5 501.5h0M227.5 491.5h0M227.5 492.5h0M227.5 493.5h0M227.5 494.5h0M227.5 496.5h0M227.5 497.5h0M227.5 498.5h0M227.5 499.5h0M228.5 492.5h0M228.5 493.5h0M228.5 494.5h0M228.5 495.5h0M229.5 493.5h0M229.5 494.5h0M234.5 494.5h0M234.5 495.5h0M234.5 496.5h0M234.5 497.5h0M234.5 498.5h0M235.5 494.5h0M235.5 495.5h0M235.5 496.5h0M235.5 498.5h0M236.5 493.5h0M236.5 494.5h0M236.5 497.5h0M237.5 493.5h0M237.5 497.5h0M237.5 498.5h0M238.5 494.5h0M238.5 495.5h0M238.5 496.5h0M238.5 497.5h0M239.5 493.5h0M239.5 494.5h0M239.5 495.5h0M240.5 494.5h0" stroke="#3a98d2" stroke-width="1" stroke-linecap="square"/>
<path d="M190.5 495.5h0M190.5 496.5h0M191.5 493.5h0M191.5 494.5h0M191.5 495.5h0M191.5 496.5h0M191.5 497.5h0M192.5 491.5h0M192.5 492.5h0M192.5 493.5h0M192.5 497.5h0M192.5 498.5h0M193.5 491.5h0M193.5 492.5h0M193.5 498.5h0M193.5 499.5h0M194.5 491.5h0M194.5 492.5h0M194.5 499.5h0M195.5 491.5h0M195.5 492.5h0M195.5 498.5h0M195.5 499.5h0M196.5 492.5h0M196.5 497.5h0M196.5 498.5h0M197.5 492.5h0M197.5 493.5h0M197.5 495.5h0M198.5 493.5h0M198.5 494.5h0M217.5 495.5h0M217.5 496.5h0M217.5 497.5h0M217.5 498.5h0M217.5 499.5h0M218.5 493.5h0M218.5 494.5h0M218.5 499.5h0M219.5 492.5h0M219.5 493.5h0M219.5 500.5h0M220.5 492.5h0M220.5 493.5h0M220.5 500.5h0M221.5 492.5h0M221.5 493.5h0M221.5 500.5h0M222.5 492.5h0M222.5 493.5h0M222.5 500.5h0M223.5 492.5h0M223.5 493.5h0M223.5 500.5h0M224.5 492.5h0M224.5 493.5h0M224.5 494.5h0M224.5 495.5h0M224.5 500.5h0M224.5 501.5h0M225.5 493.5h0M225.5 494.5h0M225.5 495.5h0M225.5 496.5h0M225.5 497.5h0M225.5 498.5h0M225.5 499.5h0M225.5 500.5h0M226.5 495.5h0M226.5 496.5h0M226.5 498.5h0M226.5 499.5h0M236.5 495.5h0M236.5 496.5h0M237.5 495.5h0M237.5 496.5h0" stroke="#32aca6" stroke-width="1" stroke-linecap="square"/>
<path d="M192.5 494.5h0M192.5 495.5h0M192.5 496.5h0M193.5 493.5h0M193.5 495.5h0M193.5 496.5h0M193.5 497.5h0M194.5 493.5h0M194.5 494.5h0M194.5 495.5h0M194.5 496.5h0M194.5 497.5h0M194.5 498.5h0M195.5 493.5h0M195.5 495.5h0M195.5 496.5h0M195.5 497.5h0M196.5 493.5h0M196.5 494.5h0M196.5 495.5h0M196.5 496.5h0M197.5 494.5h0M218.5 495.5h0M218.5 496.5h0M218.5 497.5h0M218.5 498.5h0M219.5 494.5h0M219.5 495.5h0M219.5 499.5h0M220.5 494.5h0M220.5 495.5h0M220.5 499.5h0M221.5 494.5h0M221.5 495.5h0M221.5 499.5h0M222.5 494.5h0M222.5 495.5h0M222.5 496.5h0M222.5 499.5h0M223.5 495.5h0M223.5 496.5h0M223.5 498.5h0M223.5 499.5h0M224.5 496.5h0M224.5 497.5h0M224.5 498.5h0M224.5 499.5h0" stroke="#56be62" stroke-width="1" stroke-linecap="square"/>
<path d="M219.5 496.5h0M219.5 497.5h0M219.5 498.5h0M220.5 496.5h0M220.5 497.5h0M220.5 498.5h0M221.5 496.5h0M221.5 497.5h0M221.5 498.5h0M222.5 497.5h0M222.5 498.5h0" stroke="#b4d034" stroke-width="1" stroke-linecap="square"/>
</g>
<path d="M208.2 436.6V513.8M175 485.4H253.8" stroke="#e89ce4" stroke-width="0.9" fill="none"/>
<rect x="175" y="436.6" width="78.8" height="77.2" fill="none" stroke="#858585" stroke-width="1.4"/>
<path d="M175.3 436.6V513.8M175 513.5H253.8" stroke="#8a8a8a" stroke-width="2" stroke-dasharray="2.5 1.5"/>
<text x="176.20" y="443.60" font-size="7.5" fill="#1a1a1a" text-anchor="start" style="font-weight:bold;" >4.4</text>
<text x="252.70" y="443.60" font-size="7.5" fill="#1a1a1a" text-anchor="end" style="font-weight:bold;" >1.6</text>
<text x="176.20" y="512.90" font-size="7.5" fill="#1a1a1a" text-anchor="start" style="font-weight:bold;" >31.3</text>
<text x="252.70" y="512.90" font-size="7.5" fill="#1a1a1a" text-anchor="end" style="font-weight:bold;" >62.7</text>
<text x="212.90" y="434.30" font-size="10.8" fill="#1a1a1a" text-anchor="middle" style="font-weight:bold;" >Tamoxifen</text>
<g filter="url(#bl03)">
<path d="M275.5 480.5h0M275.5 486.5h0M277.5 475.5h0M277.5 480.5h0M278.5 456.5h0M278.5 469.5h0M280.5 476.5h0M280.5 485.5h0M281.5 465.5h0M281.5 466.5h0M281.5 477.5h0M281.5 479.5h0M281.5 483.5h0M281.5 491.5h0M282.5 472.5h0M282.5 476.5h0M283.5 458.5h0M283.5 468.5h0M283.5 497.5h0M283.5 498.5h0M284.5 501.5h0M285.5 451.5h0M285.5 498.5h0M286.5 497.5h0M287.5 508.5h0M287.5 509.5h0M288.5 446.5h0M288.5 454.5h0M288.5 505.5h0M289.5 448.5h0M289.5 504.5h0M289.5 511.5h0M290.5 506.5h0M291.5 453.5h0M291.5 505.5h0M291.5 507.5h0M291.5 509.5h0M292.5 453.5h0M293.5 440.5h0M293.5 454.5h0M294.5 457.5h0M294.5 500.5h0M294.5 504.5h0M295.5 500.5h0M295.5 507.5h0M295.5 509.5h0M296.5 456.5h0M296.5 511.5h0M297.5 456.5h0M298.5 459.5h0M298.5 504.5h0M299.5 453.5h0M299.5 454.5h0M299.5 500.5h0M299.5 504.5h0M301.5 451.5h0M302.5 453.5h0M302.5 461.5h0M302.5 501.5h0M302.5 504.5h0M302.5 511.5h0M303.5 495.5h0M303.5 511.5h0M304.5 465.5h0M304.5 508.5h0M305.5 503.5h0M306.5 471.5h0M306.5 484.5h0M307.5 479.5h0M307.5 498.5h0M307.5 505.5h0M308.5 469.5h0M308.5 478.5h0M308.5 502.5h0M309.5 471.5h0M309.5 477.5h0M309.5 509.5h0M310.5 505.5h0M310.5 506.5h0M310.5 509.5h0M311.5 466.5h0M313.5 480.5h0M314.5 464.5h0M314.5 472.5h0M314.5 481.5h0M316.5 459.5h0M316.5 510.5h0M317.5 511.5h0M317.5 513.5h0M318.5 461.5h0M318.5 468.5h0M325.5 465.5h0M326.5 469.5h0M327.5 469.5h0M328.5 471.5h0M328.5 474.5h0M329.5 469.5h0M329.5 472.5h0M329.5 508.5h0M330.5 475.5h0M330.5 477.5h0M330.5 509.5h0M331.5 509.5h0M333.5 481.5h0M333.5 508.5h0M335.5 507.5h0M337.5 479.5h0M338.5 511.5h0M339.5 481.5h0M339.5 506.5h0M341.5 502.5h0M344.5 486.5h0M345.5 491.5h0M347.5 488.5h0" stroke="#c2cef4" stroke-width="1" stroke-linecap="square"/>
<path d="M281.5 488.5h0M282.5 480.5h0M282.5 488.5h0M282.5 489.5h0M283.5 482.5h0M283.5 486.5h0M283.5 487.5h0M283.5 489.5h0M284.5 462.5h0M284.5 464.5h0M284.5 465.5h0M284.5 468.5h0M284.5 473.5h0M284.5 474.5h0M284.5 478.5h0M284.5 480.5h0M284.5 484.5h0M284.5 486.5h0M285.5 461.5h0M285.5 463.5h0M285.5 471.5h0M285.5 490.5h0M285.5 491.5h0M285.5 493.5h0M286.5 460.5h0M286.5 466.5h0M286.5 467.5h0M286.5 468.5h0M286.5 469.5h0M286.5 470.5h0M286.5 471.5h0M286.5 474.5h0M286.5 491.5h0M286.5 492.5h0M286.5 493.5h0M286.5 499.5h0M287.5 462.5h0M287.5 465.5h0M287.5 467.5h0M287.5 468.5h0M287.5 470.5h0M287.5 491.5h0M288.5 461.5h0M288.5 463.5h0M288.5 496.5h0M288.5 500.5h0M288.5 501.5h0M288.5 502.5h0M289.5 456.5h0M289.5 457.5h0M289.5 494.5h0M289.5 497.5h0M289.5 499.5h0M289.5 500.5h0M290.5 458.5h0M290.5 460.5h0M290.5 462.5h0M290.5 498.5h0M290.5 501.5h0M290.5 502.5h0M291.5 455.5h0M291.5 458.5h0M291.5 461.5h0M291.5 462.5h0M292.5 460.5h0M293.5 455.5h0M293.5 497.5h0M295.5 461.5h0M295.5 497.5h0M296.5 498.5h0M296.5 503.5h0M296.5 504.5h0M298.5 460.5h0M298.5 461.5h0M298.5 496.5h0M298.5 497.5h0M299.5 463.5h0M299.5 464.5h0M299.5 467.5h0M300.5 463.5h0M300.5 465.5h0M300.5 466.5h0M300.5 467.5h0M301.5 467.5h0M301.5 468.5h0M302.5 470.5h0M302.5 475.5h0M302.5 480.5h0M302.5 482.5h0M302.5 490.5h0M302.5 491.5h0M302.5 494.5h0M302.5 497.5h0M302.5 498.5h0M303.5 468.5h0M303.5 476.5h0M303.5 478.5h0M303.5 483.5h0M303.5 485.5h0M303.5 491.5h0M303.5 498.5h0M303.5 500.5h0M304.5 467.5h0M304.5 469.5h0M304.5 474.5h0M304.5 477.5h0M304.5 478.5h0M304.5 483.5h0M304.5 484.5h0M304.5 489.5h0M304.5 499.5h0M304.5 500.5h0M305.5 471.5h0M305.5 472.5h0M305.5 493.5h0M306.5 488.5h0M306.5 492.5h0M306.5 495.5h0M307.5 482.5h0M307.5 490.5h0M307.5 495.5h0M308.5 482.5h0M308.5 483.5h0M308.5 489.5h0M308.5 494.5h0M308.5 495.5h0M308.5 498.5h0M309.5 480.5h0M309.5 482.5h0M309.5 487.5h0M309.5 489.5h0M309.5 490.5h0M309.5 493.5h0M309.5 495.5h0M309.5 499.5h0M310.5 480.5h0M310.5 484.5h0M310.5 496.5h0M310.5 497.5h0M311.5 477.5h0M311.5 502.5h0M312.5 476.5h0M312.5 477.5h0M312.5 478.5h0M312.5 485.5h0M312.5 505.5h0M312.5 508.5h0M313.5 476.5h0M313.5 483.5h0M313.5 502.5h0M313.5 504.5h0M313.5 505.5h0M313.5 507.5h0M313.5 508.5h0M314.5 478.5h0M314.5 504.5h0M315.5 477.5h0M315.5 506.5h0M315.5 509.5h0M316.5 470.5h0M316.5 471.5h0M316.5 472.5h0M316.5 506.5h0M317.5 473.5h0M317.5 474.5h0M317.5 475.5h0M317.5 476.5h0M317.5 477.5h0M317.5 478.5h0M317.5 479.5h0M317.5 505.5h0M317.5 507.5h0M317.5 508.5h0M318.5 470.5h0M318.5 471.5h0M318.5 472.5h0M318.5 479.5h0M319.5 473.5h0M320.5 471.5h0M320.5 473.5h0M320.5 506.5h0M321.5 470.5h0M322.5 472.5h0M322.5 473.5h0M322.5 475.5h0M322.5 476.5h0M322.5 477.5h0M322.5 478.5h0M322.5 480.5h0M322.5 506.5h0M322.5 508.5h0M322.5 509.5h0M322.5 510.5h0M323.5 471.5h0M323.5 474.5h0M323.5 476.5h0M323.5 507.5h0M323.5 510.5h0M324.5 470.5h0M324.5 471.5h0M324.5 475.5h0M324.5 477.5h0M324.5 478.5h0M324.5 479.5h0M324.5 505.5h0M324.5 506.5h0M325.5 477.5h0M325.5 507.5h0M326.5 477.5h0M326.5 478.5h0M326.5 504.5h0M326.5 506.5h0M326.5 507.5h0M327.5 479.5h0M327.5 481.5h0M327.5 482.5h0M327.5 504.5h0M328.5 479.5h0M328.5 481.5h0M328.5 483.5h0M328.5 505.5h0M330.5 480.5h0M330.5 482.5h0M330.5 505.5h0M331.5 482.5h0M331.5 485.5h0M332.5 483.5h0M332.5 504.5h0M332.5 505.5h0M333.5 484.5h0M333.5 505.5h0M333.5 506.5h0M334.5 483.5h0M335.5 482.5h0M335.5 484.5h0M337.5 485.5h0M337.5 504.5h0M337.5 505.5h0M338.5 483.5h0M338.5 485.5h0M338.5 502.5h0M338.5 505.5h0M339.5 486.5h0M339.5 504.5h0M340.5 484.5h0M340.5 487.5h0M340.5 488.5h0M340.5 501.5h0M341.5 484.5h0M341.5 486.5h0M341.5 487.5h0M342.5 491.5h0M343.5 492.5h0M343.5 493.5h0M343.5 494.5h0M343.5 496.5h0M344.5 494.5h0" stroke="#a2b4ee" stroke-width="1" stroke-linecap="square"/>
<path d="M284.5 482.5h0M284.5 483.5h0M285.5 478.5h0M285.5 481.5h0M285.5 482.5h0M285.5 483.5h0M285.5 485.5h0M286.5 475.5h0M286.5 478.5h0M286.5 480.5h0M286.5 481.5h0M286.5 482.5h0M286.5 483.5h0M286.5 484.5h0M286.5 487.5h0M286.5 488.5h0M286.5 489.5h0M287.5 472.5h0M287.5 475.5h0M287.5 476.5h0M287.5 478.5h0M287.5 479.5h0M287.5 481.5h0M287.5 482.5h0M287.5 484.5h0M287.5 485.5h0M287.5 486.5h0M287.5 487.5h0M287.5 488.5h0M288.5 466.5h0M288.5 467.5h0M288.5 472.5h0M288.5 473.5h0M288.5 474.5h0M288.5 475.5h0M288.5 476.5h0M288.5 478.5h0M288.5 481.5h0M288.5 482.5h0M288.5 486.5h0M288.5 487.5h0M288.5 489.5h0M288.5 490.5h0M289.5 465.5h0M289.5 468.5h0M289.5 470.5h0M289.5 472.5h0M289.5 473.5h0M289.5 479.5h0M289.5 485.5h0M289.5 486.5h0M289.5 488.5h0M289.5 489.5h0M289.5 490.5h0M289.5 491.5h0M289.5 493.5h0M290.5 465.5h0M290.5 467.5h0M290.5 468.5h0M290.5 472.5h0M290.5 486.5h0M290.5 487.5h0M290.5 488.5h0M290.5 489.5h0M290.5 490.5h0M290.5 491.5h0M290.5 492.5h0M290.5 493.5h0M290.5 494.5h0M291.5 464.5h0M291.5 465.5h0M291.5 466.5h0M291.5 467.5h0M291.5 473.5h0M291.5 487.5h0M291.5 488.5h0M291.5 489.5h0M291.5 492.5h0M291.5 493.5h0M291.5 494.5h0M291.5 495.5h0M291.5 496.5h0M292.5 461.5h0M292.5 462.5h0M292.5 464.5h0M292.5 465.5h0M292.5 488.5h0M292.5 490.5h0M292.5 491.5h0M292.5 492.5h0M292.5 493.5h0M292.5 495.5h0M293.5 461.5h0M293.5 462.5h0M293.5 464.5h0M293.5 465.5h0M293.5 470.5h0M293.5 489.5h0M293.5 491.5h0M293.5 492.5h0M293.5 493.5h0M293.5 494.5h0M294.5 461.5h0M294.5 462.5h0M294.5 463.5h0M294.5 467.5h0M294.5 468.5h0M294.5 493.5h0M294.5 494.5h0M295.5 462.5h0M295.5 463.5h0M295.5 464.5h0M295.5 465.5h0M295.5 469.5h0M295.5 470.5h0M295.5 471.5h0M295.5 491.5h0M295.5 492.5h0M295.5 493.5h0M295.5 494.5h0M295.5 495.5h0M295.5 496.5h0M296.5 462.5h0M296.5 463.5h0M296.5 464.5h0M296.5 465.5h0M296.5 466.5h0M296.5 467.5h0M296.5 471.5h0M296.5 491.5h0M296.5 494.5h0M296.5 495.5h0M297.5 464.5h0M297.5 468.5h0M297.5 469.5h0M297.5 470.5h0M297.5 471.5h0M297.5 490.5h0M297.5 492.5h0M297.5 493.5h0M297.5 494.5h0M298.5 464.5h0M298.5 467.5h0M298.5 469.5h0M298.5 470.5h0M298.5 472.5h0M298.5 473.5h0M298.5 477.5h0M298.5 478.5h0M298.5 479.5h0M298.5 490.5h0M298.5 491.5h0M298.5 492.5h0M298.5 493.5h0M299.5 468.5h0M299.5 469.5h0M299.5 474.5h0M299.5 475.5h0M299.5 477.5h0M299.5 480.5h0M299.5 482.5h0M299.5 483.5h0M299.5 484.5h0M299.5 486.5h0M299.5 487.5h0M299.5 488.5h0M299.5 489.5h0M299.5 491.5h0M299.5 492.5h0M299.5 493.5h0M300.5 469.5h0M300.5 470.5h0M300.5 471.5h0M300.5 472.5h0M300.5 473.5h0M300.5 474.5h0M300.5 475.5h0M300.5 478.5h0M300.5 481.5h0M300.5 482.5h0M300.5 483.5h0M300.5 486.5h0M300.5 488.5h0M300.5 489.5h0M300.5 491.5h0M300.5 492.5h0M301.5 473.5h0M301.5 474.5h0M301.5 476.5h0M301.5 478.5h0M301.5 479.5h0M301.5 480.5h0M301.5 484.5h0M301.5 486.5h0M301.5 487.5h0M301.5 491.5h0M302.5 483.5h0M302.5 486.5h0M302.5 487.5h0M310.5 491.5h0M311.5 488.5h0M311.5 489.5h0M311.5 491.5h0M311.5 493.5h0M311.5 496.5h0M311.5 498.5h0M312.5 487.5h0M312.5 488.5h0M312.5 490.5h0M312.5 494.5h0M312.5 496.5h0M312.5 497.5h0M312.5 498.5h0M312.5 499.5h0M312.5 500.5h0M312.5 501.5h0M313.5 486.5h0M313.5 489.5h0M313.5 498.5h0M313.5 499.5h0M313.5 500.5h0M314.5 484.5h0M314.5 485.5h0M314.5 487.5h0M314.5 488.5h0M314.5 499.5h0M314.5 503.5h0M315.5 485.5h0M315.5 500.5h0M315.5 501.5h0M315.5 502.5h0M315.5 503.5h0M316.5 483.5h0M316.5 484.5h0M316.5 501.5h0M316.5 502.5h0M316.5 503.5h0M317.5 502.5h0M317.5 503.5h0M318.5 476.5h0M318.5 477.5h0M318.5 483.5h0M319.5 475.5h0M319.5 476.5h0M319.5 477.5h0M319.5 480.5h0M319.5 481.5h0M319.5 483.5h0M319.5 503.5h0M319.5 504.5h0M320.5 475.5h0M320.5 478.5h0M320.5 479.5h0M320.5 480.5h0M320.5 482.5h0M320.5 483.5h0M320.5 503.5h0M320.5 504.5h0M321.5 476.5h0M321.5 480.5h0M321.5 481.5h0M321.5 482.5h0M321.5 483.5h0M321.5 484.5h0M321.5 503.5h0M322.5 484.5h0M322.5 503.5h0M322.5 504.5h0M323.5 482.5h0M323.5 483.5h0M323.5 485.5h0M323.5 503.5h0M324.5 481.5h0M324.5 483.5h0M324.5 485.5h0M324.5 486.5h0M324.5 503.5h0M324.5 504.5h0M325.5 479.5h0M325.5 480.5h0M325.5 483.5h0M325.5 486.5h0M325.5 502.5h0M326.5 479.5h0M326.5 483.5h0M326.5 484.5h0M326.5 485.5h0M326.5 486.5h0M326.5 501.5h0M326.5 503.5h0M327.5 483.5h0M327.5 486.5h0M327.5 501.5h0M327.5 502.5h0M328.5 485.5h0M328.5 486.5h0M328.5 487.5h0M328.5 488.5h0M328.5 499.5h0M328.5 500.5h0M328.5 501.5h0M329.5 486.5h0M329.5 487.5h0M329.5 502.5h0M330.5 487.5h0M330.5 488.5h0M330.5 500.5h0M330.5 502.5h0M331.5 487.5h0M331.5 502.5h0M332.5 487.5h0M332.5 501.5h0M332.5 502.5h0M332.5 503.5h0M333.5 485.5h0M333.5 486.5h0M334.5 486.5h0M334.5 487.5h0M334.5 502.5h0M334.5 503.5h0M335.5 485.5h0M335.5 486.5h0M335.5 487.5h0M336.5 485.5h0M336.5 486.5h0M336.5 488.5h0M336.5 501.5h0M336.5 502.5h0M337.5 486.5h0M337.5 487.5h0M337.5 489.5h0M337.5 500.5h0M337.5 501.5h0M338.5 489.5h0M338.5 498.5h0M338.5 501.5h0M339.5 489.5h0M339.5 490.5h0M339.5 491.5h0M339.5 497.5h0M339.5 499.5h0M339.5 500.5h0M340.5 493.5h0M340.5 494.5h0M340.5 495.5h0M340.5 496.5h0M340.5 497.5h0M340.5 498.5h0M340.5 499.5h0M340.5 500.5h0M341.5 491.5h0M341.5 492.5h0M341.5 493.5h0M341.5 495.5h0M341.5 497.5h0M341.5 498.5h0M342.5 493.5h0" stroke="#7c9ae6" stroke-width="1" stroke-linecap="square"/>
<path d="M289.5 474.5h0M289.5 475.5h0M289.5 478.5h0M289.5 481.5h0M289.5 482.5h0M289.5 483.5h0M289.5 484.5h0M290.5 470.5h0M290.5 471.5h0M290.5 474.5h0M290.5 475.5h0M290.5 476.5h0M290.5 477.5h0M290.5 478.5h0M290.5 479.5h0M290.5 481.5h0M290.5 482.5h0M290.5 484.5h0M290.5 485.5h0M291.5 468.5h0M291.5 469.5h0M291.5 470.5h0M291.5 471.5h0M291.5 474.5h0M291.5 475.5h0M291.5 476.5h0M291.5 477.5h0M291.5 478.5h0M291.5 479.5h0M291.5 480.5h0M291.5 481.5h0M291.5 482.5h0M291.5 483.5h0M291.5 486.5h0M292.5 467.5h0M292.5 468.5h0M292.5 469.5h0M292.5 470.5h0M292.5 471.5h0M292.5 475.5h0M292.5 476.5h0M292.5 483.5h0M292.5 484.5h0M292.5 485.5h0M293.5 466.5h0M293.5 467.5h0M293.5 471.5h0M293.5 472.5h0M293.5 473.5h0M293.5 475.5h0M293.5 476.5h0M293.5 483.5h0M293.5 484.5h0M293.5 485.5h0M293.5 486.5h0M293.5 487.5h0M294.5 465.5h0M294.5 466.5h0M294.5 472.5h0M294.5 473.5h0M294.5 474.5h0M294.5 475.5h0M294.5 481.5h0M294.5 483.5h0M294.5 484.5h0M294.5 485.5h0M294.5 486.5h0M294.5 487.5h0M294.5 488.5h0M295.5 472.5h0M295.5 473.5h0M295.5 474.5h0M295.5 475.5h0M295.5 476.5h0M295.5 477.5h0M295.5 479.5h0M295.5 480.5h0M295.5 482.5h0M295.5 483.5h0M295.5 485.5h0M295.5 486.5h0M295.5 487.5h0M295.5 488.5h0M295.5 489.5h0M295.5 490.5h0M296.5 472.5h0M296.5 473.5h0M296.5 474.5h0M296.5 475.5h0M296.5 476.5h0M296.5 477.5h0M296.5 478.5h0M296.5 479.5h0M296.5 480.5h0M296.5 481.5h0M296.5 482.5h0M296.5 483.5h0M296.5 484.5h0M296.5 486.5h0M296.5 487.5h0M296.5 488.5h0M296.5 489.5h0M296.5 490.5h0M297.5 473.5h0M297.5 474.5h0M297.5 475.5h0M297.5 479.5h0M297.5 480.5h0M297.5 481.5h0M297.5 482.5h0M297.5 484.5h0M297.5 485.5h0M297.5 486.5h0M297.5 487.5h0M297.5 488.5h0M298.5 474.5h0M298.5 475.5h0M298.5 476.5h0M298.5 481.5h0M298.5 482.5h0M298.5 483.5h0M298.5 484.5h0M298.5 487.5h0M298.5 488.5h0M312.5 491.5h0M312.5 493.5h0M313.5 490.5h0M313.5 491.5h0M313.5 493.5h0M313.5 494.5h0M314.5 496.5h0M314.5 497.5h0M314.5 498.5h0M315.5 487.5h0M315.5 488.5h0M315.5 489.5h0M315.5 498.5h0M316.5 485.5h0M316.5 486.5h0M316.5 488.5h0M316.5 498.5h0M316.5 499.5h0M316.5 500.5h0M317.5 485.5h0M317.5 486.5h0M317.5 499.5h0M317.5 501.5h0M318.5 484.5h0M318.5 485.5h0M318.5 486.5h0M319.5 485.5h0M319.5 486.5h0M319.5 501.5h0M319.5 502.5h0M320.5 484.5h0M320.5 485.5h0M320.5 486.5h0M320.5 501.5h0M321.5 485.5h0M321.5 486.5h0M321.5 501.5h0M321.5 502.5h0M322.5 485.5h0M322.5 486.5h0M322.5 487.5h0M322.5 501.5h0M322.5 502.5h0M323.5 487.5h0M323.5 501.5h0M323.5 502.5h0M324.5 499.5h0M324.5 500.5h0M324.5 501.5h0M324.5 502.5h0M325.5 487.5h0M325.5 488.5h0M325.5 497.5h0M325.5 500.5h0M325.5 501.5h0M326.5 487.5h0M326.5 488.5h0M326.5 489.5h0M326.5 490.5h0M326.5 496.5h0M326.5 497.5h0M326.5 498.5h0M327.5 488.5h0M327.5 489.5h0M327.5 490.5h0M327.5 495.5h0M327.5 496.5h0M327.5 497.5h0M327.5 498.5h0M328.5 489.5h0M328.5 490.5h0M328.5 492.5h0M328.5 493.5h0M328.5 494.5h0M328.5 495.5h0M328.5 496.5h0M328.5 497.5h0M329.5 489.5h0M329.5 490.5h0M329.5 491.5h0M329.5 492.5h0M329.5 493.5h0M329.5 496.5h0M329.5 497.5h0M329.5 498.5h0M329.5 499.5h0M330.5 489.5h0M330.5 492.5h0M330.5 494.5h0M330.5 495.5h0M330.5 496.5h0M330.5 497.5h0M330.5 499.5h0M331.5 488.5h0M331.5 489.5h0M331.5 491.5h0M331.5 495.5h0M331.5 496.5h0M331.5 497.5h0M331.5 498.5h0M331.5 499.5h0M332.5 488.5h0M332.5 489.5h0M332.5 490.5h0M332.5 491.5h0M332.5 499.5h0M332.5 500.5h0M333.5 488.5h0M333.5 489.5h0M333.5 491.5h0M333.5 499.5h0M333.5 500.5h0M334.5 488.5h0M334.5 489.5h0M334.5 490.5h0M334.5 498.5h0M334.5 500.5h0M334.5 501.5h0M335.5 489.5h0M335.5 490.5h0M335.5 497.5h0M335.5 498.5h0M335.5 499.5h0M335.5 500.5h0M335.5 501.5h0M336.5 489.5h0M336.5 490.5h0M336.5 496.5h0M336.5 498.5h0M336.5 499.5h0M336.5 500.5h0M337.5 490.5h0M337.5 491.5h0M337.5 492.5h0M337.5 494.5h0M337.5 495.5h0M337.5 496.5h0M337.5 497.5h0M337.5 498.5h0M338.5 491.5h0M338.5 492.5h0M338.5 493.5h0M338.5 494.5h0M338.5 495.5h0M338.5 496.5h0M338.5 497.5h0M339.5 492.5h0M339.5 493.5h0M339.5 494.5h0M339.5 495.5h0M339.5 496.5h0" stroke="#5888de" stroke-width="1" stroke-linecap="square"/>
<path d="M292.5 478.5h0M292.5 479.5h0M292.5 480.5h0M292.5 481.5h0M293.5 477.5h0M293.5 478.5h0M293.5 479.5h0M293.5 480.5h0M293.5 481.5h0M293.5 482.5h0M294.5 476.5h0M294.5 477.5h0M294.5 478.5h0M294.5 479.5h0M294.5 480.5h0M295.5 478.5h0M313.5 492.5h0M314.5 491.5h0M314.5 492.5h0M314.5 493.5h0M314.5 494.5h0M315.5 490.5h0M315.5 491.5h0M315.5 495.5h0M315.5 496.5h0M316.5 489.5h0M316.5 490.5h0M316.5 496.5h0M317.5 487.5h0M317.5 488.5h0M317.5 489.5h0M317.5 497.5h0M317.5 498.5h0M318.5 487.5h0M318.5 488.5h0M318.5 498.5h0M318.5 499.5h0M318.5 500.5h0M319.5 487.5h0M319.5 488.5h0M319.5 499.5h0M319.5 500.5h0M320.5 487.5h0M320.5 488.5h0M320.5 500.5h0M321.5 488.5h0M321.5 500.5h0M322.5 488.5h0M322.5 499.5h0M322.5 500.5h0M323.5 488.5h0M323.5 497.5h0M323.5 498.5h0M323.5 499.5h0M324.5 488.5h0M324.5 489.5h0M324.5 495.5h0M324.5 496.5h0M324.5 497.5h0M324.5 498.5h0M325.5 489.5h0M325.5 491.5h0M325.5 495.5h0M325.5 496.5h0M326.5 491.5h0M326.5 492.5h0M326.5 493.5h0M326.5 494.5h0M326.5 495.5h0M327.5 492.5h0M327.5 493.5h0M327.5 494.5h0M331.5 493.5h0M332.5 492.5h0M332.5 493.5h0M332.5 494.5h0M332.5 496.5h0M332.5 497.5h0M332.5 498.5h0M333.5 492.5h0M333.5 493.5h0M333.5 494.5h0M333.5 495.5h0M333.5 496.5h0M333.5 497.5h0M333.5 498.5h0M334.5 491.5h0M334.5 492.5h0M334.5 493.5h0M334.5 494.5h0M334.5 495.5h0M334.5 496.5h0M334.5 497.5h0M335.5 491.5h0M335.5 492.5h0M335.5 493.5h0M335.5 494.5h0M335.5 495.5h0M335.5 496.5h0M336.5 491.5h0M336.5 492.5h0M336.5 494.5h0M336.5 495.5h0" stroke="#3a98d2" stroke-width="1" stroke-linecap="square"/>
<path d="M315.5 492.5h0M315.5 493.5h0M315.5 494.5h0M316.5 492.5h0M316.5 493.5h0M316.5 494.5h0M316.5 495.5h0M317.5 490.5h0M317.5 491.5h0M317.5 495.5h0M317.5 496.5h0M318.5 489.5h0M318.5 490.5h0M318.5 496.5h0M319.5 489.5h0M319.5 497.5h0M320.5 489.5h0M320.5 497.5h0M320.5 498.5h0M320.5 499.5h0M321.5 489.5h0M321.5 497.5h0M321.5 498.5h0M321.5 499.5h0M322.5 489.5h0M322.5 495.5h0M322.5 496.5h0M322.5 498.5h0M323.5 489.5h0M323.5 490.5h0M323.5 494.5h0M323.5 495.5h0M324.5 490.5h0M324.5 491.5h0M324.5 492.5h0M324.5 493.5h0M324.5 494.5h0M325.5 492.5h0M325.5 493.5h0" stroke="#32aca6" stroke-width="1" stroke-linecap="square"/>
<path d="M317.5 492.5h0M317.5 493.5h0M317.5 494.5h0M318.5 491.5h0M318.5 492.5h0M318.5 494.5h0M318.5 495.5h0M319.5 490.5h0M319.5 491.5h0M319.5 495.5h0M319.5 496.5h0M320.5 490.5h0M320.5 491.5h0M320.5 495.5h0M320.5 496.5h0M321.5 491.5h0M321.5 494.5h0M321.5 495.5h0M321.5 496.5h0M322.5 490.5h0M322.5 491.5h0M322.5 492.5h0M322.5 493.5h0M322.5 494.5h0M323.5 491.5h0M323.5 492.5h0M323.5 493.5h0" stroke="#56be62" stroke-width="1" stroke-linecap="square"/>
<path d="M318.5 493.5h0M319.5 492.5h0M319.5 493.5h0M319.5 494.5h0M320.5 492.5h0M320.5 493.5h0M320.5 494.5h0M321.5 492.5h0M321.5 493.5h0" stroke="#b4d034" stroke-width="1" stroke-linecap="square"/>
</g>
<path d="M305.9 437V513.8M272 485.4H350.8" stroke="#e89ce4" stroke-width="0.9" fill="none"/>
<rect x="272" y="437" width="78.8" height="76.8" fill="none" stroke="#858585" stroke-width="1.4"/>
<path d="M272.3 437V513.8M272 513.5H350.8" stroke="#8a8a8a" stroke-width="2" stroke-dasharray="2.5 1.5"/>
<text x="273.20" y="444.00" font-size="7.5" fill="#1a1a1a" text-anchor="start" style="font-weight:bold;" >18.5</text>
<text x="349.70" y="444.00" font-size="7.5" fill="#1a1a1a" text-anchor="end" style="font-weight:bold;" >6.2</text>
<text x="273.20" y="512.90" font-size="7.5" fill="#1a1a1a" text-anchor="start" style="font-weight:bold;" >14.3</text>
<text x="349.70" y="512.90" font-size="7.5" fill="#1a1a1a" text-anchor="end" style="font-weight:bold;" >61</text>
<text x="313.30" y="434.70" font-size="10.8" fill="#1a1a1a" text-anchor="middle" style="font-weight:bold;" >Tamoxifen</text>
<g filter="url(#bl03)">
<path d="M378.5 490.5h0M379.5 487.5h0M380.5 484.5h0M380.5 497.5h0M380.5 502.5h0M381.5 481.5h0M381.5 507.5h0M383.5 457.5h0M384.5 463.5h0M384.5 464.5h0M384.5 468.5h0M384.5 469.5h0M385.5 463.5h0M385.5 470.5h0M385.5 477.5h0M387.5 465.5h0M387.5 478.5h0M389.5 450.5h0M392.5 446.5h0M392.5 508.5h0M393.5 479.5h0M394.5 477.5h0M394.5 508.5h0M395.5 474.5h0M395.5 477.5h0M397.5 440.5h0M397.5 506.5h0M399.5 473.5h0M399.5 477.5h0M401.5 476.5h0M402.5 448.5h0M402.5 506.5h0M403.5 448.5h0M404.5 452.5h0M405.5 450.5h0M405.5 466.5h0M405.5 479.5h0M405.5 514.5h0M406.5 507.5h0M407.5 458.5h0M407.5 477.5h0M408.5 468.5h0M409.5 465.5h0M409.5 485.5h0M412.5 467.5h0M412.5 508.5h0M413.5 468.5h0M413.5 469.5h0M413.5 472.5h0M414.5 509.5h0M415.5 461.5h0M415.5 462.5h0M415.5 470.5h0M415.5 472.5h0M416.5 460.5h0M417.5 463.5h0M418.5 455.5h0M418.5 475.5h0M419.5 470.5h0M419.5 473.5h0M422.5 460.5h0M422.5 470.5h0M423.5 464.5h0M423.5 511.5h0M424.5 473.5h0M425.5 469.5h0M427.5 508.5h0M428.5 464.5h0M429.5 479.5h0M430.5 460.5h0M430.5 463.5h0M430.5 474.5h0M431.5 456.5h0M431.5 464.5h0M431.5 477.5h0M432.5 473.5h0M432.5 476.5h0M434.5 456.5h0M434.5 465.5h0M435.5 464.5h0M435.5 509.5h0M436.5 461.5h0M436.5 506.5h0M437.5 478.5h0M438.5 470.5h0M438.5 473.5h0M439.5 470.5h0M439.5 475.5h0M441.5 461.5h0M443.5 468.5h0M443.5 482.5h0M445.5 504.5h0M446.5 478.5h0M447.5 455.5h0M449.5 495.5h0" stroke="#c2cef4" stroke-width="1" stroke-linecap="square"/>
<path d="M380.5 490.5h0M380.5 492.5h0M381.5 490.5h0M381.5 491.5h0M382.5 486.5h0M382.5 487.5h0M382.5 494.5h0M382.5 495.5h0M382.5 496.5h0M383.5 481.5h0M383.5 485.5h0M383.5 497.5h0M383.5 499.5h0M384.5 482.5h0M384.5 500.5h0M385.5 480.5h0M385.5 500.5h0M386.5 481.5h0M386.5 501.5h0M387.5 458.5h0M387.5 480.5h0M387.5 483.5h0M387.5 503.5h0M387.5 504.5h0M388.5 457.5h0M388.5 458.5h0M388.5 459.5h0M388.5 460.5h0M388.5 461.5h0M388.5 467.5h0M388.5 468.5h0M389.5 453.5h0M389.5 468.5h0M389.5 504.5h0M390.5 454.5h0M390.5 461.5h0M390.5 465.5h0M390.5 471.5h0M391.5 453.5h0M391.5 454.5h0M391.5 455.5h0M391.5 463.5h0M391.5 464.5h0M391.5 472.5h0M391.5 482.5h0M391.5 505.5h0M391.5 507.5h0M392.5 449.5h0M392.5 452.5h0M392.5 471.5h0M392.5 472.5h0M392.5 504.5h0M392.5 505.5h0M393.5 447.5h0M393.5 449.5h0M393.5 451.5h0M393.5 481.5h0M394.5 446.5h0M394.5 482.5h0M394.5 504.5h0M395.5 449.5h0M395.5 451.5h0M395.5 471.5h0M395.5 503.5h0M395.5 504.5h0M396.5 446.5h0M396.5 450.5h0M396.5 451.5h0M397.5 447.5h0M397.5 449.5h0M397.5 451.5h0M397.5 475.5h0M397.5 482.5h0M398.5 446.5h0M398.5 452.5h0M398.5 484.5h0M398.5 503.5h0M399.5 450.5h0M399.5 483.5h0M399.5 485.5h0M399.5 500.5h0M400.5 481.5h0M400.5 484.5h0M400.5 487.5h0M400.5 500.5h0M400.5 503.5h0M401.5 450.5h0M401.5 470.5h0M401.5 480.5h0M401.5 482.5h0M401.5 485.5h0M401.5 487.5h0M401.5 500.5h0M401.5 501.5h0M401.5 502.5h0M402.5 451.5h0M402.5 467.5h0M402.5 468.5h0M402.5 470.5h0M402.5 473.5h0M402.5 481.5h0M402.5 496.5h0M402.5 497.5h0M402.5 500.5h0M402.5 503.5h0M402.5 504.5h0M403.5 465.5h0M403.5 472.5h0M403.5 473.5h0M403.5 483.5h0M403.5 484.5h0M403.5 495.5h0M403.5 499.5h0M403.5 501.5h0M403.5 504.5h0M404.5 460.5h0M404.5 462.5h0M404.5 464.5h0M404.5 485.5h0M404.5 488.5h0M404.5 496.5h0M404.5 498.5h0M404.5 499.5h0M404.5 501.5h0M404.5 503.5h0M404.5 506.5h0M405.5 455.5h0M405.5 458.5h0M405.5 463.5h0M405.5 486.5h0M405.5 487.5h0M405.5 492.5h0M405.5 498.5h0M405.5 502.5h0M405.5 505.5h0M406.5 460.5h0M406.5 464.5h0M406.5 482.5h0M406.5 484.5h0M406.5 486.5h0M406.5 493.5h0M406.5 504.5h0M407.5 476.5h0M407.5 482.5h0M407.5 490.5h0M407.5 491.5h0M407.5 495.5h0M407.5 496.5h0M407.5 498.5h0M407.5 503.5h0M408.5 475.5h0M408.5 494.5h0M408.5 503.5h0M409.5 475.5h0M409.5 489.5h0M409.5 498.5h0M410.5 479.5h0M410.5 482.5h0M410.5 483.5h0M410.5 504.5h0M411.5 476.5h0M411.5 477.5h0M411.5 478.5h0M411.5 488.5h0M411.5 504.5h0M412.5 476.5h0M412.5 477.5h0M412.5 482.5h0M412.5 487.5h0M412.5 500.5h0M412.5 501.5h0M412.5 503.5h0M412.5 504.5h0M413.5 477.5h0M413.5 478.5h0M413.5 479.5h0M413.5 485.5h0M413.5 486.5h0M413.5 503.5h0M413.5 504.5h0M413.5 507.5h0M414.5 485.5h0M415.5 477.5h0M415.5 478.5h0M415.5 481.5h0M415.5 503.5h0M415.5 506.5h0M416.5 480.5h0M416.5 506.5h0M417.5 481.5h0M417.5 506.5h0M418.5 479.5h0M418.5 483.5h0M418.5 507.5h0M419.5 481.5h0M419.5 482.5h0M420.5 471.5h0M420.5 472.5h0M420.5 506.5h0M421.5 471.5h0M421.5 480.5h0M421.5 482.5h0M421.5 506.5h0M421.5 507.5h0M421.5 508.5h0M422.5 481.5h0M422.5 507.5h0M423.5 478.5h0M423.5 506.5h0M425.5 477.5h0M425.5 478.5h0M425.5 480.5h0M425.5 484.5h0M426.5 482.5h0M426.5 483.5h0M427.5 479.5h0M428.5 484.5h0M428.5 504.5h0M428.5 505.5h0M429.5 480.5h0M429.5 504.5h0M429.5 506.5h0M430.5 504.5h0M431.5 482.5h0M431.5 506.5h0M432.5 481.5h0M432.5 483.5h0M433.5 482.5h0M434.5 479.5h0M434.5 482.5h0M435.5 479.5h0M436.5 481.5h0M436.5 482.5h0M436.5 503.5h0M439.5 482.5h0M439.5 502.5h0M439.5 503.5h0M440.5 502.5h0M441.5 483.5h0M441.5 485.5h0M441.5 501.5h0M442.5 487.5h0M442.5 502.5h0M443.5 486.5h0M443.5 496.5h0M443.5 501.5h0M444.5 493.5h0M444.5 494.5h0M444.5 496.5h0M445.5 490.5h0M445.5 493.5h0" stroke="#a2b4ee" stroke-width="1" stroke-linecap="square"/>
<path d="M382.5 491.5h0M382.5 492.5h0M383.5 487.5h0M383.5 488.5h0M383.5 489.5h0M383.5 490.5h0M383.5 492.5h0M384.5 488.5h0M384.5 489.5h0M384.5 493.5h0M384.5 494.5h0M385.5 485.5h0M385.5 486.5h0M385.5 488.5h0M385.5 497.5h0M385.5 498.5h0M387.5 485.5h0M388.5 485.5h0M389.5 458.5h0M389.5 485.5h0M389.5 502.5h0M390.5 458.5h0M390.5 459.5h0M390.5 460.5h0M390.5 501.5h0M390.5 503.5h0M391.5 457.5h0M391.5 458.5h0M391.5 468.5h0M391.5 483.5h0M391.5 503.5h0M392.5 457.5h0M392.5 460.5h0M392.5 462.5h0M392.5 463.5h0M392.5 466.5h0M392.5 469.5h0M392.5 484.5h0M392.5 501.5h0M393.5 455.5h0M393.5 456.5h0M393.5 457.5h0M393.5 459.5h0M393.5 461.5h0M393.5 462.5h0M393.5 463.5h0M393.5 464.5h0M393.5 465.5h0M393.5 468.5h0M393.5 469.5h0M393.5 470.5h0M393.5 484.5h0M394.5 454.5h0M394.5 455.5h0M394.5 456.5h0M394.5 466.5h0M394.5 469.5h0M394.5 484.5h0M394.5 501.5h0M395.5 455.5h0M395.5 465.5h0M395.5 469.5h0M395.5 470.5h0M395.5 501.5h0M396.5 453.5h0M396.5 470.5h0M396.5 501.5h0M396.5 502.5h0M397.5 453.5h0M397.5 454.5h0M397.5 465.5h0M397.5 466.5h0M397.5 467.5h0M397.5 468.5h0M397.5 469.5h0M397.5 470.5h0M397.5 485.5h0M397.5 486.5h0M397.5 500.5h0M397.5 502.5h0M398.5 466.5h0M398.5 469.5h0M398.5 485.5h0M398.5 497.5h0M398.5 499.5h0M399.5 454.5h0M399.5 465.5h0M399.5 469.5h0M399.5 488.5h0M399.5 491.5h0M399.5 495.5h0M399.5 497.5h0M400.5 454.5h0M400.5 463.5h0M400.5 464.5h0M400.5 465.5h0M400.5 467.5h0M400.5 468.5h0M400.5 469.5h0M400.5 489.5h0M400.5 490.5h0M400.5 491.5h0M400.5 492.5h0M400.5 493.5h0M400.5 494.5h0M401.5 454.5h0M401.5 459.5h0M401.5 460.5h0M401.5 461.5h0M401.5 467.5h0M401.5 488.5h0M401.5 490.5h0M401.5 491.5h0M401.5 493.5h0M401.5 494.5h0M402.5 455.5h0M402.5 457.5h0M402.5 458.5h0M402.5 462.5h0M402.5 463.5h0M402.5 490.5h0M402.5 493.5h0M403.5 455.5h0M403.5 457.5h0M403.5 458.5h0M403.5 490.5h0M403.5 492.5h0M403.5 493.5h0M403.5 494.5h0M404.5 459.5h0M404.5 489.5h0M405.5 489.5h0M405.5 490.5h0M406.5 490.5h0M408.5 491.5h0M409.5 492.5h0M409.5 495.5h0M409.5 496.5h0M410.5 490.5h0M410.5 491.5h0M410.5 494.5h0M411.5 490.5h0M411.5 491.5h0M411.5 492.5h0M411.5 496.5h0M411.5 498.5h0M412.5 488.5h0M412.5 497.5h0M412.5 499.5h0M413.5 487.5h0M413.5 489.5h0M413.5 498.5h0M413.5 499.5h0M414.5 499.5h0M414.5 501.5h0M415.5 487.5h0M415.5 488.5h0M415.5 499.5h0M415.5 501.5h0M416.5 487.5h0M416.5 501.5h0M416.5 502.5h0M416.5 503.5h0M417.5 486.5h0M417.5 501.5h0M418.5 486.5h0M418.5 503.5h0M418.5 504.5h0M419.5 503.5h0M420.5 483.5h0M420.5 485.5h0M420.5 504.5h0M421.5 483.5h0M421.5 484.5h0M421.5 504.5h0M423.5 504.5h0M424.5 486.5h0M424.5 503.5h0M424.5 504.5h0M425.5 485.5h0M425.5 502.5h0M426.5 486.5h0M426.5 502.5h0M426.5 503.5h0M427.5 485.5h0M427.5 501.5h0M427.5 502.5h0M428.5 485.5h0M428.5 486.5h0M428.5 501.5h0M428.5 502.5h0M429.5 502.5h0M430.5 486.5h0M430.5 501.5h0M431.5 486.5h0M431.5 501.5h0M431.5 502.5h0M431.5 503.5h0M432.5 486.5h0M432.5 503.5h0M433.5 485.5h0M433.5 486.5h0M433.5 502.5h0M433.5 503.5h0M434.5 502.5h0M435.5 501.5h0M436.5 484.5h0M436.5 485.5h0M436.5 501.5h0M437.5 485.5h0M437.5 501.5h0M437.5 502.5h0M438.5 484.5h0M438.5 485.5h0M438.5 500.5h0M439.5 484.5h0M439.5 486.5h0M439.5 487.5h0M439.5 499.5h0M440.5 485.5h0M440.5 493.5h0M440.5 495.5h0M440.5 496.5h0M440.5 497.5h0M440.5 498.5h0M440.5 499.5h0M441.5 488.5h0M441.5 490.5h0M441.5 492.5h0M441.5 493.5h0M441.5 498.5h0M441.5 500.5h0M442.5 491.5h0M442.5 493.5h0M442.5 495.5h0M442.5 497.5h0M442.5 498.5h0M442.5 499.5h0M443.5 490.5h0M443.5 491.5h0" stroke="#7c9ae6" stroke-width="1" stroke-linecap="square"/>
<path d="M385.5 490.5h0M385.5 491.5h0M385.5 492.5h0M385.5 493.5h0M385.5 494.5h0M385.5 495.5h0M385.5 496.5h0M386.5 490.5h0M386.5 491.5h0M386.5 498.5h0M387.5 486.5h0M387.5 487.5h0M387.5 488.5h0M387.5 497.5h0M387.5 498.5h0M388.5 486.5h0M388.5 487.5h0M388.5 498.5h0M389.5 499.5h0M389.5 500.5h0M390.5 486.5h0M390.5 487.5h0M390.5 500.5h0M391.5 485.5h0M391.5 500.5h0M391.5 501.5h0M392.5 485.5h0M392.5 486.5h0M392.5 487.5h0M392.5 500.5h0M393.5 485.5h0M393.5 486.5h0M393.5 487.5h0M393.5 500.5h0M394.5 460.5h0M394.5 461.5h0M394.5 467.5h0M394.5 468.5h0M394.5 485.5h0M394.5 486.5h0M394.5 487.5h0M394.5 500.5h0M395.5 456.5h0M395.5 457.5h0M395.5 458.5h0M395.5 459.5h0M395.5 461.5h0M395.5 463.5h0M395.5 466.5h0M395.5 467.5h0M395.5 468.5h0M395.5 487.5h0M395.5 499.5h0M396.5 456.5h0M396.5 457.5h0M396.5 458.5h0M396.5 462.5h0M396.5 463.5h0M396.5 467.5h0M396.5 486.5h0M396.5 487.5h0M396.5 488.5h0M396.5 498.5h0M396.5 499.5h0M397.5 457.5h0M397.5 463.5h0M397.5 464.5h0M397.5 487.5h0M397.5 488.5h0M397.5 489.5h0M397.5 490.5h0M397.5 496.5h0M398.5 456.5h0M398.5 458.5h0M398.5 490.5h0M398.5 492.5h0M398.5 493.5h0M398.5 494.5h0M398.5 495.5h0M399.5 456.5h0M399.5 457.5h0M399.5 461.5h0M399.5 462.5h0M399.5 463.5h0M399.5 492.5h0M399.5 494.5h0M400.5 455.5h0M400.5 456.5h0M400.5 457.5h0M400.5 458.5h0M400.5 460.5h0M400.5 461.5h0M401.5 456.5h0M401.5 457.5h0M401.5 458.5h0M411.5 494.5h0M411.5 495.5h0M412.5 491.5h0M412.5 492.5h0M412.5 493.5h0M412.5 494.5h0M412.5 495.5h0M412.5 496.5h0M413.5 490.5h0M413.5 493.5h0M413.5 496.5h0M413.5 497.5h0M414.5 489.5h0M414.5 490.5h0M414.5 491.5h0M414.5 496.5h0M415.5 490.5h0M416.5 488.5h0M416.5 497.5h0M416.5 498.5h0M416.5 499.5h0M417.5 488.5h0M417.5 498.5h0M417.5 499.5h0M417.5 500.5h0M418.5 499.5h0M418.5 501.5h0M418.5 502.5h0M419.5 486.5h0M419.5 487.5h0M419.5 502.5h0M420.5 486.5h0M420.5 502.5h0M421.5 486.5h0M421.5 503.5h0M422.5 487.5h0M422.5 503.5h0M423.5 486.5h0M423.5 487.5h0M423.5 503.5h0M424.5 487.5h0M424.5 501.5h0M424.5 502.5h0M425.5 487.5h0M425.5 500.5h0M426.5 487.5h0M426.5 500.5h0M427.5 488.5h0M427.5 489.5h0M427.5 500.5h0M428.5 487.5h0M428.5 488.5h0M429.5 489.5h0M429.5 500.5h0M430.5 487.5h0M430.5 488.5h0M430.5 489.5h0M430.5 499.5h0M430.5 500.5h0M431.5 487.5h0M431.5 488.5h0M431.5 489.5h0M431.5 498.5h0M431.5 499.5h0M431.5 500.5h0M432.5 488.5h0M432.5 498.5h0M433.5 488.5h0M433.5 489.5h0M433.5 498.5h0M433.5 499.5h0M433.5 500.5h0M434.5 487.5h0M434.5 500.5h0M435.5 486.5h0M435.5 487.5h0M435.5 499.5h0M436.5 487.5h0M436.5 498.5h0M436.5 499.5h0M436.5 500.5h0M437.5 486.5h0M437.5 487.5h0M437.5 497.5h0M437.5 498.5h0M437.5 499.5h0M437.5 500.5h0M438.5 486.5h0M438.5 488.5h0M438.5 489.5h0M438.5 490.5h0M438.5 491.5h0M438.5 492.5h0M438.5 493.5h0M438.5 494.5h0M438.5 495.5h0M438.5 496.5h0M438.5 497.5h0M438.5 499.5h0M439.5 488.5h0M439.5 489.5h0M439.5 490.5h0M439.5 491.5h0M439.5 494.5h0M439.5 497.5h0M439.5 498.5h0M440.5 490.5h0M440.5 491.5h0M440.5 492.5h0M441.5 491.5h0" stroke="#5888de" stroke-width="1" stroke-linecap="square"/>
<path d="M386.5 492.5h0M386.5 493.5h0M386.5 494.5h0M387.5 490.5h0M387.5 491.5h0M387.5 492.5h0M387.5 493.5h0M387.5 494.5h0M387.5 495.5h0M387.5 496.5h0M388.5 489.5h0M388.5 490.5h0M388.5 497.5h0M389.5 488.5h0M389.5 489.5h0M389.5 497.5h0M389.5 498.5h0M390.5 488.5h0M390.5 489.5h0M390.5 499.5h0M391.5 488.5h0M391.5 489.5h0M391.5 498.5h0M391.5 499.5h0M392.5 488.5h0M392.5 489.5h0M392.5 498.5h0M392.5 499.5h0M393.5 488.5h0M393.5 489.5h0M394.5 488.5h0M394.5 489.5h0M394.5 498.5h0M395.5 460.5h0M395.5 488.5h0M395.5 490.5h0M395.5 498.5h0M396.5 459.5h0M396.5 461.5h0M396.5 489.5h0M396.5 490.5h0M396.5 491.5h0M396.5 496.5h0M396.5 497.5h0M397.5 459.5h0M397.5 460.5h0M397.5 461.5h0M397.5 462.5h0M397.5 492.5h0M397.5 494.5h0M397.5 495.5h0M398.5 459.5h0M398.5 460.5h0M398.5 461.5h0M413.5 494.5h0M413.5 495.5h0M414.5 492.5h0M414.5 493.5h0M414.5 494.5h0M414.5 495.5h0M415.5 491.5h0M415.5 492.5h0M415.5 494.5h0M415.5 495.5h0M415.5 496.5h0M416.5 490.5h0M416.5 495.5h0M417.5 489.5h0M417.5 490.5h0M417.5 496.5h0M417.5 497.5h0M418.5 488.5h0M418.5 489.5h0M418.5 497.5h0M418.5 498.5h0M419.5 488.5h0M419.5 499.5h0M419.5 500.5h0M419.5 501.5h0M420.5 487.5h0M420.5 488.5h0M420.5 500.5h0M420.5 501.5h0M421.5 487.5h0M421.5 488.5h0M421.5 501.5h0M421.5 502.5h0M422.5 488.5h0M422.5 501.5h0M422.5 502.5h0M423.5 488.5h0M423.5 500.5h0M423.5 501.5h0M424.5 488.5h0M424.5 489.5h0M424.5 499.5h0M425.5 488.5h0M425.5 489.5h0M425.5 490.5h0M425.5 498.5h0M425.5 499.5h0M426.5 489.5h0M426.5 490.5h0M426.5 491.5h0M426.5 498.5h0M427.5 491.5h0M427.5 498.5h0M427.5 499.5h0M428.5 490.5h0M428.5 491.5h0M428.5 498.5h0M428.5 499.5h0M429.5 490.5h0M429.5 492.5h0M429.5 493.5h0M429.5 497.5h0M430.5 490.5h0M430.5 491.5h0M430.5 492.5h0M430.5 493.5h0M430.5 494.5h0M430.5 495.5h0M430.5 496.5h0M430.5 497.5h0M430.5 498.5h0M431.5 491.5h0M431.5 492.5h0M431.5 493.5h0M431.5 494.5h0M431.5 495.5h0M431.5 496.5h0M431.5 497.5h0M432.5 492.5h0M432.5 493.5h0M432.5 495.5h0M432.5 496.5h0M433.5 490.5h0M433.5 491.5h0M433.5 492.5h0M433.5 497.5h0M434.5 489.5h0M434.5 490.5h0M434.5 491.5h0M434.5 497.5h0M434.5 498.5h0M435.5 488.5h0M435.5 490.5h0M435.5 491.5h0M435.5 497.5h0M435.5 498.5h0M436.5 488.5h0M436.5 489.5h0M436.5 490.5h0M436.5 491.5h0M436.5 492.5h0M436.5 496.5h0M437.5 488.5h0M437.5 489.5h0M437.5 490.5h0M437.5 491.5h0M437.5 492.5h0M437.5 495.5h0M437.5 496.5h0" stroke="#3a98d2" stroke-width="1" stroke-linecap="square"/>
<path d="M388.5 491.5h0M388.5 492.5h0M388.5 493.5h0M388.5 494.5h0M388.5 495.5h0M389.5 490.5h0M389.5 491.5h0M389.5 492.5h0M389.5 495.5h0M389.5 496.5h0M390.5 491.5h0M390.5 496.5h0M390.5 497.5h0M391.5 490.5h0M391.5 491.5h0M391.5 497.5h0M392.5 490.5h0M392.5 491.5h0M392.5 497.5h0M393.5 490.5h0M393.5 491.5h0M393.5 498.5h0M394.5 490.5h0M394.5 491.5h0M394.5 497.5h0M395.5 491.5h0M395.5 492.5h0M395.5 495.5h0M395.5 496.5h0M395.5 497.5h0M396.5 492.5h0M396.5 493.5h0M396.5 494.5h0M416.5 492.5h0M416.5 493.5h0M416.5 494.5h0M417.5 491.5h0M417.5 495.5h0M418.5 490.5h0M418.5 496.5h0M419.5 489.5h0M419.5 490.5h0M419.5 497.5h0M419.5 498.5h0M420.5 489.5h0M420.5 490.5h0M420.5 498.5h0M421.5 489.5h0M421.5 490.5h0M421.5 499.5h0M421.5 500.5h0M422.5 489.5h0M422.5 490.5h0M422.5 499.5h0M422.5 500.5h0M423.5 489.5h0M423.5 490.5h0M423.5 498.5h0M423.5 499.5h0M424.5 490.5h0M424.5 491.5h0M424.5 497.5h0M424.5 498.5h0M425.5 491.5h0M425.5 492.5h0M426.5 496.5h0M426.5 497.5h0M427.5 492.5h0M427.5 494.5h0M427.5 495.5h0M427.5 496.5h0M427.5 497.5h0M428.5 492.5h0M428.5 493.5h0M428.5 494.5h0M428.5 495.5h0M428.5 496.5h0M428.5 497.5h0M429.5 494.5h0M429.5 496.5h0M432.5 494.5h0M433.5 493.5h0M433.5 494.5h0M433.5 495.5h0M433.5 496.5h0M434.5 493.5h0M434.5 494.5h0M434.5 495.5h0M434.5 496.5h0M435.5 492.5h0M435.5 493.5h0M435.5 494.5h0M435.5 495.5h0M435.5 496.5h0M436.5 493.5h0M436.5 494.5h0M436.5 495.5h0" stroke="#32aca6" stroke-width="1" stroke-linecap="square"/>
<path d="M389.5 493.5h0M389.5 494.5h0M390.5 493.5h0M390.5 494.5h0M391.5 492.5h0M391.5 493.5h0M391.5 494.5h0M391.5 495.5h0M392.5 492.5h0M392.5 493.5h0M392.5 495.5h0M392.5 496.5h0M393.5 492.5h0M393.5 493.5h0M393.5 495.5h0M393.5 496.5h0M394.5 492.5h0M394.5 493.5h0M394.5 494.5h0M394.5 495.5h0M394.5 496.5h0M395.5 493.5h0M395.5 494.5h0M417.5 492.5h0M417.5 493.5h0M417.5 494.5h0M418.5 491.5h0M418.5 492.5h0M418.5 493.5h0M418.5 494.5h0M418.5 495.5h0M419.5 491.5h0M419.5 492.5h0M419.5 496.5h0M420.5 491.5h0M420.5 492.5h0M420.5 496.5h0M420.5 497.5h0M421.5 491.5h0M421.5 492.5h0M421.5 497.5h0M421.5 498.5h0M422.5 491.5h0M422.5 492.5h0M422.5 497.5h0M423.5 491.5h0M423.5 492.5h0M423.5 496.5h0M423.5 497.5h0M424.5 493.5h0M424.5 496.5h0M425.5 493.5h0M425.5 494.5h0M425.5 495.5h0M425.5 496.5h0M426.5 494.5h0M426.5 495.5h0" stroke="#56be62" stroke-width="1" stroke-linecap="square"/>
<path d="M392.5 494.5h0M393.5 494.5h0M419.5 493.5h0M419.5 494.5h0M419.5 495.5h0M420.5 493.5h0M420.5 494.5h0M420.5 495.5h0M421.5 493.5h0M421.5 494.5h0M421.5 495.5h0M421.5 496.5h0M422.5 493.5h0M422.5 494.5h0M422.5 495.5h0M422.5 496.5h0M423.5 493.5h0M423.5 494.5h0M423.5 495.5h0M424.5 494.5h0M424.5 495.5h0" stroke="#b4d034" stroke-width="1" stroke-linecap="square"/>
</g>
<path d="M406.2 438.3V515.4M372.6 484.7H451.8" stroke="#e89ce4" stroke-width="0.9" fill="none"/>
<rect x="372.6" y="438.3" width="79.2" height="77.1" fill="none" stroke="#858585" stroke-width="1.4"/>
<path d="M372.9 438.3V515.4M372.6 515.1H451.8" stroke="#8a8a8a" stroke-width="2" stroke-dasharray="2.5 1.5"/>
<text x="373.80" y="445.30" font-size="7.5" fill="#1a1a1a" text-anchor="start" style="font-weight:bold;" >9.6</text>
<text x="450.70" y="445.30" font-size="7.5" fill="#1a1a1a" text-anchor="end" style="font-weight:bold;" >1.7</text>
<text x="373.80" y="514.50" font-size="7.5" fill="#1a1a1a" text-anchor="start" style="font-weight:bold;" >25.9</text>
<text x="450.70" y="514.50" font-size="7.5" fill="#1a1a1a" text-anchor="end" style="font-weight:bold;" >62.8</text>
<text x="413.50" y="436.00" font-size="10.8" fill="#1a1a1a" text-anchor="middle" style="font-weight:bold;" >Tamoxifen</text>
<path d="M68.4 314V517.3" stroke="#777" stroke-width="1.1"/>
<path d="M66.60000000000001 315.2L68.4 312L70.2 315.2Z" fill="#111"/>
<path d="M167.1 314V517.3" stroke="#777" stroke-width="1.1"/>
<path d="M165.29999999999998 315.2L167.1 312L168.9 315.2Z" fill="#111"/>
<path d="M265.2 312.6V517.3" stroke="#777" stroke-width="1.1"/>
<path d="M263.4 313.8L265.2 310.6L267.0 313.8Z" fill="#111"/>
<path d="M365.5 314V517.3" stroke="#777" stroke-width="1.1"/>
<path d="M363.7 315.2L365.5 312L367.3 315.2Z" fill="#111"/>
<path d="M78.8 522.2H450" stroke="#888" stroke-width="1.5"/>
<path d="M449 520.6L452.8 522.2L449 523.8Z" fill="#111"/>
<text x="263.10" y="533.20" font-size="10.3" fill="#222" text-anchor="middle" style="font-weight:bold;" >GFP</text>
<text transform="translate(66.2 414.3) rotate(-90)" font-size="10.7" text-anchor="middle" style="font-weight:bold" fill="#1a1a1a">c-Kit</text>
<text transform="translate(164.2 416.3) rotate(-90)" font-size="10.2" text-anchor="middle" style="font-weight:bold" fill="#1a1a1a">Gr1</text>
<text transform="translate(262 420.6) rotate(-90)" font-size="10.2" text-anchor="middle" style="font-weight:bold" fill="#1a1a1a">CD45</text>
<text transform="translate(363 419) rotate(-90)" font-size="10.6" text-anchor="middle" style="font-weight:bold" fill="#1a1a1a">CD45.2</text>
<text x="4.00" y="557.70" font-size="16" fill="#222" text-anchor="start" style="font-weight:bold;" >E</text>
<path d="M31.8 577.3V676.4H174.2" stroke="#333" stroke-width="1.3" fill="none"/>
<path d="M29.6 676.4H31.8" stroke="#333" stroke-width="1.2"/>
<text x="27.80" y="679.40" font-size="8.5" fill="#222" text-anchor="end" style="font-weight:bold;" >0</text>
<path d="M29.6 656.6H31.8" stroke="#333" stroke-width="1.2"/>
<text x="27.80" y="659.58" font-size="8.5" fill="#222" text-anchor="end" style="font-weight:bold;" >20</text>
<path d="M29.6 636.8H31.8" stroke="#333" stroke-width="1.2"/>
<text x="27.80" y="639.76" font-size="8.5" fill="#222" text-anchor="end" style="font-weight:bold;" >40</text>
<path d="M29.6 616.9H31.8" stroke="#333" stroke-width="1.2"/>
<text x="27.80" y="619.94" font-size="8.5" fill="#222" text-anchor="end" style="font-weight:bold;" >60</text>
<path d="M29.6 597.1H31.8" stroke="#333" stroke-width="1.2"/>
<text x="27.80" y="600.12" font-size="8.5" fill="#222" text-anchor="end" style="font-weight:bold;" >80</text>
<path d="M29.6 577.3H31.8" stroke="#333" stroke-width="1.2"/>
<text x="27.80" y="580.30" font-size="8.5" fill="#222" text-anchor="end" style="font-weight:bold;" >100</text>
<path d="M31.9 676.4V678.9" stroke="#333" stroke-width="1.2"/>
<text x="32.20" y="688.70" font-size="8.5" fill="#222" text-anchor="middle" style="font-weight:bold;" >0</text>
<path d="M53.6 676.4V678.9" stroke="#333" stroke-width="1.2"/>
<text x="53.95" y="688.70" font-size="8.5" fill="#222" text-anchor="middle" style="font-weight:bold;" >20</text>
<path d="M75.4 676.4V678.9" stroke="#333" stroke-width="1.2"/>
<text x="75.70" y="688.70" font-size="8.5" fill="#222" text-anchor="middle" style="font-weight:bold;" >40</text>
<path d="M97.2 676.4V678.9" stroke="#333" stroke-width="1.2"/>
<text x="97.45" y="688.70" font-size="8.5" fill="#222" text-anchor="middle" style="font-weight:bold;" >60</text>
<path d="M118.9 676.4V678.9" stroke="#333" stroke-width="1.2"/>
<text x="119.20" y="688.70" font-size="8.5" fill="#222" text-anchor="middle" style="font-weight:bold;" >80</text>
<path d="M140.6 676.4V678.9" stroke="#333" stroke-width="1.2"/>
<text x="140.95" y="688.70" font-size="8.5" fill="#222" text-anchor="middle" style="font-weight:bold;" >100</text>
<path d="M162.4 676.4V678.9" stroke="#333" stroke-width="1.2"/>
<text x="162.70" y="688.70" font-size="8.5" fill="#222" text-anchor="middle" style="font-weight:bold;" >120</text>
<text x="103.40" y="700.90" font-size="9.9" fill="#222" text-anchor="middle" style="font-weight:bold;" >Days</text>
<text transform="translate(12.3 625.4) rotate(-90)" font-size="10.6" text-anchor="middle" style="font-weight:bold" fill="#222">Percent survival</text>
<path d="M31.8 577.3H110.2V597.1H169.9" stroke="#38b038" stroke-width="1.3" fill="none" stroke-dasharray="3 2"/>
<path d="M110.2 594.5L112.7 598.9H107.7Z" fill="#38b038"/>
<path d="M169.9 594.5L172.4 598.9H167.4Z" fill="#38b038"/>
<path d="M31.8 577.3H81.3V597.1H115.1V616.9H158.9V636.8H169.9" stroke="#1818c8" stroke-width="1.3" fill="none" stroke-dasharray="3 2"/>
<rect x="79.1" y="594.9" width="4.4" height="4.4" fill="#1818c8"/>
<rect x="112.9" y="614.7" width="4.4" height="4.4" fill="#1818c8"/>
<rect x="156.7" y="634.6" width="4.4" height="4.4" fill="#1818c8"/>
<rect x="167.7" y="634.6" width="4.4" height="4.4" fill="#1818c8"/>
<path d="M31.8 577.3H76.7V597.1H84.2V616.9H89.7V636.8H103.5V656.6H121.7V676.4" stroke="#e02020" stroke-width="1.3" fill="none" stroke-dasharray="3 2"/>
<circle cx="76.7" cy="597.1" r="2.3" fill="#e02020"/>
<circle cx="84.2" cy="616.9" r="2.3" fill="#e02020"/>
<circle cx="89.7" cy="636.8" r="2.3" fill="#e02020"/>
<circle cx="103.5" cy="656.6" r="2.3" fill="#e02020"/>
<circle cx="121.7" cy="676.4" r="2.3" fill="#e02020"/>
<path d="M31.8 577.3H90.6V597.1H133.3V616.9H169.9" stroke="#38b038" stroke-width="1.3" fill="none"/>
<path d="M90.6 594.5L93.1 598.9H88.1Z" fill="#38b038"/>
<path d="M133.3 614.3L135.8 618.7H130.8Z" fill="#38b038"/>
<path d="M169.9 614.3L172.4 618.7H167.4Z" fill="#38b038"/>
<path d="M31.8 577.3H81.3V597.1H92.0V616.9H94.0V636.8H116.0V656.6H156.3V676.4" stroke="#1818c8" stroke-width="1.3" fill="none"/>
<rect x="79.1" y="594.9" width="4.4" height="4.4" fill="#1818c8"/>
<rect x="89.8" y="614.7" width="4.4" height="4.4" fill="#1818c8"/>
<rect x="91.8" y="634.6" width="4.4" height="4.4" fill="#1818c8"/>
<rect x="113.8" y="654.4" width="4.4" height="4.4" fill="#1818c8"/>
<rect x="154.1" y="674.2" width="4.4" height="4.4" fill="#1818c8"/>
<path d="M31.8 577.3H59.5V597.1H70.2V616.9H73.8V636.8H77.6V656.6H84.2V676.4" stroke="#e02020" stroke-width="1.3" fill="none"/>
<circle cx="59.5" cy="597.1" r="2.3" fill="#e02020"/>
<circle cx="70.2" cy="616.9" r="2.3" fill="#e02020"/>
<circle cx="73.8" cy="636.8" r="2.3" fill="#e02020"/>
<circle cx="77.6" cy="656.6" r="2.3" fill="#e02020"/>
<circle cx="84.2" cy="676.4" r="2.3" fill="#e02020"/>
<path d="M95.8 577.3H169.9" stroke="#5a2a7a" stroke-width="1.2" stroke-dasharray="3 2" fill="none"/>
<path d="M169.9 574.7L172.3 577.3L169.9 579.9L167.5 577.3Z" fill="#5a2a7a"/>
<path d="M31.8 577.3H95.8V597.1H169.9" stroke="#5a2a7a" stroke-width="1.3" fill="none"/>
<path d="M95.8 594.5L98.2 597.1L95.8 599.7L93.4 597.1Z" fill="#5a2a7a"/>
<path d="M169.9 594.5L172.3 597.1L169.9 599.7L167.5 597.1Z" fill="#5a2a7a"/>
<path d="M187.4 584.1H197.3" stroke="#e02020" stroke-width="1.2"/>
<circle cx="192.4" cy="584.1" r="2.3" fill="#e02020"/>
<text x="203.5" y="587.7" font-size="8.2" textLength="60" lengthAdjust="spacingAndGlyphs" style="font-weight:bold" fill="#222">AE9ald1fl/fl 3x10</text>
<text x="263.9" y="583.7" font-size="5.4" style="font-weight:bold" fill="#222">6</text>
<path d="M187.4 595.4H197.3" stroke="#e02020" stroke-width="1.2" stroke-dasharray="3 2"/>
<circle cx="192.4" cy="595.4" r="2.3" fill="#e02020"/>
<text x="203.5" y="599.0" font-size="8.2" textLength="60" lengthAdjust="spacingAndGlyphs" style="font-weight:bold" fill="#222">AE9ald1&#916;/&#916; 3x10</text>
<text x="263.9" y="595.0" font-size="5.4" style="font-weight:bold" fill="#222">6</text>
<path d="M187.4 606.8H197.3" stroke="#1818c8" stroke-width="1.2"/>
<rect x="190.2" y="604.6" width="4.4" height="4.4" fill="#1818c8"/>
<text x="203.5" y="610.4" font-size="8.2" textLength="60" lengthAdjust="spacingAndGlyphs" style="font-weight:bold" fill="#222">AE9ald1fl/fl 3x10</text>
<text x="263.9" y="606.4" font-size="5.4" style="font-weight:bold" fill="#222">5</text>
<path d="M187.4 618.1H197.3" stroke="#1818c8" stroke-width="1.2" stroke-dasharray="3 2"/>
<rect x="190.2" y="615.9" width="4.4" height="4.4" fill="#1818c8"/>
<text x="203.5" y="621.7" font-size="8.2" textLength="60" lengthAdjust="spacingAndGlyphs" style="font-weight:bold" fill="#222">AE9ald1&#916;/&#916; 3x10</text>
<text x="263.9" y="617.7" font-size="5.4" style="font-weight:bold" fill="#222">5</text>
<path d="M187.4 629.4H197.3" stroke="#38b038" stroke-width="1.2"/>
<path d="M192.4 626.8L194.9 631.2H189.9Z" fill="#38b038"/>
<text x="203.5" y="633.0" font-size="8.2" textLength="60" lengthAdjust="spacingAndGlyphs" style="font-weight:bold" fill="#222">AE9ald1fl/fl 3x10</text>
<text x="263.9" y="629.0" font-size="5.4" style="font-weight:bold" fill="#222">4</text>
<path d="M187.4 640.8H197.3" stroke="#38b038" stroke-width="1.2" stroke-dasharray="3 2"/>
<path d="M192.4 638.1L194.9 642.5H189.9Z" fill="#38b038"/>
<text x="203.5" y="644.4" font-size="8.2" textLength="60" lengthAdjust="spacingAndGlyphs" style="font-weight:bold" fill="#222">AE9ald1&#916;/&#916; 3x10</text>
<text x="263.9" y="640.4" font-size="5.4" style="font-weight:bold" fill="#222">4</text>
<path d="M187.4 652.1H197.3" stroke="#5a2a7a" stroke-width="1.2"/>
<path d="M192.4 649.5L194.8 652.1L192.4 654.7L190.0 652.1Z" fill="#5a2a7a"/>
<text x="203.5" y="655.7" font-size="8.2" textLength="60" lengthAdjust="spacingAndGlyphs" style="font-weight:bold" fill="#222">AE9ald1fl/fl 3x10</text>
<text x="263.9" y="651.7" font-size="5.4" style="font-weight:bold" fill="#222">3</text>
<path d="M187.4 663.4H197.3" stroke="#5a2a7a" stroke-width="1.2" stroke-dasharray="3 2"/>
<path d="M192.4 660.8L194.8 663.4L192.4 666.0L190.0 663.4Z" fill="#5a2a7a"/>
<text x="203.5" y="667.0" font-size="8.2" textLength="60" lengthAdjust="spacingAndGlyphs" style="font-weight:bold" fill="#222">AE9ald1&#916;/&#916; 3x10</text>
<text x="263.9" y="663.0" font-size="5.4" style="font-weight:bold" fill="#222">3</text>
<rect x="277" y="552" width="241.8" height="24" fill="#8db3e2"/>
<rect x="277" y="576" width="241.8" height="28.2" fill="#d0d8e8"/>
<rect x="277" y="604.2" width="241.8" height="15.4" fill="#e9edf4"/>
<rect x="277" y="619.6" width="241.8" height="15.6" fill="#d0d8e8"/>
<rect x="277" y="635.2" width="241.8" height="15.9" fill="#e9edf4"/>
<rect x="277" y="651.1" width="241.8" height="15.9" fill="#d0d8e8"/>
<rect x="277" y="667" width="241.8" height="15.6" fill="#e9edf4"/>
<rect x="277" y="682.6" width="241.8" height="27.4" fill="#d0d8e8"/>
<path d="M277 576H518.8" stroke="#fff" stroke-width="0.8"/>
<path d="M277 604.2H518.8" stroke="#fff" stroke-width="0.8"/>
<path d="M277 619.6H518.8" stroke="#fff" stroke-width="0.8"/>
<path d="M277 635.2H518.8" stroke="#fff" stroke-width="0.8"/>
<path d="M277 651.1H518.8" stroke="#fff" stroke-width="0.8"/>
<path d="M277 667H518.8" stroke="#fff" stroke-width="0.8"/>
<path d="M277 682.6H518.8" stroke="#fff" stroke-width="0.8"/>
<path d="M336.8 576V710M460.9 576V710" stroke="#fff" stroke-width="0.8"/>
<path d="M399.2 552V710" stroke="#fff" stroke-width="1"/>
<text x="337.60" y="567.30" font-size="9.1" fill="#1a2236" text-anchor="middle" style="font-weight:bold;" >Experimental design</text>
<text x="459.50" y="562.80" font-size="9.1" fill="#1a2236" text-anchor="middle" style="font-weight:bold;" >No. of mice developing</text>
<text x="459.20" y="573.20" font-size="9.1" fill="#1a2236" text-anchor="middle" style="font-weight:bold;" >leukemia</text>
<text x="307.00" y="588.60" font-size="9.15" fill="#333" text-anchor="middle" style="" >NO. of cells</text>
<text x="307.00" y="599.40" font-size="9.15" fill="#333" text-anchor="middle" style="" >transplanted</text>
<text x="368.00" y="588.60" font-size="9.15" fill="#333" text-anchor="middle" style="" >NO. of mice</text>
<text x="368.00" y="599.40" font-size="9.15" fill="#333" text-anchor="middle" style="" >per group</text>
<text x="430.00" y="594.20" font-size="9.15" fill="#333" text-anchor="middle" style="" >AE9ald1fl/fl</text>
<text x="490.00" y="594.20" font-size="9.15" fill="#333" text-anchor="middle" style="" >AE9ald1&#916;/&#916;</text>
<text x="307.00" y="614.80" font-size="9.15" fill="#333" text-anchor="middle" style="" >300</text>
<text x="368.00" y="614.80" font-size="9.15" fill="#333" text-anchor="middle" style="" >5</text>
<text x="430.00" y="614.80" font-size="9.15" fill="#333" text-anchor="middle" style="" >0</text>
<text x="490.00" y="614.80" font-size="9.15" fill="#333" text-anchor="middle" style="" >0</text>
<text x="307.00" y="630.40" font-size="9.15" fill="#333" text-anchor="middle" style="" >3000</text>
<text x="368.00" y="630.40" font-size="9.15" fill="#333" text-anchor="middle" style="" >5</text>
<text x="430.00" y="630.40" font-size="9.15" fill="#333" text-anchor="middle" style="" >1</text>
<text x="490.00" y="630.40" font-size="9.15" fill="#333" text-anchor="middle" style="" >0</text>
<text x="307.00" y="646.00" font-size="9.15" fill="#333" text-anchor="middle" style="" >30000</text>
<text x="368.00" y="646.00" font-size="9.15" fill="#333" text-anchor="middle" style="" >5</text>
<text x="430.00" y="646.00" font-size="9.15" fill="#333" text-anchor="middle" style="" >2</text>
<text x="490.00" y="646.00" font-size="9.15" fill="#333" text-anchor="middle" style="" >2</text>
<text x="307.00" y="661.80" font-size="9.15" fill="#333" text-anchor="middle" style="" >300000</text>
<text x="368.00" y="661.80" font-size="9.15" fill="#333" text-anchor="middle" style="" >5</text>
<text x="430.00" y="661.80" font-size="9.15" fill="#333" text-anchor="middle" style="" >5</text>
<text x="490.00" y="661.80" font-size="9.15" fill="#333" text-anchor="middle" style="" >3</text>
<text x="307.00" y="677.70" font-size="9.15" fill="#333" text-anchor="middle" style="" >3000000</text>
<text x="368.00" y="677.70" font-size="9.15" fill="#333" text-anchor="middle" style="" >5</text>
<text x="430.00" y="677.70" font-size="9.15" fill="#333" text-anchor="middle" style="" >5</text>
<text x="490.00" y="677.70" font-size="9.15" fill="#333" text-anchor="middle" style="" >5</text>
<text x="307.00" y="693.60" font-size="9.15" fill="#333" text-anchor="middle" style="" >Frequency of</text>
<text x="307.00" y="704.50" font-size="9.15" fill="#333" text-anchor="middle" style="" >LIC</text>
<text x="430.00" y="699.00" font-size="9.15" fill="#333" text-anchor="middle" style="" >1:43,355</text>
<text x="490.00" y="699.00" font-size="9.15" fill="#333" text-anchor="middle" style="" >1:217,059</text>
</svg>
</body></html>
